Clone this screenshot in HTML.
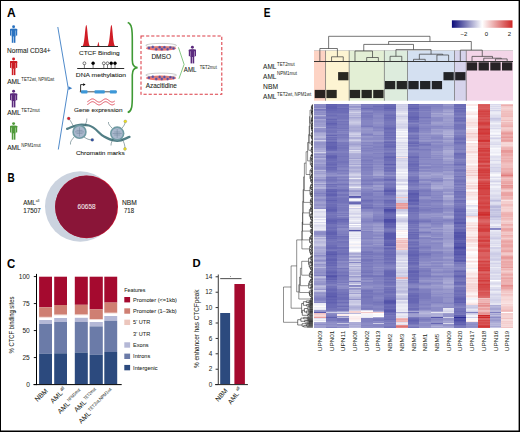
<!DOCTYPE html>
<html><head><meta charset="utf-8"><style>
html,body{margin:0;padding:0;background:#fff;}
#f{position:relative;width:520px;height:432px;overflow:hidden;background:#fff;}
svg{position:absolute;left:0;top:0;}
text{font-family:"Liberation Sans",sans-serif;stroke-width:0.05px;}
text.h{stroke-width:0.09px;}
</style></head><body><div id="f">
<svg width="520" height="432" viewBox="0 0 520 432">
<text transform="translate(6.9,17.1)" font-size="12" font-weight="bold" fill="#000" stroke="#000">A</text>
<g fill="#2a72c0"><circle cx="13.6" cy="26.7" r="1.45"/><path d="M10.00,29.40q0,-0.6 0.6,-0.6h6q0.6,0 0.6,0.6v1.2h-7.2z"/><rect x="10.00" y="29.30" width="1.3" height="6.3"/><rect x="15.90" y="29.30" width="1.3" height="6.3"/><rect x="11.60" y="28.80" width="4.0" height="7.6"/><rect x="11.80" y="35.90" width="1.55" height="6.9"/><rect x="13.85" y="35.90" width="1.55" height="6.9"/></g>
<g fill="#cc1d24"><circle cx="13.6" cy="59.0" r="1.45"/><path d="M10.00,61.70q0,-0.6 0.6,-0.6h6q0.6,0 0.6,0.6v1.2h-7.2z"/><rect x="10.00" y="61.60" width="1.3" height="6.3"/><rect x="15.90" y="61.60" width="1.3" height="6.3"/><rect x="11.60" y="61.10" width="4.0" height="7.6"/><rect x="11.80" y="68.20" width="1.55" height="6.9"/><rect x="13.85" y="68.20" width="1.55" height="6.9"/></g>
<g fill="#5b2a7d"><circle cx="13.6" cy="91.3" r="1.45"/><path d="M10.00,94.00q0,-0.6 0.6,-0.6h6q0.6,0 0.6,0.6v1.2h-7.2z"/><rect x="10.00" y="93.90" width="1.3" height="6.3"/><rect x="15.90" y="93.90" width="1.3" height="6.3"/><rect x="11.60" y="93.40" width="4.0" height="7.6"/><rect x="11.80" y="100.50" width="1.55" height="6.9"/><rect x="13.85" y="100.50" width="1.55" height="6.9"/></g>
<g fill="#4f9a3a"><circle cx="13.6" cy="123.6" r="1.45"/><path d="M10.00,126.30q0,-0.6 0.6,-0.6h6q0.6,0 0.6,0.6v1.2h-7.2z"/><rect x="10.00" y="126.20" width="1.3" height="6.3"/><rect x="15.90" y="126.20" width="1.3" height="6.3"/><rect x="11.60" y="125.70" width="4.0" height="7.6"/><rect x="11.80" y="132.80" width="1.55" height="6.9"/><rect x="13.85" y="132.80" width="1.55" height="6.9"/></g>
<text x="7" y="52.6" font-size="6.6" fill="#231f20" stroke="#231f20" class="h" textLength="43.7" lengthAdjust="spacingAndGlyphs">Normal CD34+</text>
<text x="7.2" y="83.7" font-size="7" fill="#231f20" stroke="#231f20" class="h" textLength="13.6" lengthAdjust="spacingAndGlyphs">AML</text>
<text x="21.3" y="80.8" font-size="4.9" fill="#231f20" textLength="33" lengthAdjust="spacingAndGlyphs">TET2wt, NPM1wt</text>
<text x="7.2" y="115.0" font-size="7" fill="#231f20" stroke="#231f20" class="h" textLength="13.6" lengthAdjust="spacingAndGlyphs">AML</text>
<text x="21.3" y="112.1" font-size="4.9" fill="#231f20" textLength="18.5" lengthAdjust="spacingAndGlyphs">TET2mut</text>
<text x="7.2" y="149.6" font-size="7" fill="#231f20" stroke="#231f20" class="h" textLength="13.6" lengthAdjust="spacingAndGlyphs">AML</text>
<text x="21.3" y="146.7" font-size="4.9" fill="#231f20" textLength="19.5" lengthAdjust="spacingAndGlyphs">NPM1mut</text>
<path d="M57.8,27 L68.2,88 L58.3,149.5" fill="none" stroke="#3b7dc4" stroke-width="0.9"/>
<path d="M68.5,86.3 L72.2,88.2 L68.5,90.1z" fill="#3b7dc4"/>
<path d="M82.1,46.5 C84.83,46.5 85.03999999999999,25 86.3,25 C87.56,25 87.77,46.5 90.5,46.5z M96.80000000000001,46.5 C97.84,46.5 97.92,42 98.4,42 C98.88000000000001,42 98.96000000000001,46.5 100.0,46.5z M107.2,46.5 C109.93,46.5 110.14,25 111.4,25 C112.66000000000001,25 112.87,46.5 115.60000000000001,46.5z" fill="#d01c25"/>
<rect x="81" y="46" width="37" height="1" fill="#2b2b2b"/>
<text x="79" y="55.3" font-size="6.2" fill="#231f20" stroke="#231f20" class="h" textLength="40.6" lengthAdjust="spacingAndGlyphs">CTCF Binding</text>
<rect x="77.2" y="68" width="47" height="1" fill="#2b2b2b"/>
<line x1="84.4" y1="64" x2="84.4" y2="68.2" stroke="#2b2b2b" stroke-width="0.6"/>
<circle cx="84.4" cy="63.3" r="1.45" fill="#fff" stroke="#000" stroke-width="0.5"/>
<line x1="93.1" y1="64" x2="93.1" y2="68.2" stroke="#2b2b2b" stroke-width="0.6"/>
<circle cx="93.1" cy="63.3" r="1.45" fill="#000" stroke="#000" stroke-width="0.5"/>
<line x1="103.8" y1="64" x2="103.8" y2="68.2" stroke="#2b2b2b" stroke-width="0.6"/>
<circle cx="103.8" cy="63.3" r="1.45" fill="#fff" stroke="#000" stroke-width="0.5"/>
<line x1="107.5" y1="64" x2="107.5" y2="68.2" stroke="#2b2b2b" stroke-width="0.6"/>
<circle cx="107.5" cy="63.3" r="1.45" fill="#fff" stroke="#000" stroke-width="0.5"/>
<line x1="111.2" y1="64" x2="111.2" y2="68.2" stroke="#2b2b2b" stroke-width="0.6"/>
<circle cx="111.2" cy="63.3" r="1.45" fill="#000" stroke="#000" stroke-width="0.5"/>
<line x1="115" y1="64" x2="115" y2="68.2" stroke="#2b2b2b" stroke-width="0.6"/>
<circle cx="115" cy="63.3" r="1.45" fill="#000" stroke="#000" stroke-width="0.5"/>
<text x="75.8" y="77" font-size="6.2" fill="#231f20" stroke="#231f20" class="h" textLength="50.2" lengthAdjust="spacingAndGlyphs">DNA methylation</text>
<rect x="79.8" y="91.3" width="37" height="1" fill="#555"/>
<rect x="81" y="90.2" width="6.5" height="3.4" rx="0.8" fill="#3d98d8"/>
<rect x="94.5" y="90.2" width="10.299999999999997" height="3.4" rx="0.8" fill="#3d98d8"/>
<rect x="109.8" y="90.2" width="6.900000000000006" height="3.4" rx="0.8" fill="#3d98d8"/>
<path d="M80.6,91.5 V84.6 H83.5" fill="none" stroke="#000" stroke-width="0.8"/>
<path d="M83.2,83.2 L85.6,84.6 L83.2,86z" fill="#000"/>
<path d="M87.30,101.79 L87.76,101.56 L88.22,101.27 L88.67,100.95 L89.13,100.60 L89.59,100.25 L90.05,99.91 L90.51,99.60 L90.97,99.33 L91.42,99.12 L91.88,98.98 L92.34,98.91 L92.80,98.91 L93.26,99.00 L93.72,99.15 L94.17,99.37 L94.63,99.64 L95.09,99.96 L95.55,100.30 L96.01,100.65 L96.47,101.00 L96.92,101.32 L97.38,101.60 L97.84,101.82 L98.30,101.99 L98.76,102.08 L99.22,102.10 L99.67,102.04 L100.13,101.90 L100.59,101.70 L101.05,101.44 L101.51,101.13 L101.97,100.80 L102.42,100.45 L102.88,100.10 L103.34,99.77 L103.80,99.48 L104.26,99.23 L104.72,99.05 L105.17,98.94 L105.63,98.90 L106.09,98.94 L106.55,99.05 L107.01,99.24 L107.47,99.48 L107.92,99.77 L108.38,100.10 L108.84,100.45 L109.30,100.80 L109.76,101.14 L110.22,101.44 L110.67,101.70 L111.13,101.90 L111.59,102.04 L112.05,102.10 L112.51,102.08 L112.97,101.99 L113.42,101.82 L113.88,101.59 L114.34,101.31 L114.80,100.99" fill="none" stroke="#dc3346" stroke-width="0.85"/>
<path d="M87.30,104.59 L87.76,104.36 L88.22,104.07 L88.67,103.75 L89.13,103.40 L89.59,103.05 L90.05,102.71 L90.51,102.40 L90.97,102.13 L91.42,101.92 L91.88,101.78 L92.34,101.71 L92.80,101.71 L93.26,101.80 L93.72,101.95 L94.17,102.17 L94.63,102.44 L95.09,102.76 L95.55,103.10 L96.01,103.45 L96.47,103.80 L96.92,104.12 L97.38,104.40 L97.84,104.62 L98.30,104.79 L98.76,104.88 L99.22,104.90 L99.67,104.84 L100.13,104.70 L100.59,104.50 L101.05,104.24 L101.51,103.93 L101.97,103.60 L102.42,103.25 L102.88,102.90 L103.34,102.57 L103.80,102.28 L104.26,102.03 L104.72,101.85 L105.17,101.74 L105.63,101.70 L106.09,101.74 L106.55,101.85 L107.01,102.04 L107.47,102.28 L107.92,102.57 L108.38,102.90 L108.84,103.25 L109.30,103.60 L109.76,103.94 L110.22,104.24 L110.67,104.50 L111.13,104.70 L111.59,104.84 L112.05,104.90 L112.51,104.88 L112.97,104.79 L113.42,104.62 L113.88,104.39 L114.34,104.11 L114.80,103.79" fill="none" stroke="#dc3346" stroke-width="0.85"/>
<text x="74" y="111.7" font-size="6.2" fill="#231f20" stroke="#231f20" class="h" textLength="48.5" lengthAdjust="spacingAndGlyphs">Gene expression</text>
<path d="M67.1,128.8 C72,127 75,125 79.5,124.8 C84,124.6 86,124.8 89,125.5 C96,127.5 99,134 104,136.5 C108,139 111,140.5 117,140.8 C122,141 126,138 129.5,136.9" fill="none" stroke="#527f86" stroke-width="2.3" stroke-linecap="round"/>
<circle cx="79.5" cy="131.9" r="7.2" fill="#6f9aa3"/>
<circle cx="79.5" cy="131.9" r="5.6" fill="#a9b7cc"/>
<path d="M75.0,131.9 H84.0 M79.5,127.4 V136.4 M76.5,130.4 H82.5 M76.5,133.4 H82.5" stroke="#6a7f96" stroke-width="0.45"/>
<circle cx="117.2" cy="133.5" r="7.2" fill="#6f9aa3"/>
<circle cx="117.2" cy="133.5" r="5.6" fill="#a9b7cc"/>
<path d="M112.7,133.5 H121.7 M117.2,129.0 V138.0 M114.2,132.0 H120.2 M114.2,135.0 H120.2" stroke="#6a7f96" stroke-width="0.45"/>
<path d="M74,127 C72,124 71,121 68.7,118.5" fill="none" stroke="#3f5f68" stroke-width="0.55"/>
<path d="M85,126 C86,123 87,121 86.8,118.5" fill="none" stroke="#3f5f68" stroke-width="0.55"/>
<path d="M84,137 C87,139 89,140 92.3,139.9" fill="none" stroke="#3f5f68" stroke-width="0.55"/>
<path d="M74,137 C72,140 70,141 70.5,144.5" fill="none" stroke="#3f5f68" stroke-width="0.55"/>
<path d="M112,128 C110,126 108,124 108.5,122" fill="none" stroke="#3f5f68" stroke-width="0.55"/>
<path d="M122,128 C124,126 125,124 125.3,121.4" fill="none" stroke="#3f5f68" stroke-width="0.55"/>
<path d="M113,139 C112,141 111,143 111,145.5" fill="none" stroke="#3f5f68" stroke-width="0.55"/>
<path d="M122,139 C124,142 125,145 125,149" fill="none" stroke="#3f5f68" stroke-width="0.55"/>
<circle cx="68.7" cy="118.5" r="1.45" fill="#e01b2a" stroke="#666" stroke-width="0.3"/>
<circle cx="92.3" cy="139.9" r="1.45" fill="#2c4fa8" stroke="#666" stroke-width="0.3"/>
<circle cx="125.3" cy="121.4" r="1.45" fill="#f2e51a" stroke="#666" stroke-width="0.3"/>
<circle cx="125" cy="149" r="1.45" fill="#f2e51a" stroke="#666" stroke-width="0.3"/>
<text x="75.9" y="154.8" font-size="6.2" fill="#231f20" stroke="#231f20" class="h" textLength="48.7" lengthAdjust="spacingAndGlyphs">Chromatin marks</text>
<path d="M127.7,22.6 C132,24 132.3,30 132.3,40 L132.3,60 C132.3,65 134,67.4 137.6,67.6 C134,67.8 132.3,70 132.3,75 L132.3,96 C132.3,106 132,111 127.7,112.6" fill="none" stroke="#3f9a35" stroke-width="1.6"/>
<rect x="141" y="36" width="80.8" height="58.3" fill="none" stroke="#dc3c46" stroke-width="1.05" stroke-dasharray="3.2,1.9"/>
<ellipse cx="161.1" cy="48.30" rx="15.1" ry="2.4" fill="#f3766c"/><ellipse cx="161.15" cy="45.40" rx="15.35" ry="2.0" fill="none" stroke="#8c8c8c" stroke-width="0.45"/><circle cx="149" cy="48.00" r="1.25" fill="#574c9c" stroke="#9088c4" stroke-width="0.3"/><circle cx="152.8" cy="47.10" r="1.25" fill="#574c9c" stroke="#9088c4" stroke-width="0.3"/><circle cx="156.2" cy="49.20" r="1.25" fill="#574c9c" stroke="#9088c4" stroke-width="0.3"/><circle cx="159.7" cy="47.30" r="1.25" fill="#574c9c" stroke="#9088c4" stroke-width="0.3"/><circle cx="161.8" cy="49.30" r="1.25" fill="#574c9c" stroke="#9088c4" stroke-width="0.3"/><circle cx="164.4" cy="47.30" r="1.25" fill="#574c9c" stroke="#9088c4" stroke-width="0.3"/><circle cx="167.6" cy="49.30" r="1.25" fill="#574c9c" stroke="#9088c4" stroke-width="0.3"/><circle cx="170.3" cy="47.60" r="1.25" fill="#574c9c" stroke="#9088c4" stroke-width="0.3"/><circle cx="173.5" cy="48.40" r="1.25" fill="#574c9c" stroke="#9088c4" stroke-width="0.3"/>
<text x="151.4" y="58.7" font-size="6.4" fill="#231f20" stroke="#231f20" class="h" textLength="19.6" lengthAdjust="spacingAndGlyphs">DMSO</text>
<ellipse cx="161.1" cy="78.00" rx="15.1" ry="2.4" fill="#f3766c"/><ellipse cx="161.15" cy="75.10" rx="15.35" ry="2.0" fill="none" stroke="#8c8c8c" stroke-width="0.45"/><circle cx="149" cy="77.70" r="1.25" fill="#574c9c" stroke="#9088c4" stroke-width="0.3"/><circle cx="152.8" cy="76.80" r="1.25" fill="#574c9c" stroke="#9088c4" stroke-width="0.3"/><circle cx="156.2" cy="78.90" r="1.25" fill="#574c9c" stroke="#9088c4" stroke-width="0.3"/><circle cx="159.7" cy="77.00" r="1.25" fill="#574c9c" stroke="#9088c4" stroke-width="0.3"/><circle cx="161.8" cy="79.00" r="1.25" fill="#574c9c" stroke="#9088c4" stroke-width="0.3"/><circle cx="164.4" cy="77.00" r="1.25" fill="#574c9c" stroke="#9088c4" stroke-width="0.3"/><circle cx="167.6" cy="79.00" r="1.25" fill="#574c9c" stroke="#9088c4" stroke-width="0.3"/><circle cx="170.3" cy="77.30" r="1.25" fill="#574c9c" stroke="#9088c4" stroke-width="0.3"/><circle cx="173.5" cy="78.10" r="1.25" fill="#574c9c" stroke="#9088c4" stroke-width="0.3"/>
<text x="145.7" y="88.4" font-size="6.4" fill="#231f20" stroke="#231f20" class="h" textLength="31.1" lengthAdjust="spacingAndGlyphs">Azacitidine</text>
<path d="M178.4,47.3 L184.1,64.4 L178.9,78.8" fill="none" stroke="#5cb45a" stroke-width="0.75"/>
<g fill="#5b2a7d"><circle cx="192.4" cy="47.3" r="1.45"/><path d="M188.80,50.00q0,-0.6 0.6,-0.6h6q0.6,0 0.6,0.6v1.2h-7.2z"/><rect x="188.80" y="49.90" width="1.3" height="6.3"/><rect x="194.70" y="49.90" width="1.3" height="6.3"/><rect x="190.40" y="49.40" width="4.0" height="7.6"/><rect x="190.60" y="56.50" width="1.55" height="6.9"/><rect x="192.65" y="56.50" width="1.55" height="6.9"/></g>
<text x="183.8" y="71.8" font-size="6.8" fill="#231f20" stroke="#231f20" class="h" textLength="12.6" lengthAdjust="spacingAndGlyphs">AML</text>
<text x="199.7" y="69.2" font-size="4.8" fill="#231f20" textLength="17.1" lengthAdjust="spacingAndGlyphs">TET2mut</text>
<text transform="translate(7.5,181.7) scale(0.83,1)" font-size="12" font-weight="bold" fill="#000" stroke="#000">B</text>
<circle cx="80.2" cy="206.5" r="35.2" fill="#cbd3df"/>
<circle cx="86.6" cy="206.8" r="31.4" fill="#c4122e"/>
<circle cx="86.1" cy="206.8" r="31.0" fill="#8a1538"/>
<text x="86.6" y="208.8" font-size="6.6" fill="#f2e6ea" stroke="#f2e6ea" class="h" text-anchor="middle" textLength="18" lengthAdjust="spacingAndGlyphs">60658</text>
<text x="23.2" y="205" font-size="6.8" fill="#231f20" stroke="#231f20" class="h" textLength="12.6" lengthAdjust="spacingAndGlyphs">AML</text>
<text x="35.8" y="202.3" font-size="4.2" fill="#231f20" textLength="3.6" lengthAdjust="spacingAndGlyphs">all</text>
<text x="23.2" y="213" font-size="6.8" fill="#231f20" stroke="#231f20" class="h" textLength="17.5" lengthAdjust="spacingAndGlyphs">17507</text>
<text x="121.9" y="205.4" font-size="6.8" fill="#231f20" stroke="#231f20" class="h" textLength="14.8" lengthAdjust="spacingAndGlyphs">NBM</text>
<text x="124" y="213" font-size="6.8" fill="#231f20" stroke="#231f20" class="h" textLength="10" lengthAdjust="spacingAndGlyphs">718</text>
<text transform="translate(6.95,267.8) scale(0.95,1)" font-size="12" font-weight="bold" fill="#000" stroke="#000">C</text>
<rect x="39.1" y="276.7" width="12.9" height="30.60" fill="#a50a2f"/>
<rect x="39.1" y="307.3" width="12.9" height="9.60" fill="#cf7f72"/>
<rect x="39.1" y="316.9" width="12.9" height="1.00" fill="#f2d6d0"/>
<rect x="39.1" y="317.9" width="12.9" height="2.10" fill="#ffffff"/>
<rect x="39.1" y="320.0" width="12.9" height="4.00" fill="#b4b8d6"/>
<rect x="39.1" y="324.0" width="12.9" height="29.80" fill="#6b7ba8"/>
<rect x="39.1" y="353.8" width="12.9" height="30.30" fill="#2c4a7e"/>
<rect x="54.2" y="276.7" width="12.8" height="28.30" fill="#a50a2f"/>
<rect x="54.2" y="305.0" width="12.8" height="9.70" fill="#cf7f72"/>
<rect x="54.2" y="314.7" width="12.8" height="0.90" fill="#f2d6d0"/>
<rect x="54.2" y="315.6" width="12.8" height="2.40" fill="#ffffff"/>
<rect x="54.2" y="318.0" width="12.8" height="4.00" fill="#b4b8d6"/>
<rect x="54.2" y="322.0" width="12.8" height="31.30" fill="#6b7ba8"/>
<rect x="54.2" y="353.3" width="12.8" height="30.80" fill="#2c4a7e"/>
<rect x="74.8" y="276.7" width="13.0" height="28.10" fill="#a50a2f"/>
<rect x="74.8" y="304.8" width="13.0" height="9.80" fill="#cf7f72"/>
<rect x="74.8" y="314.6" width="13.0" height="0.90" fill="#f2d6d0"/>
<rect x="74.8" y="315.5" width="13.0" height="2.30" fill="#ffffff"/>
<rect x="74.8" y="317.8" width="13.0" height="4.10" fill="#b4b8d6"/>
<rect x="74.8" y="321.9" width="13.0" height="30.60" fill="#6b7ba8"/>
<rect x="74.8" y="352.5" width="13.0" height="31.60" fill="#2c4a7e"/>
<rect x="89.6" y="276.7" width="13.2" height="32.70" fill="#a50a2f"/>
<rect x="89.6" y="309.4" width="13.2" height="9.70" fill="#cf7f72"/>
<rect x="89.6" y="319.1" width="13.2" height="0.90" fill="#f2d6d0"/>
<rect x="89.6" y="320.0" width="13.2" height="2.00" fill="#ffffff"/>
<rect x="89.6" y="322.0" width="13.2" height="4.40" fill="#b4b8d6"/>
<rect x="89.6" y="326.4" width="13.2" height="28.40" fill="#6b7ba8"/>
<rect x="89.6" y="354.8" width="13.2" height="29.30" fill="#2c4a7e"/>
<rect x="104.3" y="276.7" width="12.9" height="25.90" fill="#a50a2f"/>
<rect x="104.3" y="302.6" width="12.9" height="10.20" fill="#cf7f72"/>
<rect x="104.3" y="312.8" width="12.9" height="0.90" fill="#f2d6d0"/>
<rect x="104.3" y="313.7" width="12.9" height="2.30" fill="#ffffff"/>
<rect x="104.3" y="316.0" width="12.9" height="4.80" fill="#b4b8d6"/>
<rect x="104.3" y="320.8" width="12.9" height="31.20" fill="#6b7ba8"/>
<rect x="104.3" y="352.0" width="12.9" height="32.10" fill="#2c4a7e"/>
<rect x="36" y="273.9" width="1" height="111.2" fill="#000"/>
<rect x="33.5" y="384.1" width="88.2" height="1" fill="#000"/>
<rect x="33.8" y="276.15" width="2.4" height="0.9" fill="#000"/>
<text x="29.8" y="278.90000000000003" font-size="6.6" fill="#231f20" stroke="#231f20" text-anchor="end" style="stroke-width:0.03px">100</text>
<rect x="33.8" y="303.15" width="2.4" height="0.9" fill="#000"/>
<text x="29.8" y="305.90000000000003" font-size="6.6" fill="#231f20" stroke="#231f20" text-anchor="end" style="stroke-width:0.03px">75</text>
<rect x="33.8" y="330.15" width="2.4" height="0.9" fill="#000"/>
<text x="29.8" y="332.90000000000003" font-size="6.6" fill="#231f20" stroke="#231f20" text-anchor="end" style="stroke-width:0.03px">50</text>
<rect x="33.8" y="357.15" width="2.4" height="0.9" fill="#000"/>
<text x="29.8" y="359.90000000000003" font-size="6.6" fill="#231f20" stroke="#231f20" text-anchor="end" style="stroke-width:0.03px">25</text>
<rect x="33.8" y="384.15" width="2.4" height="0.9" fill="#000"/>
<text x="29.8" y="386.90000000000003" font-size="6.6" fill="#231f20" stroke="#231f20" text-anchor="end" style="stroke-width:0.03px">0</text>
<text transform="translate(13.9,353.5) rotate(-90)" font-size="7.1" fill="#231f20" stroke="#231f20" textLength="57" lengthAdjust="spacingAndGlyphs" style="stroke-width:0.03px">% CTCF binding sites</text>
<g transform="translate(48.3,391.4) rotate(-45)"><text x="0" y="0" font-size="6.8" fill="#231f20" stroke="#231f20" text-anchor="end">NBM</text></g>
<g transform="translate(63.0,393.8) rotate(-45)"><text x="0" y="0" font-size="6.8" fill="#231f20" stroke="#231f20" text-anchor="end">AML</text><text x="0.9" y="-2.6" font-size="4.8" fill="#231f20" textLength="4.2" lengthAdjust="spacingAndGlyphs">all</text></g>
<g transform="translate(70.2,404.3) rotate(-45)"><text x="0" y="0" font-size="6.8" fill="#231f20" stroke="#231f20" text-anchor="end">AML</text><text x="0.9" y="-2.6" font-size="4.8" fill="#231f20" textLength="16.5" lengthAdjust="spacingAndGlyphs">NPM1mut</text></g>
<g transform="translate(86.6,402.7) rotate(-45)"><text x="0" y="0" font-size="6.8" fill="#231f20" stroke="#231f20" text-anchor="end">AML</text><text x="0.9" y="-2.6" font-size="4.8" fill="#231f20" textLength="15.2" lengthAdjust="spacingAndGlyphs">TET2mut</text></g>
<g transform="translate(91.1,414.1) rotate(-45)"><text x="0" y="0" font-size="6.8" fill="#231f20" stroke="#231f20" text-anchor="end">AML</text><text x="0.9" y="-2.6" font-size="4.8" fill="#231f20" textLength="31" lengthAdjust="spacingAndGlyphs">TET2wt,NPM1wt</text></g>
<text x="124.3" y="292.2" font-size="5.6" fill="#231f20" stroke="#231f20" textLength="21.2" lengthAdjust="spacingAndGlyphs">Features</text>
<rect x="124.3" y="297.00" width="5.8" height="5.4" fill="#a50a2f"/>
<text x="133.1" y="301.7" font-size="5.6" fill="#231f20" stroke="#231f20">Promoter (&lt;=1kb)</text>
<rect x="124.3" y="308.32" width="5.8" height="5.4" fill="#cf7f72"/>
<text x="133.1" y="313.02" font-size="5.6" fill="#231f20" stroke="#231f20">Promoter (1–3kb)</text>
<rect x="124.3" y="319.64" width="5.8" height="5.4" fill="#ecc6bd"/>
<text x="133.1" y="324.34" font-size="5.6" fill="#231f20" stroke="#231f20">5' UTR</text>
<text x="133.1" y="335.65999999999997" font-size="5.6" fill="#231f20" stroke="#231f20">3' UTR</text>
<rect x="124.3" y="342.28" width="5.8" height="5.4" fill="#b4b8d6"/>
<text x="133.1" y="346.98" font-size="5.6" fill="#231f20" stroke="#231f20">Exons</text>
<rect x="124.3" y="353.60" width="5.8" height="5.4" fill="#6b7ba8"/>
<text x="133.1" y="358.3" font-size="5.6" fill="#231f20" stroke="#231f20">Introns</text>
<rect x="124.3" y="364.92" width="5.8" height="5.4" fill="#2c4a7e"/>
<text x="133.1" y="369.62" font-size="5.6" fill="#231f20" stroke="#231f20">Intergenic</text>
<text transform="translate(192.6,266.7) scale(0.94,0.88)" font-size="12" font-weight="bold" fill="#000" stroke="#000">D</text>
<rect x="220.2" y="313" width="9.9" height="71.1" fill="#2c4a7e"/>
<rect x="234.4" y="284" width="10.5" height="100.1" fill="#a50a2f"/>
<rect x="217.8" y="274.5" width="0.9" height="110.5" fill="#222"/>
<rect x="215.1" y="384.1" width="32.8" height="1" fill="#222"/>
<rect x="215.6" y="384.15" width="2.4" height="0.9" fill="#222"/>
<text x="212.3" y="386.8" font-size="6.4" fill="#231f20" stroke="#231f20" text-anchor="end" style="stroke-width:0.03px">0</text>
<rect x="215.6" y="368.75" width="2.4" height="0.9" fill="#222"/>
<text x="212.3" y="371.40000000000003" font-size="6.4" fill="#231f20" stroke="#231f20" text-anchor="end" style="stroke-width:0.03px">2</text>
<rect x="215.6" y="353.35" width="2.4" height="0.9" fill="#222"/>
<text x="212.3" y="356.0" font-size="6.4" fill="#231f20" stroke="#231f20" text-anchor="end" style="stroke-width:0.03px">4</text>
<rect x="215.6" y="337.95" width="2.4" height="0.9" fill="#222"/>
<text x="212.3" y="340.6" font-size="6.4" fill="#231f20" stroke="#231f20" text-anchor="end" style="stroke-width:0.03px">6</text>
<rect x="215.6" y="322.55" width="2.4" height="0.9" fill="#222"/>
<text x="212.3" y="325.2" font-size="6.4" fill="#231f20" stroke="#231f20" text-anchor="end" style="stroke-width:0.03px">8</text>
<rect x="215.6" y="307.15" width="2.4" height="0.9" fill="#222"/>
<text x="212.3" y="309.8" font-size="6.4" fill="#231f20" stroke="#231f20" text-anchor="end" style="stroke-width:0.03px">10</text>
<rect x="215.6" y="291.75" width="2.4" height="0.9" fill="#222"/>
<text x="212.3" y="294.40000000000003" font-size="6.4" fill="#231f20" stroke="#231f20" text-anchor="end" style="stroke-width:0.03px">12</text>
<rect x="215.6" y="276.35" width="2.4" height="0.9" fill="#222"/>
<text x="212.3" y="279.0" font-size="6.4" fill="#231f20" stroke="#231f20" text-anchor="end" style="stroke-width:0.03px">14</text>
<rect x="220.2" y="278.3" width="21.3" height="0.8" fill="#222"/>
<circle cx="230.4" cy="276.4" r="0.45" fill="#222"/>
<text transform="translate(198.7,368.0) rotate(-90)" font-size="6.8" fill="#231f20" stroke="#231f20" textLength="78.5" lengthAdjust="spacingAndGlyphs" style="stroke-width:0.03px">% enhancer has CTCFpeak</text>
<g transform="translate(228.0,391.0) rotate(-48)"><text font-size="6.6" fill="#231f20" stroke="#231f20" text-anchor="end">NBM</text></g>
<g transform="translate(239.3,394.0) rotate(-52)"><text font-size="6.6" fill="#231f20" stroke="#231f20" text-anchor="end">AML</text><text x="1" y="-3" font-size="4.2" fill="#231f20">all</text></g>
<text transform="translate(263.8,17.1) scale(0.84,1)" font-size="12" font-weight="bold" fill="#000" stroke="#000">E</text>
<defs><linearGradient id="cb" x1="0" x2="1" y1="0" y2="0"><stop offset="0" stop-color="#0c0c7a"/><stop offset="0.5" stop-color="#ffffff"/><stop offset="1" stop-color="#cd2626"/></linearGradient></defs>
<rect x="451.9" y="20.3" width="60.6" height="7.5" fill="url(#cb)"/>
<text x="463.9" y="36.3" font-size="6.0" fill="#231f20" stroke="#231f20" text-anchor="middle">−2</text>
<text x="486.3" y="36.3" font-size="6.0" fill="#231f20" stroke="#231f20" text-anchor="middle">0</text>
<text x="509.5" y="36.3" font-size="6.0" fill="#231f20" stroke="#231f20" text-anchor="middle">2</text>
<rect x="314.00" y="50.5" width="11.71" height="50.2" fill="#fdd3c4"/>
<rect x="325.71" y="50.5" width="23.41" height="50.2" fill="#fdf4d2"/>
<rect x="349.12" y="50.5" width="35.12" height="50.2" fill="#e3efd5"/>
<rect x="384.24" y="50.5" width="23.41" height="50.2" fill="#ddecdd"/>
<rect x="407.65" y="50.5" width="46.82" height="50.2" fill="#d4e0f1"/>
<rect x="454.47" y="50.5" width="11.71" height="50.2" fill="#d6d3eb"/>
<rect x="466.18" y="50.5" width="46.82" height="50.2" fill="#f3d5e8"/>
<rect x="314.0" y="50.3" width="199.0" height="0.5" fill="#b0b0b0"/>
<rect x="325.41" y="50.5" width="0.6" height="50.2" fill="#555"/>
<rect x="348.82" y="50.5" width="0.6" height="50.2" fill="#555"/>
<rect x="383.94" y="50.5" width="0.6" height="50.2" fill="#555"/>
<rect x="407.35" y="50.5" width="0.6" height="50.2" fill="#555"/>
<rect x="454.17" y="50.5" width="0.6" height="50.2" fill="#555"/>
<rect x="465.88" y="50.5" width="0.6" height="50.2" fill="#555"/>
<rect x="314.0" y="61.1" width="199.0" height="0.9" fill="#222"/>
<rect x="466.88" y="62.3" width="10.31" height="8.2" fill="#000" fill-opacity="0.84"/>
<rect x="478.58" y="62.3" width="10.31" height="8.2" fill="#000" fill-opacity="0.84"/>
<rect x="490.29" y="62.3" width="10.31" height="8.2" fill="#000" fill-opacity="0.84"/>
<rect x="501.99" y="62.3" width="10.31" height="8.2" fill="#000" fill-opacity="0.84"/>
<rect x="338.11" y="72.1" width="10.31" height="8.2" fill="#000" fill-opacity="0.84"/>
<rect x="443.46" y="72.1" width="10.31" height="8.2" fill="#000" fill-opacity="0.84"/>
<rect x="455.17" y="72.1" width="10.31" height="8.2" fill="#000" fill-opacity="0.84"/>
<rect x="384.94" y="81.0" width="10.31" height="8.2" fill="#000" fill-opacity="0.84"/>
<rect x="396.64" y="81.0" width="10.31" height="8.2" fill="#000" fill-opacity="0.84"/>
<rect x="408.35" y="81.0" width="10.31" height="8.2" fill="#000" fill-opacity="0.84"/>
<rect x="420.05" y="81.0" width="10.31" height="8.2" fill="#000" fill-opacity="0.84"/>
<rect x="431.76" y="81.0" width="10.31" height="8.2" fill="#000" fill-opacity="0.84"/>
<rect x="314.70" y="89.9" width="10.31" height="8.2" fill="#000" fill-opacity="0.84"/>
<rect x="326.41" y="89.9" width="10.31" height="8.2" fill="#000" fill-opacity="0.84"/>
<rect x="349.82" y="89.9" width="10.31" height="8.2" fill="#000" fill-opacity="0.84"/>
<rect x="361.52" y="89.9" width="10.31" height="8.2" fill="#000" fill-opacity="0.84"/>
<rect x="373.23" y="89.9" width="10.31" height="8.2" fill="#000" fill-opacity="0.84"/>
<text x="263.1" y="68.8" font-size="6.9" fill="#231f20" stroke="#231f20" textLength="13.4" lengthAdjust="spacingAndGlyphs">AML</text>
<text x="277.1" y="65.5" font-size="4.8" fill="#231f20" textLength="17.6" lengthAdjust="spacingAndGlyphs">TET2mut</text>
<text x="263.1" y="78.7" font-size="6.9" fill="#231f20" stroke="#231f20" textLength="13.4" lengthAdjust="spacingAndGlyphs">AML</text>
<text x="277.1" y="75.4" font-size="4.8" fill="#231f20" textLength="19.8" lengthAdjust="spacingAndGlyphs">NPM1mut</text>
<text x="263.1" y="99.0" font-size="6.9" fill="#231f20" stroke="#231f20" textLength="13.4" lengthAdjust="spacingAndGlyphs">AML</text>
<text x="277.1" y="95.7" font-size="4.8" fill="#231f20" textLength="34.1" lengthAdjust="spacingAndGlyphs">TET2wt, NPM1wt</text>
<text x="263.1" y="89.0" font-size="6.9" fill="#231f20" stroke="#231f20" textLength="14.9" lengthAdjust="spacingAndGlyphs">NBM</text>
<path d="M331.56,61.60V56.80H343.26V61.60 M319.85,61.60V48.50H337.41V56.80 M366.68,61.60V57.50H378.38V61.60 M354.97,61.60V51.00H372.53V57.50 M390.09,61.60V56.30H401.79V61.60 M413.50,61.60V59.30H425.21V61.60 M436.91,61.60V55.00H448.62V61.60 M419.35,59.30V54.20H442.76V55.00 M395.94,56.30V49.60H431.06V54.20 M363.75,51.00V44.40H413.50V49.60 M495.44,61.60V58.90H507.15V61.60 M483.74,61.60V58.20H501.29V58.90 M472.03,61.60V56.40H492.51V58.20 M460.32,61.60V50.10H482.27V56.40 M388.62,44.40V41.50H471.30V50.10 M328.63,48.50V36.30H429.96V41.50" fill="none" stroke="#3a3a3a" stroke-width="0.7"/>
<g transform="translate(314.00,0)" shape-rendering="crispEdges">
<rect y="104.40" width="12.306" height="2.60" fill="#8c8cc6"/><rect y="106.40" width="12.306" height="2.60" fill="#8686c3"/><rect y="108.40" width="12.306" height="1.60" fill="#9f9fcf"/><rect y="109.40" width="12.306" height="1.60" fill="#7979bc"/><rect y="110.41" width="12.306" height="1.60" fill="#8080c0"/><rect y="111.41" width="12.306" height="1.60" fill="#9393c9"/><rect y="112.41" width="12.306" height="1.60" fill="#8c8cc6"/><rect y="113.41" width="12.306" height="1.60" fill="#9393c9"/><rect y="114.41" width="12.306" height="1.60" fill="#8c8cc6"/><rect y="115.41" width="12.306" height="1.60" fill="#b2b2d9"/><rect y="116.41" width="12.306" height="1.60" fill="#9393c9"/><rect y="117.41" width="12.306" height="2.60" fill="#8686c3"/><rect y="119.41" width="12.306" height="1.60" fill="#a6a6d3"/><rect y="120.41" width="12.306" height="1.60" fill="#9999cc"/><rect y="121.42" width="12.306" height="1.60" fill="#9393c9"/><rect y="122.42" width="12.306" height="1.60" fill="#9999cc"/><rect y="123.42" width="12.306" height="1.60" fill="#9f9fcf"/><rect y="124.42" width="12.306" height="1.60" fill="#9999cc"/><rect y="125.42" width="12.306" height="2.60" fill="#9f9fcf"/><rect y="127.42" width="12.306" height="1.60" fill="#bfbfdf"/><rect y="128.42" width="12.306" height="2.60" fill="#9393c9"/><rect y="130.42" width="12.306" height="2.60" fill="#8c8cc6"/><rect y="132.43" width="12.306" height="1.60" fill="#9f9fcf"/><rect y="133.43" width="12.306" height="3.60" fill="#acacd6"/><rect y="136.43" width="12.306" height="2.60" fill="#b9b9dc"/><rect y="138.43" width="12.306" height="1.60" fill="#a6a6d3"/><rect y="139.43" width="12.306" height="1.60" fill="#9f9fcf"/><rect y="140.43" width="12.306" height="1.60" fill="#d2d2e9"/><rect y="141.43" width="12.306" height="1.60" fill="#acacd6"/><rect y="142.43" width="12.306" height="3.60" fill="#9393c9"/><rect y="145.44" width="12.306" height="3.60" fill="#9999cc"/><rect y="148.44" width="12.306" height="2.60" fill="#a6a6d3"/><rect y="150.44" width="12.306" height="1.60" fill="#b2b2d9"/><rect y="151.44" width="12.306" height="1.60" fill="#acacd6"/><rect y="152.44" width="12.306" height="1.60" fill="#d2d2e9"/><rect y="153.44" width="12.306" height="1.60" fill="#a6a6d3"/><rect y="154.44" width="12.306" height="1.60" fill="#9393c9"/><rect y="155.45" width="12.306" height="1.60" fill="#a6a6d3"/><rect y="156.45" width="12.306" height="1.60" fill="#9999cc"/><rect y="157.45" width="12.306" height="1.60" fill="#9393c9"/><rect y="158.45" width="12.306" height="1.60" fill="#b2b2d9"/><rect y="159.45" width="12.306" height="1.60" fill="#a6a6d3"/><rect y="160.45" width="12.306" height="2.60" fill="#9999cc"/><rect y="162.45" width="12.306" height="1.60" fill="#9f9fcf"/><rect y="163.45" width="12.306" height="1.60" fill="#a6a6d3"/><rect y="164.45" width="12.306" height="1.60" fill="#9393c9"/><rect y="165.45" width="12.306" height="1.60" fill="#9999cc"/><rect y="166.46" width="12.306" height="1.60" fill="#9393c9"/><rect y="167.46" width="12.306" height="2.60" fill="#8c8cc6"/><rect y="169.46" width="12.306" height="1.60" fill="#9393c9"/><rect y="170.46" width="12.306" height="1.60" fill="#b9b9dc"/><rect y="171.46" width="12.306" height="1.60" fill="#9f9fcf"/><rect y="172.46" width="12.306" height="1.60" fill="#a6a6d3"/><rect y="173.46" width="12.306" height="1.60" fill="#9f9fcf"/><rect y="174.46" width="12.306" height="1.60" fill="#acacd6"/><rect y="175.46" width="12.306" height="2.60" fill="#b2b2d9"/><rect y="177.47" width="12.306" height="1.60" fill="#9f9fcf"/><rect y="178.47" width="12.306" height="1.60" fill="#a6a6d3"/><rect y="179.47" width="12.306" height="1.60" fill="#9393c9"/><rect y="180.47" width="12.306" height="1.60" fill="#8c8cc6"/><rect y="181.47" width="12.306" height="1.60" fill="#9f9fcf"/><rect y="182.47" width="12.306" height="1.60" fill="#a6a6d3"/><rect y="183.47" width="12.306" height="1.60" fill="#b9b9dc"/><rect y="184.47" width="12.306" height="1.60" fill="#9393c9"/><rect y="185.47" width="12.306" height="1.60" fill="#acacd6"/><rect y="186.47" width="12.306" height="1.60" fill="#a6a6d3"/><rect y="187.47" width="12.306" height="1.60" fill="#b9b9dc"/><rect y="188.48" width="12.306" height="1.60" fill="#b2b2d9"/><rect y="189.48" width="12.306" height="2.60" fill="#9393c9"/><rect y="191.48" width="12.306" height="2.60" fill="#8c8cc6"/><rect y="193.48" width="12.306" height="1.60" fill="#8080c0"/><rect y="194.48" width="12.306" height="1.60" fill="#8c8cc6"/><rect y="195.48" width="12.306" height="1.60" fill="#8686c3"/><rect y="196.48" width="12.306" height="1.60" fill="#9393c9"/><rect y="197.48" width="12.306" height="1.60" fill="#9f9fcf"/><rect y="198.48" width="12.306" height="1.60" fill="#9999cc"/><rect y="199.49" width="12.306" height="2.60" fill="#8c8cc6"/><rect y="201.49" width="12.306" height="1.60" fill="#9999cc"/><rect y="202.49" width="12.306" height="2.60" fill="#9f9fcf"/><rect y="204.49" width="12.306" height="2.60" fill="#9393c9"/><rect y="206.49" width="12.306" height="1.60" fill="#9f9fcf"/><rect y="207.49" width="12.306" height="1.60" fill="#9999cc"/><rect y="208.49" width="12.306" height="1.60" fill="#8c8cc6"/><rect y="209.49" width="12.306" height="1.60" fill="#ececf5"/><rect y="210.50" width="12.306" height="1.60" fill="#d9d9ec"/><rect y="211.50" width="12.306" height="1.60" fill="#dfdfef"/><rect y="212.50" width="12.306" height="3.60" fill="#e6e6f2"/><rect y="215.50" width="12.306" height="2.60" fill="#d9d9ec"/><rect y="217.50" width="12.306" height="1.60" fill="#f9f9fc"/><rect y="218.50" width="12.306" height="1.60" fill="#dfdfef"/><rect y="219.50" width="12.306" height="1.60" fill="#f2f2f9"/><rect y="220.50" width="12.306" height="1.60" fill="#f9f9fc"/><rect y="221.50" width="12.306" height="1.60" fill="#d9d9ec"/><rect y="222.51" width="12.306" height="1.60" fill="#f2f2f9"/><rect y="223.51" width="12.306" height="1.60" fill="#e6e6f2"/><rect y="224.51" width="12.306" height="1.60" fill="#d9d9ec"/><rect y="225.51" width="12.306" height="1.60" fill="#dfdfef"/><rect y="226.51" width="12.306" height="2.60" fill="#e6e6f2"/><rect y="228.51" width="12.306" height="1.60" fill="#ececf5"/><rect y="229.51" width="12.306" height="1.60" fill="#d2d2e9"/><rect y="230.51" width="12.306" height="1.60" fill="#9393c9"/><rect y="231.51" width="12.306" height="3.60" fill="#8c8cc6"/><rect y="234.52" width="12.306" height="2.60" fill="#9f9fcf"/><rect y="236.52" width="12.306" height="1.60" fill="#c6c6e2"/><rect y="237.52" width="12.306" height="1.60" fill="#acacd6"/><rect y="238.52" width="12.306" height="1.60" fill="#bfbfdf"/><rect y="239.52" width="12.306" height="1.60" fill="#c6c6e2"/><rect y="240.52" width="12.306" height="2.60" fill="#b9b9dc"/><rect y="242.52" width="12.306" height="1.60" fill="#bfbfdf"/><rect y="243.52" width="12.306" height="2.60" fill="#c6c6e2"/><rect y="245.53" width="12.306" height="1.60" fill="#b2b2d9"/><rect y="246.53" width="12.306" height="2.60" fill="#a6a6d3"/><rect y="248.53" width="12.306" height="1.60" fill="#b2b2d9"/><rect y="249.53" width="12.306" height="2.60" fill="#acacd6"/><rect y="251.53" width="12.306" height="1.60" fill="#a6a6d3"/><rect y="252.53" width="12.306" height="1.60" fill="#9f9fcf"/><rect y="253.53" width="12.306" height="1.60" fill="#a6a6d3"/><rect y="254.53" width="12.306" height="1.60" fill="#8c8cc6"/><rect y="255.54" width="12.306" height="1.60" fill="#9999cc"/><rect y="256.54" width="12.306" height="1.60" fill="#a6a6d3"/><rect y="257.54" width="12.306" height="1.60" fill="#acacd6"/><rect y="258.54" width="12.306" height="1.60" fill="#9f9fcf"/><rect y="259.54" width="12.306" height="1.60" fill="#8c8cc6"/><rect y="260.54" width="12.306" height="1.60" fill="#9999cc"/><rect y="261.54" width="12.306" height="1.60" fill="#b2b2d9"/><rect y="262.54" width="12.306" height="1.60" fill="#acacd6"/><rect y="263.54" width="12.306" height="1.60" fill="#9393c9"/><rect y="264.54" width="12.306" height="2.60" fill="#9f9fcf"/><rect y="266.55" width="12.306" height="1.60" fill="#b9b9dc"/><rect y="267.55" width="12.306" height="2.60" fill="#9999cc"/><rect y="269.55" width="12.306" height="2.60" fill="#9393c9"/><rect y="271.55" width="12.306" height="1.60" fill="#8c8cc6"/><rect y="272.55" width="12.306" height="2.60" fill="#9393c9"/><rect y="274.55" width="12.306" height="1.60" fill="#8080c0"/><rect y="275.55" width="12.306" height="1.60" fill="#b2b2d9"/><rect y="276.55" width="12.306" height="1.60" fill="#bfbfdf"/><rect y="277.56" width="12.306" height="1.60" fill="#a6a6d3"/><rect y="278.56" width="12.306" height="1.60" fill="#9999cc"/><rect y="279.56" width="12.306" height="1.60" fill="#a6a6d3"/><rect y="280.56" width="12.306" height="2.60" fill="#9999cc"/><rect y="282.56" width="12.306" height="2.60" fill="#9393c9"/><rect y="284.56" width="12.306" height="1.60" fill="#b2b2d9"/><rect y="285.56" width="12.306" height="1.60" fill="#bfbfdf"/><rect y="286.56" width="12.306" height="1.60" fill="#b2b2d9"/><rect y="287.56" width="12.306" height="1.60" fill="#acacd6"/><rect y="288.57" width="12.306" height="1.60" fill="#9999cc"/><rect y="289.57" width="12.306" height="1.60" fill="#cccce6"/><rect y="290.57" width="12.306" height="1.60" fill="#bfbfdf"/><rect y="291.57" width="12.306" height="1.60" fill="#9999cc"/><rect y="292.57" width="12.306" height="1.60" fill="#9393c9"/><rect y="293.57" width="12.306" height="1.60" fill="#9999cc"/><rect y="294.57" width="12.306" height="1.60" fill="#9393c9"/><rect y="295.57" width="12.306" height="1.60" fill="#8c8cc6"/><rect y="296.57" width="12.306" height="1.60" fill="#8686c3"/><rect y="297.57" width="12.306" height="2.60" fill="#8080c0"/><rect y="299.57" width="12.306" height="1.60" fill="#8686c3"/><rect y="300.58" width="12.306" height="1.60" fill="#9393c9"/><rect y="301.58" width="12.306" height="1.60" fill="#8686c3"/><rect y="302.58" width="12.306" height="2.60" fill="#ececf5"/><rect y="304.58" width="12.306" height="1.60" fill="#f2f2f9"/><rect y="305.58" width="12.306" height="1.60" fill="#fefafa"/><rect y="306.58" width="12.306" height="1.60" fill="#ececf5"/><rect y="307.58" width="12.306" height="1.60" fill="#f2f2f9"/><rect y="308.58" width="12.306" height="1.60" fill="#e6e6f2"/><rect y="309.58" width="12.306" height="1.60" fill="#9999cc"/><rect y="310.58" width="12.306" height="1.60" fill="#9393c9"/><rect y="311.59" width="12.306" height="1.60" fill="#5959ac"/><rect y="312.59" width="12.306" height="1.60" fill="#f1c3c3"/><rect y="313.59" width="12.306" height="1.60" fill="#f4cece"/><rect y="314.59" width="12.306" height="1.60" fill="#f6d9d9"/><rect y="315.59" width="12.306" height="1.60" fill="#f4cece"/><rect y="316.59" width="12.306" height="1.60" fill="#e89d9d"/><rect y="317.59" width="12.306" height="1.60" fill="#dfdfef"/><rect y="318.59" width="12.306" height="1.60" fill="#f2f2f9"/><rect y="319.59" width="12.306" height="1.60" fill="#e6e6f2"/><rect y="320.59" width="12.306" height="1.60" fill="#f9f9fc"/><rect y="321.59" width="12.306" height="1.60" fill="#a6a6d3"/><rect y="322.60" width="12.306" height="1.60" fill="#9f9fcf"/><rect y="323.60" width="12.306" height="1.60" fill="#8c8cc6"/><rect y="324.60" width="12.306" height="3.00" fill="#9f9fcf"/></g>
<g transform="translate(325.71,0)" shape-rendering="crispEdges">
<rect y="104.40" width="12.306" height="1.60" fill="#6060b0"/><rect y="105.40" width="12.306" height="1.60" fill="#6666b3"/><rect y="106.40" width="12.306" height="3.60" fill="#6060b0"/><rect y="109.40" width="12.306" height="2.60" fill="#6666b3"/><rect y="111.41" width="12.306" height="2.60" fill="#6c6cb6"/><rect y="113.41" width="12.306" height="2.60" fill="#7373b9"/><rect y="115.41" width="12.306" height="1.60" fill="#6c6cb6"/><rect y="116.41" width="12.306" height="1.60" fill="#7373b9"/><rect y="117.41" width="12.306" height="1.60" fill="#7979bc"/><rect y="118.41" width="12.306" height="1.60" fill="#7373b9"/><rect y="119.41" width="12.306" height="1.60" fill="#6666b3"/><rect y="120.41" width="12.306" height="1.60" fill="#7373b9"/><rect y="121.42" width="12.306" height="2.60" fill="#6c6cb6"/><rect y="123.42" width="12.306" height="1.60" fill="#6060b0"/><rect y="124.42" width="12.306" height="1.60" fill="#6666b3"/><rect y="125.42" width="12.306" height="1.60" fill="#6c6cb6"/><rect y="126.42" width="12.306" height="1.60" fill="#7373b9"/><rect y="127.42" width="12.306" height="1.60" fill="#6c6cb6"/><rect y="128.42" width="12.306" height="1.60" fill="#7373b9"/><rect y="129.42" width="12.306" height="1.60" fill="#7979bc"/><rect y="130.42" width="12.306" height="3.60" fill="#7373b9"/><rect y="133.43" width="12.306" height="1.60" fill="#8080c0"/><rect y="134.43" width="12.306" height="1.60" fill="#7979bc"/><rect y="135.43" width="12.306" height="1.60" fill="#6666b3"/><rect y="136.43" width="12.306" height="1.60" fill="#8080c0"/><rect y="137.43" width="12.306" height="1.60" fill="#6c6cb6"/><rect y="138.43" width="12.306" height="1.60" fill="#7373b9"/><rect y="139.43" width="12.306" height="1.60" fill="#6c6cb6"/><rect y="140.43" width="12.306" height="1.60" fill="#7979bc"/><rect y="141.43" width="12.306" height="1.60" fill="#7373b9"/><rect y="142.43" width="12.306" height="1.60" fill="#6060b0"/><rect y="143.43" width="12.306" height="3.60" fill="#6666b3"/><rect y="146.44" width="12.306" height="3.60" fill="#6060b0"/><rect y="149.44" width="12.306" height="1.60" fill="#6666b3"/><rect y="150.44" width="12.306" height="1.60" fill="#6c6cb6"/><rect y="151.44" width="12.306" height="2.60" fill="#8080c0"/><rect y="153.44" width="12.306" height="2.60" fill="#7373b9"/><rect y="155.45" width="12.306" height="1.60" fill="#6666b3"/><rect y="156.45" width="12.306" height="2.60" fill="#6060b0"/><rect y="158.45" width="12.306" height="1.60" fill="#6666b3"/><rect y="159.45" width="12.306" height="2.60" fill="#6c6cb6"/><rect y="161.45" width="12.306" height="1.60" fill="#7373b9"/><rect y="162.45" width="12.306" height="2.60" fill="#6c6cb6"/><rect y="164.45" width="12.306" height="1.60" fill="#6666b3"/><rect y="165.45" width="12.306" height="1.60" fill="#6c6cb6"/><rect y="166.46" width="12.306" height="1.60" fill="#7373b9"/><rect y="167.46" width="12.306" height="1.60" fill="#6666b3"/><rect y="168.46" width="12.306" height="2.60" fill="#6c6cb6"/><rect y="170.46" width="12.306" height="1.60" fill="#7373b9"/><rect y="171.46" width="12.306" height="1.60" fill="#7979bc"/><rect y="172.46" width="12.306" height="1.60" fill="#8080c0"/><rect y="173.46" width="12.306" height="2.60" fill="#8c8cc6"/><rect y="175.46" width="12.306" height="1.60" fill="#9393c9"/><rect y="176.46" width="12.306" height="1.60" fill="#8686c3"/><rect y="177.47" width="12.306" height="1.60" fill="#7373b9"/><rect y="178.47" width="12.306" height="1.60" fill="#7979bc"/><rect y="179.47" width="12.306" height="2.60" fill="#7373b9"/><rect y="181.47" width="12.306" height="1.60" fill="#7979bc"/><rect y="182.47" width="12.306" height="1.60" fill="#8080c0"/><rect y="183.47" width="12.306" height="1.60" fill="#8686c3"/><rect y="184.47" width="12.306" height="1.60" fill="#6c6cb6"/><rect y="185.47" width="12.306" height="1.60" fill="#7979bc"/><rect y="186.47" width="12.306" height="1.60" fill="#7373b9"/><rect y="187.47" width="12.306" height="2.60" fill="#8080c0"/><rect y="189.48" width="12.306" height="2.60" fill="#6666b3"/><rect y="191.48" width="12.306" height="1.60" fill="#6060b0"/><rect y="192.48" width="12.306" height="1.60" fill="#6c6cb6"/><rect y="193.48" width="12.306" height="1.60" fill="#6666b3"/><rect y="194.48" width="12.306" height="2.60" fill="#6060b0"/><rect y="196.48" width="12.306" height="1.60" fill="#6c6cb6"/><rect y="197.48" width="12.306" height="1.60" fill="#7373b9"/><rect y="198.48" width="12.306" height="2.60" fill="#6c6cb6"/><rect y="200.49" width="12.306" height="1.60" fill="#6060b0"/><rect y="201.49" width="12.306" height="2.60" fill="#6c6cb6"/><rect y="203.49" width="12.306" height="1.60" fill="#7373b9"/><rect y="204.49" width="12.306" height="3.60" fill="#6c6cb6"/><rect y="207.49" width="12.306" height="2.60" fill="#6666b3"/><rect y="209.49" width="12.306" height="1.60" fill="#6060b0"/><rect y="210.50" width="12.306" height="1.60" fill="#6666b3"/><rect y="211.50" width="12.306" height="2.60" fill="#7373b9"/><rect y="213.50" width="12.306" height="1.60" fill="#7979bc"/><rect y="214.50" width="12.306" height="3.60" fill="#7373b9"/><rect y="217.50" width="12.306" height="1.60" fill="#6c6cb6"/><rect y="218.50" width="12.306" height="1.60" fill="#6666b3"/><rect y="219.50" width="12.306" height="2.60" fill="#6060b0"/><rect y="221.50" width="12.306" height="2.60" fill="#6666b3"/><rect y="223.51" width="12.306" height="3.60" fill="#7373b9"/><rect y="226.51" width="12.306" height="2.60" fill="#6c6cb6"/><rect y="228.51" width="12.306" height="1.60" fill="#7373b9"/><rect y="229.51" width="12.306" height="1.60" fill="#6c6cb6"/><rect y="230.51" width="12.306" height="1.60" fill="#6666b3"/><rect y="231.51" width="12.306" height="3.60" fill="#6060b0"/><rect y="234.52" width="12.306" height="1.60" fill="#6c6cb6"/><rect y="235.52" width="12.306" height="1.60" fill="#6666b3"/><rect y="236.52" width="12.306" height="1.60" fill="#6c6cb6"/><rect y="237.52" width="12.306" height="1.60" fill="#6666b3"/><rect y="238.52" width="12.306" height="2.60" fill="#7373b9"/><rect y="240.52" width="12.306" height="1.60" fill="#7979bc"/><rect y="241.52" width="12.306" height="3.60" fill="#7373b9"/><rect y="244.53" width="12.306" height="2.60" fill="#6c6cb6"/><rect y="246.53" width="12.306" height="2.60" fill="#6666b3"/><rect y="248.53" width="12.306" height="1.60" fill="#7373b9"/><rect y="249.53" width="12.306" height="1.60" fill="#7979bc"/><rect y="250.53" width="12.306" height="1.60" fill="#6666b3"/><rect y="251.53" width="12.306" height="2.60" fill="#6060b0"/><rect y="253.53" width="12.306" height="1.60" fill="#5959ac"/><rect y="254.53" width="12.306" height="2.60" fill="#6666b3"/><rect y="256.54" width="12.306" height="1.60" fill="#6c6cb6"/><rect y="257.54" width="12.306" height="1.60" fill="#6666b3"/><rect y="258.54" width="12.306" height="2.60" fill="#6060b0"/><rect y="260.54" width="12.306" height="1.60" fill="#6c6cb6"/><rect y="261.54" width="12.306" height="2.60" fill="#6666b3"/><rect y="263.54" width="12.306" height="1.60" fill="#6c6cb6"/><rect y="264.54" width="12.306" height="1.60" fill="#6666b3"/><rect y="265.54" width="12.306" height="2.60" fill="#7373b9"/><rect y="267.55" width="12.306" height="1.60" fill="#6c6cb6"/><rect y="268.55" width="12.306" height="1.60" fill="#7373b9"/><rect y="269.55" width="12.306" height="1.60" fill="#6c6cb6"/><rect y="270.55" width="12.306" height="1.60" fill="#6666b3"/><rect y="271.55" width="12.306" height="1.60" fill="#6060b0"/><rect y="272.55" width="12.306" height="1.60" fill="#6666b3"/><rect y="273.55" width="12.306" height="1.60" fill="#6c6cb6"/><rect y="274.55" width="12.306" height="1.60" fill="#5959ac"/><rect y="275.55" width="12.306" height="1.60" fill="#5353a9"/><rect y="276.55" width="12.306" height="1.60" fill="#6060b0"/><rect y="277.56" width="12.306" height="1.60" fill="#6666b3"/><rect y="278.56" width="12.306" height="1.60" fill="#6060b0"/><rect y="279.56" width="12.306" height="1.60" fill="#7373b9"/><rect y="280.56" width="12.306" height="1.60" fill="#6c6cb6"/><rect y="281.56" width="12.306" height="2.60" fill="#7373b9"/><rect y="283.56" width="12.306" height="2.60" fill="#8080c0"/><rect y="285.56" width="12.306" height="2.60" fill="#7373b9"/><rect y="287.56" width="12.306" height="1.60" fill="#6c6cb6"/><rect y="288.57" width="12.306" height="2.60" fill="#6666b3"/><rect y="290.57" width="12.306" height="1.60" fill="#6c6cb6"/><rect y="291.57" width="12.306" height="1.60" fill="#6666b3"/><rect y="292.57" width="12.306" height="3.60" fill="#6060b0"/><rect y="295.57" width="12.306" height="1.60" fill="#5959ac"/><rect y="296.57" width="12.306" height="1.60" fill="#6060b0"/><rect y="297.57" width="12.306" height="1.60" fill="#6666b3"/><rect y="298.57" width="12.306" height="1.60" fill="#6060b0"/><rect y="299.57" width="12.306" height="2.60" fill="#6666b3"/><rect y="301.58" width="12.306" height="1.60" fill="#6060b0"/><rect y="302.58" width="12.306" height="1.60" fill="#6666b3"/><rect y="303.58" width="12.306" height="4.60" fill="#6c6cb6"/><rect y="307.58" width="12.306" height="2.60" fill="#7373b9"/><rect y="309.58" width="12.306" height="1.60" fill="#7979bc"/><rect y="310.58" width="12.306" height="1.60" fill="#9393c9"/><rect y="311.59" width="12.306" height="1.60" fill="#cccce6"/><rect y="312.59" width="12.306" height="1.60" fill="#8c8cc6"/><rect y="313.59" width="12.306" height="1.60" fill="#8686c3"/><rect y="314.59" width="12.306" height="1.60" fill="#8080c0"/><rect y="315.59" width="12.306" height="1.60" fill="#7979bc"/><rect y="316.59" width="12.306" height="1.60" fill="#6060b0"/><rect y="317.59" width="12.306" height="3.60" fill="#7979bc"/><rect y="320.59" width="12.306" height="1.60" fill="#8686c3"/><rect y="321.59" width="12.306" height="1.60" fill="#8c8cc6"/><rect y="322.60" width="12.306" height="1.60" fill="#9393c9"/><rect y="323.60" width="12.306" height="1.60" fill="#8c8cc6"/><rect y="324.60" width="12.306" height="2.60" fill="#9393c9"/><rect y="326.60" width="12.306" height="1.00" fill="#8080c0"/></g>
<g transform="translate(337.41,0)" shape-rendering="crispEdges">
<rect y="104.40" width="12.306" height="3.60" fill="#6c6cb6"/><rect y="107.40" width="12.306" height="1.60" fill="#7373b9"/><rect y="108.40" width="12.306" height="1.60" fill="#6666b3"/><rect y="109.40" width="12.306" height="4.60" fill="#6c6cb6"/><rect y="113.41" width="12.306" height="1.60" fill="#7373b9"/><rect y="114.41" width="12.306" height="1.60" fill="#7979bc"/><rect y="115.41" width="12.306" height="4.60" fill="#7373b9"/><rect y="119.41" width="12.306" height="1.60" fill="#7979bc"/><rect y="120.41" width="12.306" height="1.60" fill="#8080c0"/><rect y="121.42" width="12.306" height="1.60" fill="#7373b9"/><rect y="122.42" width="12.306" height="2.60" fill="#7979bc"/><rect y="124.42" width="12.306" height="1.60" fill="#7373b9"/><rect y="125.42" width="12.306" height="3.60" fill="#7979bc"/><rect y="128.42" width="12.306" height="1.60" fill="#7373b9"/><rect y="129.42" width="12.306" height="1.60" fill="#8080c0"/><rect y="130.42" width="12.306" height="1.60" fill="#7979bc"/><rect y="131.42" width="12.306" height="1.60" fill="#8686c3"/><rect y="132.43" width="12.306" height="1.60" fill="#8080c0"/><rect y="133.43" width="12.306" height="1.60" fill="#8686c3"/><rect y="134.43" width="12.306" height="2.60" fill="#7979bc"/><rect y="136.43" width="12.306" height="1.60" fill="#8080c0"/><rect y="137.43" width="12.306" height="1.60" fill="#7979bc"/><rect y="138.43" width="12.306" height="1.60" fill="#8080c0"/><rect y="139.43" width="12.306" height="1.60" fill="#8686c3"/><rect y="140.43" width="12.306" height="2.60" fill="#8c8cc6"/><rect y="142.43" width="12.306" height="3.60" fill="#7979bc"/><rect y="145.44" width="12.306" height="1.60" fill="#7373b9"/><rect y="146.44" width="12.306" height="1.60" fill="#7979bc"/><rect y="147.44" width="12.306" height="2.60" fill="#7373b9"/><rect y="149.44" width="12.306" height="2.60" fill="#7979bc"/><rect y="151.44" width="12.306" height="2.60" fill="#8080c0"/><rect y="153.44" width="12.306" height="3.60" fill="#7979bc"/><rect y="156.45" width="12.306" height="1.60" fill="#7373b9"/><rect y="157.45" width="12.306" height="4.60" fill="#7979bc"/><rect y="161.45" width="12.306" height="2.60" fill="#7373b9"/><rect y="163.45" width="12.306" height="2.60" fill="#7979bc"/><rect y="165.45" width="12.306" height="1.60" fill="#8080c0"/><rect y="166.46" width="12.306" height="1.60" fill="#7979bc"/><rect y="167.46" width="12.306" height="1.60" fill="#8080c0"/><rect y="168.46" width="12.306" height="2.60" fill="#8686c3"/><rect y="170.46" width="12.306" height="1.60" fill="#7979bc"/><rect y="171.46" width="12.306" height="1.60" fill="#8080c0"/><rect y="172.46" width="12.306" height="1.60" fill="#8686c3"/><rect y="173.46" width="12.306" height="1.60" fill="#8080c0"/><rect y="174.46" width="12.306" height="1.60" fill="#8c8cc6"/><rect y="175.46" width="12.306" height="1.60" fill="#9999cc"/><rect y="176.46" width="12.306" height="1.60" fill="#8686c3"/><rect y="177.47" width="12.306" height="1.60" fill="#8080c0"/><rect y="178.47" width="12.306" height="1.60" fill="#8c8cc6"/><rect y="179.47" width="12.306" height="1.60" fill="#8080c0"/><rect y="180.47" width="12.306" height="1.60" fill="#7979bc"/><rect y="181.47" width="12.306" height="2.60" fill="#8686c3"/><rect y="183.47" width="12.306" height="1.60" fill="#8080c0"/><rect y="184.47" width="12.306" height="1.60" fill="#7373b9"/><rect y="185.47" width="12.306" height="1.60" fill="#8080c0"/><rect y="186.47" width="12.306" height="1.60" fill="#8686c3"/><rect y="187.47" width="12.306" height="2.60" fill="#8080c0"/><rect y="189.48" width="12.306" height="1.60" fill="#7373b9"/><rect y="190.48" width="12.306" height="1.60" fill="#6c6cb6"/><rect y="191.48" width="12.306" height="1.60" fill="#7373b9"/><rect y="192.48" width="12.306" height="2.60" fill="#8080c0"/><rect y="194.48" width="12.306" height="2.60" fill="#7373b9"/><rect y="196.48" width="12.306" height="1.60" fill="#8080c0"/><rect y="197.48" width="12.306" height="1.60" fill="#7979bc"/><rect y="198.48" width="12.306" height="5.60" fill="#7373b9"/><rect y="203.49" width="12.306" height="1.60" fill="#7979bc"/><rect y="204.49" width="12.306" height="1.60" fill="#8080c0"/><rect y="205.49" width="12.306" height="1.60" fill="#7979bc"/><rect y="206.49" width="12.306" height="1.60" fill="#8080c0"/><rect y="207.49" width="12.306" height="3.60" fill="#7979bc"/><rect y="210.50" width="12.306" height="1.60" fill="#8080c0"/><rect y="211.50" width="12.306" height="1.60" fill="#8686c3"/><rect y="212.50" width="12.306" height="1.60" fill="#7979bc"/><rect y="213.50" width="12.306" height="1.60" fill="#8686c3"/><rect y="214.50" width="12.306" height="1.60" fill="#7979bc"/><rect y="215.50" width="12.306" height="1.60" fill="#8c8cc6"/><rect y="216.50" width="12.306" height="1.60" fill="#7979bc"/><rect y="217.50" width="12.306" height="1.60" fill="#7373b9"/><rect y="218.50" width="12.306" height="1.60" fill="#6666b3"/><rect y="219.50" width="12.306" height="2.60" fill="#6c6cb6"/><rect y="221.50" width="12.306" height="1.60" fill="#7373b9"/><rect y="222.51" width="12.306" height="2.60" fill="#7979bc"/><rect y="224.51" width="12.306" height="1.60" fill="#8686c3"/><rect y="225.51" width="12.306" height="1.60" fill="#8080c0"/><rect y="226.51" width="12.306" height="1.60" fill="#7979bc"/><rect y="227.51" width="12.306" height="2.60" fill="#8c8cc6"/><rect y="229.51" width="12.306" height="1.60" fill="#8686c3"/><rect y="230.51" width="12.306" height="3.60" fill="#8080c0"/><rect y="233.52" width="12.306" height="1.60" fill="#7979bc"/><rect y="234.52" width="12.306" height="1.60" fill="#8080c0"/><rect y="235.52" width="12.306" height="1.60" fill="#6c6cb6"/><rect y="236.52" width="12.306" height="2.60" fill="#7373b9"/><rect y="238.52" width="12.306" height="1.60" fill="#7979bc"/><rect y="239.52" width="12.306" height="1.60" fill="#8080c0"/><rect y="240.52" width="12.306" height="2.60" fill="#7373b9"/><rect y="242.52" width="12.306" height="3.60" fill="#7979bc"/><rect y="245.53" width="12.306" height="1.60" fill="#8080c0"/><rect y="246.53" width="12.306" height="2.60" fill="#6c6cb6"/><rect y="248.53" width="12.306" height="1.60" fill="#7979bc"/><rect y="249.53" width="12.306" height="3.60" fill="#7373b9"/><rect y="252.53" width="12.306" height="2.60" fill="#6c6cb6"/><rect y="254.53" width="12.306" height="3.60" fill="#7979bc"/><rect y="257.54" width="12.306" height="1.60" fill="#8080c0"/><rect y="258.54" width="12.306" height="2.60" fill="#7979bc"/><rect y="260.54" width="12.306" height="1.60" fill="#8c8cc6"/><rect y="261.54" width="12.306" height="1.60" fill="#8686c3"/><rect y="262.54" width="12.306" height="1.60" fill="#8080c0"/><rect y="263.54" width="12.306" height="2.60" fill="#8686c3"/><rect y="265.54" width="12.306" height="2.60" fill="#8c8cc6"/><rect y="267.55" width="12.306" height="1.60" fill="#7373b9"/><rect y="268.55" width="12.306" height="2.60" fill="#8080c0"/><rect y="270.55" width="12.306" height="1.60" fill="#7979bc"/><rect y="271.55" width="12.306" height="1.60" fill="#7373b9"/><rect y="272.55" width="12.306" height="2.60" fill="#7979bc"/><rect y="274.55" width="12.306" height="1.60" fill="#6c6cb6"/><rect y="275.55" width="12.306" height="1.60" fill="#7373b9"/><rect y="276.55" width="12.306" height="3.60" fill="#7979bc"/><rect y="279.56" width="12.306" height="2.60" fill="#8080c0"/><rect y="281.56" width="12.306" height="1.60" fill="#7979bc"/><rect y="282.56" width="12.306" height="1.60" fill="#8c8cc6"/><rect y="283.56" width="12.306" height="1.60" fill="#8080c0"/><rect y="284.56" width="12.306" height="1.60" fill="#8c8cc6"/><rect y="285.56" width="12.306" height="1.60" fill="#9393c9"/><rect y="286.56" width="12.306" height="2.60" fill="#8c8cc6"/><rect y="288.57" width="12.306" height="3.60" fill="#7979bc"/><rect y="291.57" width="12.306" height="2.60" fill="#7373b9"/><rect y="293.57" width="12.306" height="1.60" fill="#6c6cb6"/><rect y="294.57" width="12.306" height="2.60" fill="#7373b9"/><rect y="296.57" width="12.306" height="3.60" fill="#6c6cb6"/><rect y="299.57" width="12.306" height="2.60" fill="#7979bc"/><rect y="301.58" width="12.306" height="1.60" fill="#6c6cb6"/><rect y="302.58" width="12.306" height="1.60" fill="#7979bc"/><rect y="303.58" width="12.306" height="1.60" fill="#8080c0"/><rect y="304.58" width="12.306" height="1.60" fill="#7979bc"/><rect y="305.58" width="12.306" height="1.60" fill="#6c6cb6"/><rect y="306.58" width="12.306" height="1.60" fill="#8080c0"/><rect y="307.58" width="12.306" height="1.60" fill="#7979bc"/><rect y="308.58" width="12.306" height="1.60" fill="#7373b9"/><rect y="309.58" width="12.306" height="1.60" fill="#7979bc"/><rect y="310.58" width="12.306" height="1.60" fill="#a6a6d3"/><rect y="311.59" width="12.306" height="1.60" fill="#d2d2e9"/><rect y="312.59" width="12.306" height="1.60" fill="#9f9fcf"/><rect y="313.59" width="12.306" height="1.60" fill="#fbefef"/><rect y="314.59" width="12.306" height="1.60" fill="#fae9e9"/><rect y="315.59" width="12.306" height="1.60" fill="#9393c9"/><rect y="316.59" width="12.306" height="1.60" fill="#b9b9dc"/><rect y="317.59" width="12.306" height="3.60" fill="#7373b9"/><rect y="320.59" width="12.306" height="1.60" fill="#8080c0"/><rect y="321.59" width="12.306" height="1.60" fill="#8686c3"/><rect y="322.60" width="12.306" height="1.60" fill="#c6c6e2"/><rect y="323.60" width="12.306" height="1.60" fill="#8686c3"/><rect y="324.60" width="12.306" height="1.60" fill="#8c8cc6"/><rect y="325.60" width="12.306" height="1.60" fill="#9999cc"/><rect y="326.60" width="12.306" height="1.00" fill="#8c8cc6"/></g>
<g transform="translate(349.12,0)" shape-rendering="crispEdges">
<rect y="104.40" width="12.306" height="1.60" fill="#a6a6d3"/><rect y="105.40" width="12.306" height="1.60" fill="#b2b2d9"/><rect y="106.40" width="12.306" height="1.60" fill="#9393c9"/><rect y="107.40" width="12.306" height="1.60" fill="#9999cc"/><rect y="108.40" width="12.306" height="1.60" fill="#b2b2d9"/><rect y="109.40" width="12.306" height="1.60" fill="#9f9fcf"/><rect y="110.41" width="12.306" height="1.60" fill="#b9b9dc"/><rect y="111.41" width="12.306" height="1.60" fill="#bfbfdf"/><rect y="112.41" width="12.306" height="1.60" fill="#d2d2e9"/><rect y="113.41" width="12.306" height="1.60" fill="#b9b9dc"/><rect y="114.41" width="12.306" height="1.60" fill="#bfbfdf"/><rect y="115.41" width="12.306" height="1.60" fill="#b2b2d9"/><rect y="116.41" width="12.306" height="1.60" fill="#bfbfdf"/><rect y="117.41" width="12.306" height="1.60" fill="#a6a6d3"/><rect y="118.41" width="12.306" height="1.60" fill="#b2b2d9"/><rect y="119.41" width="12.306" height="1.60" fill="#b9b9dc"/><rect y="120.41" width="12.306" height="1.60" fill="#bfbfdf"/><rect y="121.42" width="12.306" height="1.60" fill="#c6c6e2"/><rect y="122.42" width="12.306" height="1.60" fill="#cccce6"/><rect y="123.42" width="12.306" height="1.60" fill="#c6c6e2"/><rect y="124.42" width="12.306" height="1.60" fill="#bfbfdf"/><rect y="125.42" width="12.306" height="1.60" fill="#b2b2d9"/><rect y="126.42" width="12.306" height="1.60" fill="#acacd6"/><rect y="127.42" width="12.306" height="1.60" fill="#a6a6d3"/><rect y="128.42" width="12.306" height="2.60" fill="#acacd6"/><rect y="130.42" width="12.306" height="1.60" fill="#a6a6d3"/><rect y="131.42" width="12.306" height="1.60" fill="#acacd6"/><rect y="132.43" width="12.306" height="1.60" fill="#bfbfdf"/><rect y="133.43" width="12.306" height="1.60" fill="#cccce6"/><rect y="134.43" width="12.306" height="1.60" fill="#d2d2e9"/><rect y="135.43" width="12.306" height="1.60" fill="#bfbfdf"/><rect y="136.43" width="12.306" height="1.60" fill="#cccce6"/><rect y="137.43" width="12.306" height="2.60" fill="#acacd6"/><rect y="139.43" width="12.306" height="1.60" fill="#c6c6e2"/><rect y="140.43" width="12.306" height="1.60" fill="#d2d2e9"/><rect y="141.43" width="12.306" height="1.60" fill="#b9b9dc"/><rect y="142.43" width="12.306" height="1.60" fill="#acacd6"/><rect y="143.43" width="12.306" height="1.60" fill="#a6a6d3"/><rect y="144.44" width="12.306" height="1.60" fill="#9f9fcf"/><rect y="145.44" width="12.306" height="1.60" fill="#acacd6"/><rect y="146.44" width="12.306" height="1.60" fill="#b2b2d9"/><rect y="147.44" width="12.306" height="2.60" fill="#bfbfdf"/><rect y="149.44" width="12.306" height="1.60" fill="#b2b2d9"/><rect y="150.44" width="12.306" height="1.60" fill="#dfdfef"/><rect y="151.44" width="12.306" height="1.60" fill="#c6c6e2"/><rect y="152.44" width="12.306" height="1.60" fill="#cccce6"/><rect y="153.44" width="12.306" height="1.60" fill="#b2b2d9"/><rect y="154.44" width="12.306" height="4.60" fill="#acacd6"/><rect y="158.45" width="12.306" height="1.60" fill="#9f9fcf"/><rect y="159.45" width="12.306" height="1.60" fill="#bfbfdf"/><rect y="160.45" width="12.306" height="1.60" fill="#acacd6"/><rect y="161.45" width="12.306" height="2.60" fill="#b2b2d9"/><rect y="163.45" width="12.306" height="1.60" fill="#b9b9dc"/><rect y="164.45" width="12.306" height="1.60" fill="#a6a6d3"/><rect y="165.45" width="12.306" height="1.60" fill="#c6c6e2"/><rect y="166.46" width="12.306" height="1.60" fill="#b2b2d9"/><rect y="167.46" width="12.306" height="1.60" fill="#a6a6d3"/><rect y="168.46" width="12.306" height="1.60" fill="#acacd6"/><rect y="169.46" width="12.306" height="1.60" fill="#b9b9dc"/><rect y="170.46" width="12.306" height="1.60" fill="#b2b2d9"/><rect y="171.46" width="12.306" height="1.60" fill="#acacd6"/><rect y="172.46" width="12.306" height="1.60" fill="#b9b9dc"/><rect y="173.46" width="12.306" height="1.60" fill="#c6c6e2"/><rect y="174.46" width="12.306" height="2.60" fill="#d2d2e9"/><rect y="176.46" width="12.306" height="2.60" fill="#bfbfdf"/><rect y="178.47" width="12.306" height="1.60" fill="#ececf5"/><rect y="179.47" width="12.306" height="1.60" fill="#b9b9dc"/><rect y="180.47" width="12.306" height="1.60" fill="#b2b2d9"/><rect y="181.47" width="12.306" height="1.60" fill="#b9b9dc"/><rect y="182.47" width="12.306" height="1.60" fill="#c6c6e2"/><rect y="183.47" width="12.306" height="1.60" fill="#cccce6"/><rect y="184.47" width="12.306" height="1.60" fill="#b2b2d9"/><rect y="185.47" width="12.306" height="1.60" fill="#bfbfdf"/><rect y="186.47" width="12.306" height="1.60" fill="#d2d2e9"/><rect y="187.47" width="12.306" height="1.60" fill="#ececf5"/><rect y="188.48" width="12.306" height="1.60" fill="#bfbfdf"/><rect y="189.48" width="12.306" height="1.60" fill="#b9b9dc"/><rect y="190.48" width="12.306" height="1.60" fill="#9f9fcf"/><rect y="191.48" width="12.306" height="1.60" fill="#9999cc"/><rect y="192.48" width="12.306" height="1.60" fill="#b2b2d9"/><rect y="193.48" width="12.306" height="1.60" fill="#acacd6"/><rect y="194.48" width="12.306" height="1.60" fill="#b2b2d9"/><rect y="195.48" width="12.306" height="1.60" fill="#b9b9dc"/><rect y="196.48" width="12.306" height="1.60" fill="#5959ac"/><rect y="197.48" width="12.306" height="1.60" fill="#6666b3"/><rect y="198.48" width="12.306" height="1.60" fill="#d2d2e9"/><rect y="199.49" width="12.306" height="1.60" fill="#f9f9fc"/><rect y="200.49" width="12.306" height="1.60" fill="#f2f2f9"/><rect y="201.49" width="12.306" height="1.60" fill="#a6a6d3"/><rect y="202.49" width="12.306" height="1.60" fill="#6c6cb6"/><rect y="203.49" width="12.306" height="1.60" fill="#6666b3"/><rect y="204.49" width="12.306" height="1.60" fill="#acacd6"/><rect y="205.49" width="12.306" height="2.60" fill="#e6e6f2"/><rect y="207.49" width="12.306" height="1.60" fill="#fcf4f4"/><rect y="208.49" width="12.306" height="1.60" fill="#cccce6"/><rect y="209.49" width="12.306" height="1.60" fill="#e6e6f2"/><rect y="210.50" width="12.306" height="2.60" fill="#dfdfef"/><rect y="212.50" width="12.306" height="1.60" fill="#d2d2e9"/><rect y="213.50" width="12.306" height="1.60" fill="#d9d9ec"/><rect y="214.50" width="12.306" height="1.60" fill="#ececf5"/><rect y="215.50" width="12.306" height="1.60" fill="#dfdfef"/><rect y="216.50" width="12.306" height="1.60" fill="#d2d2e9"/><rect y="217.50" width="12.306" height="2.60" fill="#e6e6f2"/><rect y="219.50" width="12.306" height="1.60" fill="#f2f2f9"/><rect y="220.50" width="12.306" height="1.60" fill="#e6e6f2"/><rect y="221.50" width="12.306" height="1.60" fill="#dfdfef"/><rect y="222.51" width="12.306" height="1.60" fill="#cccce6"/><rect y="223.51" width="12.306" height="1.60" fill="#ffffff"/><rect y="224.51" width="12.306" height="1.60" fill="#d9d9ec"/><rect y="225.51" width="12.306" height="1.60" fill="#f2f2f9"/><rect y="226.51" width="12.306" height="1.60" fill="#d2d2e9"/><rect y="227.51" width="12.306" height="1.60" fill="#cccce6"/><rect y="228.51" width="12.306" height="1.60" fill="#c6c6e2"/><rect y="229.51" width="12.306" height="1.60" fill="#5353a9"/><rect y="230.51" width="12.306" height="1.60" fill="#b9b9dc"/><rect y="231.51" width="12.306" height="2.60" fill="#ececf5"/><rect y="233.52" width="12.306" height="1.60" fill="#e6e6f2"/><rect y="234.52" width="12.306" height="1.60" fill="#ececf5"/><rect y="235.52" width="12.306" height="1.60" fill="#e6e6f2"/><rect y="236.52" width="12.306" height="1.60" fill="#f2f2f9"/><rect y="237.52" width="12.306" height="1.60" fill="#dfdfef"/><rect y="238.52" width="12.306" height="2.60" fill="#f2f2f9"/><rect y="240.52" width="12.306" height="1.60" fill="#f9f9fc"/><rect y="241.52" width="12.306" height="1.60" fill="#fefafa"/><rect y="242.52" width="12.306" height="1.60" fill="#f2f2f9"/><rect y="243.52" width="12.306" height="1.60" fill="#ececf5"/><rect y="244.53" width="12.306" height="1.60" fill="#fcf4f4"/><rect y="245.53" width="12.306" height="1.60" fill="#f2f2f9"/><rect y="246.53" width="12.306" height="1.60" fill="#e6e6f2"/><rect y="247.53" width="12.306" height="1.60" fill="#f2f2f9"/><rect y="248.53" width="12.306" height="1.60" fill="#f9f9fc"/><rect y="249.53" width="12.306" height="1.60" fill="#ffffff"/><rect y="250.53" width="12.306" height="1.60" fill="#f2f2f9"/><rect y="251.53" width="12.306" height="1.60" fill="#c6c6e2"/><rect y="252.53" width="12.306" height="1.60" fill="#a6a6d3"/><rect y="253.53" width="12.306" height="1.60" fill="#acacd6"/><rect y="254.53" width="12.306" height="1.60" fill="#bfbfdf"/><rect y="255.54" width="12.306" height="1.60" fill="#9f9fcf"/><rect y="256.54" width="12.306" height="1.60" fill="#acacd6"/><rect y="257.54" width="12.306" height="1.60" fill="#cccce6"/><rect y="258.54" width="12.306" height="1.60" fill="#b2b2d9"/><rect y="259.54" width="12.306" height="1.60" fill="#a6a6d3"/><rect y="260.54" width="12.306" height="1.60" fill="#c6c6e2"/><rect y="261.54" width="12.306" height="1.60" fill="#8686c3"/><rect y="262.54" width="12.306" height="2.60" fill="#bfbfdf"/><rect y="264.54" width="12.306" height="1.60" fill="#d2d2e9"/><rect y="265.54" width="12.306" height="1.60" fill="#acacd6"/><rect y="266.55" width="12.306" height="1.60" fill="#c6c6e2"/><rect y="267.55" width="12.306" height="1.60" fill="#bfbfdf"/><rect y="268.55" width="12.306" height="1.60" fill="#b9b9dc"/><rect y="269.55" width="12.306" height="1.60" fill="#acacd6"/><rect y="270.55" width="12.306" height="1.60" fill="#bfbfdf"/><rect y="271.55" width="12.306" height="3.60" fill="#acacd6"/><rect y="274.55" width="12.306" height="1.60" fill="#c6c6e2"/><rect y="275.55" width="12.306" height="1.60" fill="#9999cc"/><rect y="276.55" width="12.306" height="1.60" fill="#acacd6"/><rect y="277.56" width="12.306" height="1.60" fill="#b9b9dc"/><rect y="278.56" width="12.306" height="1.60" fill="#bfbfdf"/><rect y="279.56" width="12.306" height="1.60" fill="#b9b9dc"/><rect y="280.56" width="12.306" height="1.60" fill="#8080c0"/><rect y="281.56" width="12.306" height="2.60" fill="#b9b9dc"/><rect y="283.56" width="12.306" height="1.60" fill="#dfdfef"/><rect y="284.56" width="12.306" height="1.60" fill="#8686c3"/><rect y="285.56" width="12.306" height="1.60" fill="#8c8cc6"/><rect y="286.56" width="12.306" height="1.60" fill="#cccce6"/><rect y="287.56" width="12.306" height="1.60" fill="#9393c9"/><rect y="288.57" width="12.306" height="1.60" fill="#9f9fcf"/><rect y="289.57" width="12.306" height="1.60" fill="#b9b9dc"/><rect y="290.57" width="12.306" height="1.60" fill="#b2b2d9"/><rect y="291.57" width="12.306" height="1.60" fill="#bfbfdf"/><rect y="292.57" width="12.306" height="1.60" fill="#9f9fcf"/><rect y="293.57" width="12.306" height="1.60" fill="#cccce6"/><rect y="294.57" width="12.306" height="1.60" fill="#c6c6e2"/><rect y="295.57" width="12.306" height="1.60" fill="#bfbfdf"/><rect y="296.57" width="12.306" height="2.60" fill="#b2b2d9"/><rect y="298.57" width="12.306" height="1.60" fill="#9393c9"/><rect y="299.57" width="12.306" height="1.60" fill="#cccce6"/><rect y="300.58" width="12.306" height="2.60" fill="#c6c6e2"/><rect y="302.58" width="12.306" height="1.60" fill="#cccce6"/><rect y="303.58" width="12.306" height="1.60" fill="#d2d2e9"/><rect y="304.58" width="12.306" height="1.60" fill="#bfbfdf"/><rect y="305.58" width="12.306" height="1.60" fill="#b2b2d9"/><rect y="306.58" width="12.306" height="1.60" fill="#acacd6"/><rect y="307.58" width="12.306" height="1.60" fill="#b2b2d9"/><rect y="308.58" width="12.306" height="1.60" fill="#b9b9dc"/><rect y="309.58" width="12.306" height="1.60" fill="#d2d2e9"/><rect y="310.58" width="12.306" height="2.60" fill="#f5d4d4"/><rect y="312.59" width="12.306" height="1.60" fill="#b9b9dc"/><rect y="313.59" width="12.306" height="2.60" fill="#fefafa"/><rect y="315.59" width="12.306" height="2.60" fill="#fbefef"/><rect y="317.59" width="12.306" height="1.60" fill="#fae9e9"/><rect y="318.59" width="12.306" height="1.60" fill="#fbefef"/><rect y="319.59" width="12.306" height="1.60" fill="#fcf4f4"/><rect y="320.59" width="12.306" height="1.60" fill="#fefafa"/><rect y="321.59" width="12.306" height="2.60" fill="#acacd6"/><rect y="323.60" width="12.306" height="1.60" fill="#a6a6d3"/><rect y="324.60" width="12.306" height="1.60" fill="#b2b2d9"/><rect y="325.60" width="12.306" height="1.60" fill="#acacd6"/><rect y="326.60" width="12.306" height="1.00" fill="#b9b9dc"/></g>
<g transform="translate(360.82,0)" shape-rendering="crispEdges">
<rect y="104.40" width="12.306" height="1.60" fill="#7979bc"/><rect y="105.40" width="12.306" height="1.60" fill="#8080c0"/><rect y="106.40" width="12.306" height="2.60" fill="#7979bc"/><rect y="108.40" width="12.306" height="1.60" fill="#6c6cb6"/><rect y="109.40" width="12.306" height="1.60" fill="#7979bc"/><rect y="110.41" width="12.306" height="1.60" fill="#8080c0"/><rect y="111.41" width="12.306" height="1.60" fill="#8c8cc6"/><rect y="112.41" width="12.306" height="1.60" fill="#8080c0"/><rect y="113.41" width="12.306" height="1.60" fill="#7979bc"/><rect y="114.41" width="12.306" height="1.60" fill="#8080c0"/><rect y="115.41" width="12.306" height="3.60" fill="#7979bc"/><rect y="118.41" width="12.306" height="2.60" fill="#8080c0"/><rect y="120.41" width="12.306" height="5.60" fill="#8686c3"/><rect y="125.42" width="12.306" height="1.60" fill="#8080c0"/><rect y="126.42" width="12.306" height="1.60" fill="#7979bc"/><rect y="127.42" width="12.306" height="1.60" fill="#8c8cc6"/><rect y="128.42" width="12.306" height="1.60" fill="#9393c9"/><rect y="129.42" width="12.306" height="1.60" fill="#9999cc"/><rect y="130.42" width="12.306" height="3.60" fill="#9393c9"/><rect y="133.43" width="12.306" height="1.60" fill="#8c8cc6"/><rect y="134.43" width="12.306" height="1.60" fill="#8080c0"/><rect y="135.43" width="12.306" height="1.60" fill="#8686c3"/><rect y="136.43" width="12.306" height="1.60" fill="#9999cc"/><rect y="137.43" width="12.306" height="1.60" fill="#9393c9"/><rect y="138.43" width="12.306" height="2.60" fill="#8c8cc6"/><rect y="140.43" width="12.306" height="2.60" fill="#9999cc"/><rect y="142.43" width="12.306" height="1.60" fill="#8686c3"/><rect y="143.43" width="12.306" height="2.60" fill="#8c8cc6"/><rect y="145.44" width="12.306" height="1.60" fill="#8080c0"/><rect y="146.44" width="12.306" height="1.60" fill="#8c8cc6"/><rect y="147.44" width="12.306" height="1.60" fill="#8686c3"/><rect y="148.44" width="12.306" height="1.60" fill="#8080c0"/><rect y="149.44" width="12.306" height="1.60" fill="#8686c3"/><rect y="150.44" width="12.306" height="1.60" fill="#8080c0"/><rect y="151.44" width="12.306" height="1.60" fill="#8686c3"/><rect y="152.44" width="12.306" height="2.60" fill="#8c8cc6"/><rect y="154.44" width="12.306" height="2.60" fill="#8686c3"/><rect y="156.45" width="12.306" height="2.60" fill="#8080c0"/><rect y="158.45" width="12.306" height="1.60" fill="#8686c3"/><rect y="159.45" width="12.306" height="1.60" fill="#8080c0"/><rect y="160.45" width="12.306" height="1.60" fill="#7979bc"/><rect y="161.45" width="12.306" height="2.60" fill="#8080c0"/><rect y="163.45" width="12.306" height="1.60" fill="#8686c3"/><rect y="164.45" width="12.306" height="1.60" fill="#7979bc"/><rect y="165.45" width="12.306" height="1.60" fill="#8686c3"/><rect y="166.46" width="12.306" height="1.60" fill="#8080c0"/><rect y="167.46" width="12.306" height="1.60" fill="#7979bc"/><rect y="168.46" width="12.306" height="3.60" fill="#8080c0"/><rect y="171.46" width="12.306" height="4.60" fill="#8686c3"/><rect y="175.46" width="12.306" height="1.60" fill="#9393c9"/><rect y="176.46" width="12.306" height="3.60" fill="#8686c3"/><rect y="179.47" width="12.306" height="1.60" fill="#8080c0"/><rect y="180.47" width="12.306" height="1.60" fill="#7979bc"/><rect y="181.47" width="12.306" height="1.60" fill="#8080c0"/><rect y="182.47" width="12.306" height="1.60" fill="#8686c3"/><rect y="183.47" width="12.306" height="1.60" fill="#8080c0"/><rect y="184.47" width="12.306" height="1.60" fill="#7979bc"/><rect y="185.47" width="12.306" height="2.60" fill="#8c8cc6"/><rect y="187.47" width="12.306" height="1.60" fill="#9999cc"/><rect y="188.48" width="12.306" height="1.60" fill="#9393c9"/><rect y="189.48" width="12.306" height="2.60" fill="#8686c3"/><rect y="191.48" width="12.306" height="2.60" fill="#8080c0"/><rect y="193.48" width="12.306" height="3.60" fill="#7979bc"/><rect y="196.48" width="12.306" height="3.60" fill="#8080c0"/><rect y="199.49" width="12.306" height="1.60" fill="#7979bc"/><rect y="200.49" width="12.306" height="1.60" fill="#6c6cb6"/><rect y="201.49" width="12.306" height="1.60" fill="#7373b9"/><rect y="202.49" width="12.306" height="1.60" fill="#7979bc"/><rect y="203.49" width="12.306" height="1.60" fill="#8080c0"/><rect y="204.49" width="12.306" height="1.60" fill="#7979bc"/><rect y="205.49" width="12.306" height="1.60" fill="#7373b9"/><rect y="206.49" width="12.306" height="1.60" fill="#7979bc"/><rect y="207.49" width="12.306" height="1.60" fill="#6c6cb6"/><rect y="208.49" width="12.306" height="1.60" fill="#7373b9"/><rect y="209.49" width="12.306" height="1.60" fill="#8686c3"/><rect y="210.50" width="12.306" height="1.60" fill="#8c8cc6"/><rect y="211.50" width="12.306" height="2.60" fill="#9999cc"/><rect y="213.50" width="12.306" height="1.60" fill="#9f9fcf"/><rect y="214.50" width="12.306" height="2.60" fill="#9999cc"/><rect y="216.50" width="12.306" height="1.60" fill="#9393c9"/><rect y="217.50" width="12.306" height="1.60" fill="#8c8cc6"/><rect y="218.50" width="12.306" height="2.60" fill="#8686c3"/><rect y="220.50" width="12.306" height="1.60" fill="#8080c0"/><rect y="221.50" width="12.306" height="1.60" fill="#8686c3"/><rect y="222.51" width="12.306" height="1.60" fill="#8c8cc6"/><rect y="223.51" width="12.306" height="2.60" fill="#9393c9"/><rect y="225.51" width="12.306" height="2.60" fill="#8c8cc6"/><rect y="227.51" width="12.306" height="1.60" fill="#9393c9"/><rect y="228.51" width="12.306" height="1.60" fill="#8c8cc6"/><rect y="229.51" width="12.306" height="1.60" fill="#9999cc"/><rect y="230.51" width="12.306" height="1.60" fill="#8080c0"/><rect y="231.51" width="12.306" height="6.61" fill="#8686c3"/><rect y="237.52" width="12.306" height="1.60" fill="#8080c0"/><rect y="238.52" width="12.306" height="1.60" fill="#8c8cc6"/><rect y="239.52" width="12.306" height="1.60" fill="#9393c9"/><rect y="240.52" width="12.306" height="2.60" fill="#8c8cc6"/><rect y="242.52" width="12.306" height="2.60" fill="#8686c3"/><rect y="244.53" width="12.306" height="1.60" fill="#9393c9"/><rect y="245.53" width="12.306" height="1.60" fill="#8c8cc6"/><rect y="246.53" width="12.306" height="1.60" fill="#8080c0"/><rect y="247.53" width="12.306" height="3.60" fill="#8686c3"/><rect y="250.53" width="12.306" height="1.60" fill="#7979bc"/><rect y="251.53" width="12.306" height="1.60" fill="#7373b9"/><rect y="252.53" width="12.306" height="1.60" fill="#7979bc"/><rect y="253.53" width="12.306" height="1.60" fill="#7373b9"/><rect y="254.53" width="12.306" height="1.60" fill="#8080c0"/><rect y="255.54" width="12.306" height="1.60" fill="#7979bc"/><rect y="256.54" width="12.306" height="2.60" fill="#8080c0"/><rect y="258.54" width="12.306" height="2.60" fill="#7373b9"/><rect y="260.54" width="12.306" height="1.60" fill="#7979bc"/><rect y="261.54" width="12.306" height="1.60" fill="#8080c0"/><rect y="262.54" width="12.306" height="1.60" fill="#7979bc"/><rect y="263.54" width="12.306" height="2.60" fill="#8080c0"/><rect y="265.54" width="12.306" height="1.60" fill="#7979bc"/><rect y="266.55" width="12.306" height="3.60" fill="#8080c0"/><rect y="269.55" width="12.306" height="2.60" fill="#7979bc"/><rect y="271.55" width="12.306" height="1.60" fill="#7373b9"/><rect y="272.55" width="12.306" height="2.60" fill="#8080c0"/><rect y="274.55" width="12.306" height="2.60" fill="#7373b9"/><rect y="276.55" width="12.306" height="1.60" fill="#8080c0"/><rect y="277.56" width="12.306" height="1.60" fill="#8c8cc6"/><rect y="278.56" width="12.306" height="1.60" fill="#8080c0"/><rect y="279.56" width="12.306" height="2.60" fill="#9393c9"/><rect y="281.56" width="12.306" height="1.60" fill="#8080c0"/><rect y="282.56" width="12.306" height="2.60" fill="#8686c3"/><rect y="284.56" width="12.306" height="1.60" fill="#8c8cc6"/><rect y="285.56" width="12.306" height="2.60" fill="#9393c9"/><rect y="287.56" width="12.306" height="1.60" fill="#8c8cc6"/><rect y="288.57" width="12.306" height="1.60" fill="#8080c0"/><rect y="289.57" width="12.306" height="2.60" fill="#7373b9"/><rect y="291.57" width="12.306" height="1.60" fill="#7979bc"/><rect y="292.57" width="12.306" height="1.60" fill="#7373b9"/><rect y="293.57" width="12.306" height="2.60" fill="#7979bc"/><rect y="295.57" width="12.306" height="2.60" fill="#7373b9"/><rect y="297.57" width="12.306" height="6.61" fill="#7979bc"/><rect y="303.58" width="12.306" height="1.60" fill="#8080c0"/><rect y="304.58" width="12.306" height="1.60" fill="#8686c3"/><rect y="305.58" width="12.306" height="2.60" fill="#8080c0"/><rect y="307.58" width="12.306" height="1.60" fill="#7979bc"/><rect y="308.58" width="12.306" height="1.60" fill="#8080c0"/><rect y="309.58" width="12.306" height="1.60" fill="#d9d9ec"/><rect y="310.58" width="12.306" height="1.60" fill="#fefafa"/><rect y="311.59" width="12.306" height="1.60" fill="#f2c9c9"/><rect y="312.59" width="12.306" height="1.60" fill="#fcf4f4"/><rect y="313.59" width="12.306" height="3.60" fill="#f2f2f9"/><rect y="316.59" width="12.306" height="1.60" fill="#e6e6f2"/><rect y="317.59" width="12.306" height="4.60" fill="#8080c0"/><rect y="321.59" width="12.306" height="1.60" fill="#8686c3"/><rect y="322.60" width="12.306" height="2.60" fill="#8c8cc6"/><rect y="324.60" width="12.306" height="1.60" fill="#8686c3"/><rect y="325.60" width="12.306" height="2.00" fill="#8c8cc6"/></g>
<g transform="translate(372.53,0)" shape-rendering="crispEdges">
<rect y="104.40" width="12.306" height="2.60" fill="#7979bc"/><rect y="106.40" width="12.306" height="1.60" fill="#6c6cb6"/><rect y="107.40" width="12.306" height="3.60" fill="#7373b9"/><rect y="110.41" width="12.306" height="1.60" fill="#7979bc"/><rect y="111.41" width="12.306" height="2.60" fill="#8080c0"/><rect y="113.41" width="12.306" height="2.60" fill="#8686c3"/><rect y="115.41" width="12.306" height="2.60" fill="#8c8cc6"/><rect y="117.41" width="12.306" height="2.60" fill="#8686c3"/><rect y="119.41" width="12.306" height="3.60" fill="#8c8cc6"/><rect y="122.42" width="12.306" height="2.60" fill="#9393c9"/><rect y="124.42" width="12.306" height="2.60" fill="#8c8cc6"/><rect y="126.42" width="12.306" height="1.60" fill="#8686c3"/><rect y="127.42" width="12.306" height="1.60" fill="#8080c0"/><rect y="128.42" width="12.306" height="1.60" fill="#8686c3"/><rect y="129.42" width="12.306" height="1.60" fill="#8c8cc6"/><rect y="130.42" width="12.306" height="1.60" fill="#8686c3"/><rect y="131.42" width="12.306" height="1.60" fill="#9393c9"/><rect y="132.43" width="12.306" height="3.60" fill="#9999cc"/><rect y="135.43" width="12.306" height="1.60" fill="#8686c3"/><rect y="136.43" width="12.306" height="1.60" fill="#9393c9"/><rect y="137.43" width="12.306" height="3.60" fill="#8c8cc6"/><rect y="140.43" width="12.306" height="1.60" fill="#9999cc"/><rect y="141.43" width="12.306" height="1.60" fill="#9393c9"/><rect y="142.43" width="12.306" height="2.60" fill="#8080c0"/><rect y="144.44" width="12.306" height="2.60" fill="#8686c3"/><rect y="146.44" width="12.306" height="2.60" fill="#8080c0"/><rect y="148.44" width="12.306" height="1.60" fill="#8686c3"/><rect y="149.44" width="12.306" height="1.60" fill="#8080c0"/><rect y="150.44" width="12.306" height="2.60" fill="#8686c3"/><rect y="152.44" width="12.306" height="1.60" fill="#8c8cc6"/><rect y="153.44" width="12.306" height="1.60" fill="#8080c0"/><rect y="154.44" width="12.306" height="3.60" fill="#8686c3"/><rect y="157.45" width="12.306" height="2.60" fill="#8080c0"/><rect y="159.45" width="12.306" height="1.60" fill="#8686c3"/><rect y="160.45" width="12.306" height="1.60" fill="#8c8cc6"/><rect y="161.45" width="12.306" height="2.60" fill="#8686c3"/><rect y="163.45" width="12.306" height="1.60" fill="#8c8cc6"/><rect y="164.45" width="12.306" height="1.60" fill="#8686c3"/><rect y="165.45" width="12.306" height="1.60" fill="#9393c9"/><rect y="166.46" width="12.306" height="2.60" fill="#8c8cc6"/><rect y="168.46" width="12.306" height="1.60" fill="#9393c9"/><rect y="169.46" width="12.306" height="1.60" fill="#8c8cc6"/><rect y="170.46" width="12.306" height="1.60" fill="#9393c9"/><rect y="171.46" width="12.306" height="1.60" fill="#9999cc"/><rect y="172.46" width="12.306" height="2.60" fill="#9f9fcf"/><rect y="174.46" width="12.306" height="2.60" fill="#a6a6d3"/><rect y="176.46" width="12.306" height="1.60" fill="#8c8cc6"/><rect y="177.47" width="12.306" height="1.60" fill="#9393c9"/><rect y="178.47" width="12.306" height="1.60" fill="#8686c3"/><rect y="179.47" width="12.306" height="2.60" fill="#7979bc"/><rect y="181.47" width="12.306" height="1.60" fill="#8686c3"/><rect y="182.47" width="12.306" height="1.60" fill="#9393c9"/><rect y="183.47" width="12.306" height="1.60" fill="#8c8cc6"/><rect y="184.47" width="12.306" height="1.60" fill="#8686c3"/><rect y="185.47" width="12.306" height="2.60" fill="#9f9fcf"/><rect y="187.47" width="12.306" height="1.60" fill="#9393c9"/><rect y="188.48" width="12.306" height="2.60" fill="#9999cc"/><rect y="190.48" width="12.306" height="1.60" fill="#8686c3"/><rect y="191.48" width="12.306" height="1.60" fill="#7979bc"/><rect y="192.48" width="12.306" height="1.60" fill="#8c8cc6"/><rect y="193.48" width="12.306" height="3.60" fill="#8686c3"/><rect y="196.48" width="12.306" height="2.60" fill="#8080c0"/><rect y="198.48" width="12.306" height="1.60" fill="#8686c3"/><rect y="199.49" width="12.306" height="1.60" fill="#8080c0"/><rect y="200.49" width="12.306" height="1.60" fill="#7979bc"/><rect y="201.49" width="12.306" height="2.60" fill="#8080c0"/><rect y="203.49" width="12.306" height="1.60" fill="#8686c3"/><rect y="204.49" width="12.306" height="1.60" fill="#8c8cc6"/><rect y="205.49" width="12.306" height="1.60" fill="#8080c0"/><rect y="206.49" width="12.306" height="1.60" fill="#8686c3"/><rect y="207.49" width="12.306" height="2.60" fill="#7979bc"/><rect y="209.49" width="12.306" height="1.60" fill="#8080c0"/><rect y="210.50" width="12.306" height="1.60" fill="#8686c3"/><rect y="211.50" width="12.306" height="2.60" fill="#8c8cc6"/><rect y="213.50" width="12.306" height="2.60" fill="#8686c3"/><rect y="215.50" width="12.306" height="3.60" fill="#8080c0"/><rect y="218.50" width="12.306" height="1.60" fill="#7979bc"/><rect y="219.50" width="12.306" height="1.60" fill="#7373b9"/><rect y="220.50" width="12.306" height="1.60" fill="#7979bc"/><rect y="221.50" width="12.306" height="1.60" fill="#8686c3"/><rect y="222.51" width="12.306" height="1.60" fill="#9393c9"/><rect y="223.51" width="12.306" height="1.60" fill="#9999cc"/><rect y="224.51" width="12.306" height="1.60" fill="#9f9fcf"/><rect y="225.51" width="12.306" height="1.60" fill="#9393c9"/><rect y="226.51" width="12.306" height="1.60" fill="#9999cc"/><rect y="227.51" width="12.306" height="1.60" fill="#9f9fcf"/><rect y="228.51" width="12.306" height="1.60" fill="#9999cc"/><rect y="229.51" width="12.306" height="1.60" fill="#a6a6d3"/><rect y="230.51" width="12.306" height="1.60" fill="#9999cc"/><rect y="231.51" width="12.306" height="1.60" fill="#8c8cc6"/><rect y="232.51" width="12.306" height="1.60" fill="#9393c9"/><rect y="233.52" width="12.306" height="1.60" fill="#8c8cc6"/><rect y="234.52" width="12.306" height="1.60" fill="#8686c3"/><rect y="235.52" width="12.306" height="1.60" fill="#8c8cc6"/><rect y="236.52" width="12.306" height="1.60" fill="#9999cc"/><rect y="237.52" width="12.306" height="1.60" fill="#8686c3"/><rect y="238.52" width="12.306" height="1.60" fill="#9393c9"/><rect y="239.52" width="12.306" height="1.60" fill="#9999cc"/><rect y="240.52" width="12.306" height="2.60" fill="#9393c9"/><rect y="242.52" width="12.306" height="1.60" fill="#8c8cc6"/><rect y="243.52" width="12.306" height="1.60" fill="#9999cc"/><rect y="244.53" width="12.306" height="2.60" fill="#8c8cc6"/><rect y="246.53" width="12.306" height="2.60" fill="#8080c0"/><rect y="248.53" width="12.306" height="1.60" fill="#8686c3"/><rect y="249.53" width="12.306" height="1.60" fill="#8c8cc6"/><rect y="250.53" width="12.306" height="1.60" fill="#8686c3"/><rect y="251.53" width="12.306" height="1.60" fill="#8080c0"/><rect y="252.53" width="12.306" height="2.60" fill="#7979bc"/><rect y="254.53" width="12.306" height="1.60" fill="#8080c0"/><rect y="255.54" width="12.306" height="1.60" fill="#8686c3"/><rect y="256.54" width="12.306" height="1.60" fill="#8080c0"/><rect y="257.54" width="12.306" height="1.60" fill="#8686c3"/><rect y="258.54" width="12.306" height="1.60" fill="#7979bc"/><rect y="259.54" width="12.306" height="1.60" fill="#8080c0"/><rect y="260.54" width="12.306" height="1.60" fill="#8686c3"/><rect y="261.54" width="12.306" height="2.60" fill="#8080c0"/><rect y="263.54" width="12.306" height="3.60" fill="#8686c3"/><rect y="266.55" width="12.306" height="1.60" fill="#9393c9"/><rect y="267.55" width="12.306" height="1.60" fill="#8686c3"/><rect y="268.55" width="12.306" height="1.60" fill="#8c8cc6"/><rect y="269.55" width="12.306" height="1.60" fill="#8686c3"/><rect y="270.55" width="12.306" height="1.60" fill="#8080c0"/><rect y="271.55" width="12.306" height="2.60" fill="#8686c3"/><rect y="273.55" width="12.306" height="1.60" fill="#8c8cc6"/><rect y="274.55" width="12.306" height="1.60" fill="#7979bc"/><rect y="275.55" width="12.306" height="1.60" fill="#7373b9"/><rect y="276.55" width="12.306" height="3.60" fill="#8080c0"/><rect y="279.56" width="12.306" height="1.60" fill="#8686c3"/><rect y="280.56" width="12.306" height="3.60" fill="#8080c0"/><rect y="283.56" width="12.306" height="1.60" fill="#8686c3"/><rect y="284.56" width="12.306" height="2.60" fill="#8c8cc6"/><rect y="286.56" width="12.306" height="1.60" fill="#8686c3"/><rect y="287.56" width="12.306" height="1.60" fill="#8c8cc6"/><rect y="288.57" width="12.306" height="2.60" fill="#8080c0"/><rect y="290.57" width="12.306" height="1.60" fill="#8686c3"/><rect y="291.57" width="12.306" height="1.60" fill="#8080c0"/><rect y="292.57" width="12.306" height="2.60" fill="#7979bc"/><rect y="294.57" width="12.306" height="2.60" fill="#8080c0"/><rect y="296.57" width="12.306" height="2.60" fill="#8686c3"/><rect y="298.57" width="12.306" height="2.60" fill="#8080c0"/><rect y="300.58" width="12.306" height="1.60" fill="#7979bc"/><rect y="301.58" width="12.306" height="1.60" fill="#7373b9"/><rect y="302.58" width="12.306" height="2.60" fill="#7979bc"/><rect y="304.58" width="12.306" height="1.60" fill="#8080c0"/><rect y="305.58" width="12.306" height="2.60" fill="#8686c3"/><rect y="307.58" width="12.306" height="2.60" fill="#8080c0"/><rect y="309.58" width="12.306" height="1.60" fill="#8c8cc6"/><rect y="310.58" width="12.306" height="1.60" fill="#acacd6"/><rect y="311.59" width="12.306" height="1.60" fill="#f4cece"/><rect y="312.59" width="12.306" height="1.60" fill="#ffffff"/><rect y="313.59" width="12.306" height="2.60" fill="#f9f9fc"/><rect y="315.59" width="12.306" height="1.60" fill="#ffffff"/><rect y="316.59" width="12.306" height="1.60" fill="#a6a6d3"/><rect y="317.59" width="12.306" height="1.60" fill="#8080c0"/><rect y="318.59" width="12.306" height="2.60" fill="#7979bc"/><rect y="320.59" width="12.306" height="1.60" fill="#8c8cc6"/><rect y="321.59" width="12.306" height="1.60" fill="#8686c3"/><rect y="322.60" width="12.306" height="1.60" fill="#cccce6"/><rect y="323.60" width="12.306" height="3.60" fill="#8686c3"/><rect y="326.60" width="12.306" height="1.00" fill="#9393c9"/></g>
<g transform="translate(384.24,0)" shape-rendering="crispEdges">
<rect y="104.40" width="12.306" height="2.60" fill="#6c6cb6"/><rect y="106.40" width="12.306" height="2.60" fill="#6666b3"/><rect y="108.40" width="12.306" height="1.60" fill="#6060b0"/><rect y="109.40" width="12.306" height="2.60" fill="#6c6cb6"/><rect y="111.41" width="12.306" height="3.60" fill="#7979bc"/><rect y="114.41" width="12.306" height="1.60" fill="#7373b9"/><rect y="115.41" width="12.306" height="1.60" fill="#6c6cb6"/><rect y="116.41" width="12.306" height="1.60" fill="#7373b9"/><rect y="117.41" width="12.306" height="2.60" fill="#6c6cb6"/><rect y="119.41" width="12.306" height="2.60" fill="#7373b9"/><rect y="121.42" width="12.306" height="4.60" fill="#7979bc"/><rect y="125.42" width="12.306" height="2.60" fill="#7373b9"/><rect y="127.42" width="12.306" height="1.60" fill="#6c6cb6"/><rect y="128.42" width="12.306" height="1.60" fill="#6666b3"/><rect y="129.42" width="12.306" height="1.60" fill="#6c6cb6"/><rect y="130.42" width="12.306" height="2.60" fill="#7373b9"/><rect y="132.43" width="12.306" height="1.60" fill="#6c6cb6"/><rect y="133.43" width="12.306" height="2.60" fill="#7373b9"/><rect y="135.43" width="12.306" height="1.60" fill="#6c6cb6"/><rect y="136.43" width="12.306" height="1.60" fill="#7979bc"/><rect y="137.43" width="12.306" height="1.60" fill="#6c6cb6"/><rect y="138.43" width="12.306" height="2.60" fill="#7373b9"/><rect y="140.43" width="12.306" height="1.60" fill="#8686c3"/><rect y="141.43" width="12.306" height="1.60" fill="#7373b9"/><rect y="142.43" width="12.306" height="1.60" fill="#6666b3"/><rect y="143.43" width="12.306" height="1.60" fill="#7373b9"/><rect y="144.44" width="12.306" height="2.60" fill="#6c6cb6"/><rect y="146.44" width="12.306" height="1.60" fill="#6666b3"/><rect y="147.44" width="12.306" height="1.60" fill="#6c6cb6"/><rect y="148.44" width="12.306" height="1.60" fill="#7979bc"/><rect y="149.44" width="12.306" height="1.60" fill="#7373b9"/><rect y="150.44" width="12.306" height="1.60" fill="#7979bc"/><rect y="151.44" width="12.306" height="1.60" fill="#8080c0"/><rect y="152.44" width="12.306" height="1.60" fill="#7979bc"/><rect y="153.44" width="12.306" height="1.60" fill="#6c6cb6"/><rect y="154.44" width="12.306" height="2.60" fill="#7373b9"/><rect y="156.45" width="12.306" height="1.60" fill="#6666b3"/><rect y="157.45" width="12.306" height="1.60" fill="#6060b0"/><rect y="158.45" width="12.306" height="3.60" fill="#6c6cb6"/><rect y="161.45" width="12.306" height="3.60" fill="#7373b9"/><rect y="164.45" width="12.306" height="1.60" fill="#6060b0"/><rect y="165.45" width="12.306" height="1.60" fill="#7373b9"/><rect y="166.46" width="12.306" height="1.60" fill="#7979bc"/><rect y="167.46" width="12.306" height="2.60" fill="#6c6cb6"/><rect y="169.46" width="12.306" height="1.60" fill="#7373b9"/><rect y="170.46" width="12.306" height="1.60" fill="#6c6cb6"/><rect y="171.46" width="12.306" height="1.60" fill="#7373b9"/><rect y="172.46" width="12.306" height="1.60" fill="#8686c3"/><rect y="173.46" width="12.306" height="2.60" fill="#8080c0"/><rect y="175.46" width="12.306" height="1.60" fill="#9393c9"/><rect y="176.46" width="12.306" height="1.60" fill="#8080c0"/><rect y="177.47" width="12.306" height="2.60" fill="#7979bc"/><rect y="179.47" width="12.306" height="1.60" fill="#6666b3"/><rect y="180.47" width="12.306" height="1.60" fill="#6c6cb6"/><rect y="181.47" width="12.306" height="2.60" fill="#8080c0"/><rect y="183.47" width="12.306" height="1.60" fill="#7979bc"/><rect y="184.47" width="12.306" height="1.60" fill="#7373b9"/><rect y="185.47" width="12.306" height="2.60" fill="#7979bc"/><rect y="187.47" width="12.306" height="1.60" fill="#7373b9"/><rect y="188.48" width="12.306" height="1.60" fill="#6c6cb6"/><rect y="189.48" width="12.306" height="1.60" fill="#6666b3"/><rect y="190.48" width="12.306" height="2.60" fill="#5959ac"/><rect y="192.48" width="12.306" height="1.60" fill="#6c6cb6"/><rect y="193.48" width="12.306" height="2.60" fill="#6666b3"/><rect y="195.48" width="12.306" height="1.60" fill="#7373b9"/><rect y="196.48" width="12.306" height="2.60" fill="#7979bc"/><rect y="198.48" width="12.306" height="1.60" fill="#8080c0"/><rect y="199.49" width="12.306" height="1.60" fill="#7979bc"/><rect y="200.49" width="12.306" height="1.60" fill="#6666b3"/><rect y="201.49" width="12.306" height="2.60" fill="#6c6cb6"/><rect y="203.49" width="12.306" height="1.60" fill="#7373b9"/><rect y="204.49" width="12.306" height="1.60" fill="#7979bc"/><rect y="205.49" width="12.306" height="1.60" fill="#7373b9"/><rect y="206.49" width="12.306" height="1.60" fill="#8080c0"/><rect y="207.49" width="12.306" height="2.60" fill="#6666b3"/><rect y="209.49" width="12.306" height="1.60" fill="#4c4ca6"/><rect y="210.50" width="12.306" height="1.60" fill="#5353a9"/><rect y="211.50" width="12.306" height="1.60" fill="#6060b0"/><rect y="212.50" width="12.306" height="1.60" fill="#6666b3"/><rect y="213.50" width="12.306" height="3.60" fill="#6c6cb6"/><rect y="216.50" width="12.306" height="2.60" fill="#6666b3"/><rect y="218.50" width="12.306" height="3.60" fill="#4c4ca6"/><rect y="221.50" width="12.306" height="1.60" fill="#5353a9"/><rect y="222.51" width="12.306" height="2.60" fill="#6060b0"/><rect y="224.51" width="12.306" height="1.60" fill="#6666b3"/><rect y="225.51" width="12.306" height="1.60" fill="#6060b0"/><rect y="226.51" width="12.306" height="1.60" fill="#6666b3"/><rect y="227.51" width="12.306" height="1.60" fill="#7373b9"/><rect y="228.51" width="12.306" height="2.60" fill="#7979bc"/><rect y="230.51" width="12.306" height="1.60" fill="#7373b9"/><rect y="231.51" width="12.306" height="1.60" fill="#6666b3"/><rect y="232.51" width="12.306" height="6.61" fill="#5959ac"/><rect y="238.52" width="12.306" height="1.60" fill="#6060b0"/><rect y="239.52" width="12.306" height="1.60" fill="#6c6cb6"/><rect y="240.52" width="12.306" height="2.60" fill="#6666b3"/><rect y="242.52" width="12.306" height="2.60" fill="#6060b0"/><rect y="244.53" width="12.306" height="1.60" fill="#5959ac"/><rect y="245.53" width="12.306" height="1.60" fill="#7979bc"/><rect y="246.53" width="12.306" height="1.60" fill="#6c6cb6"/><rect y="247.53" width="12.306" height="1.60" fill="#6060b0"/><rect y="248.53" width="12.306" height="1.60" fill="#6c6cb6"/><rect y="249.53" width="12.306" height="1.60" fill="#7373b9"/><rect y="250.53" width="12.306" height="3.60" fill="#6c6cb6"/><rect y="253.53" width="12.306" height="1.60" fill="#6666b3"/><rect y="254.53" width="12.306" height="2.60" fill="#6c6cb6"/><rect y="256.54" width="12.306" height="1.60" fill="#7373b9"/><rect y="257.54" width="12.306" height="2.60" fill="#6c6cb6"/><rect y="259.54" width="12.306" height="1.60" fill="#7373b9"/><rect y="260.54" width="12.306" height="1.60" fill="#7979bc"/><rect y="261.54" width="12.306" height="1.60" fill="#6c6cb6"/><rect y="262.54" width="12.306" height="1.60" fill="#7373b9"/><rect y="263.54" width="12.306" height="1.60" fill="#7979bc"/><rect y="264.54" width="12.306" height="2.60" fill="#8080c0"/><rect y="266.55" width="12.306" height="1.60" fill="#8686c3"/><rect y="267.55" width="12.306" height="1.60" fill="#8080c0"/><rect y="268.55" width="12.306" height="1.60" fill="#7979bc"/><rect y="269.55" width="12.306" height="1.60" fill="#6c6cb6"/><rect y="270.55" width="12.306" height="6.61" fill="#6666b3"/><rect y="276.55" width="12.306" height="2.60" fill="#7373b9"/><rect y="278.56" width="12.306" height="1.60" fill="#6c6cb6"/><rect y="279.56" width="12.306" height="1.60" fill="#7979bc"/><rect y="280.56" width="12.306" height="1.60" fill="#7373b9"/><rect y="281.56" width="12.306" height="1.60" fill="#6c6cb6"/><rect y="282.56" width="12.306" height="2.60" fill="#7373b9"/><rect y="284.56" width="12.306" height="1.60" fill="#7979bc"/><rect y="285.56" width="12.306" height="1.60" fill="#8686c3"/><rect y="286.56" width="12.306" height="2.60" fill="#7373b9"/><rect y="288.57" width="12.306" height="1.60" fill="#6c6cb6"/><rect y="289.57" width="12.306" height="1.60" fill="#7373b9"/><rect y="290.57" width="12.306" height="2.60" fill="#6c6cb6"/><rect y="292.57" width="12.306" height="1.60" fill="#7373b9"/><rect y="293.57" width="12.306" height="1.60" fill="#7979bc"/><rect y="294.57" width="12.306" height="2.60" fill="#7373b9"/><rect y="296.57" width="12.306" height="2.60" fill="#6c6cb6"/><rect y="298.57" width="12.306" height="1.60" fill="#6666b3"/><rect y="299.57" width="12.306" height="1.60" fill="#5959ac"/><rect y="300.58" width="12.306" height="2.60" fill="#5353a9"/><rect y="302.58" width="12.306" height="1.60" fill="#5959ac"/><rect y="303.58" width="12.306" height="1.60" fill="#6666b3"/><rect y="304.58" width="12.306" height="1.60" fill="#6c6cb6"/><rect y="305.58" width="12.306" height="2.60" fill="#6666b3"/><rect y="307.58" width="12.306" height="1.60" fill="#6c6cb6"/><rect y="308.58" width="12.306" height="1.60" fill="#6060b0"/><rect y="309.58" width="12.306" height="2.60" fill="#5959ac"/><rect y="311.59" width="12.306" height="1.60" fill="#6666b3"/><rect y="312.59" width="12.306" height="1.60" fill="#7373b9"/><rect y="313.59" width="12.306" height="1.60" fill="#6c6cb6"/><rect y="314.59" width="12.306" height="1.60" fill="#7979bc"/><rect y="315.59" width="12.306" height="3.60" fill="#7373b9"/><rect y="318.59" width="12.306" height="1.60" fill="#6c6cb6"/><rect y="319.59" width="12.306" height="2.60" fill="#7979bc"/><rect y="321.59" width="12.306" height="1.60" fill="#8686c3"/><rect y="322.60" width="12.306" height="1.60" fill="#7979bc"/><rect y="323.60" width="12.306" height="2.60" fill="#8080c0"/><rect y="325.60" width="12.306" height="1.60" fill="#7979bc"/><rect y="326.60" width="12.306" height="1.00" fill="#7373b9"/></g>
<g transform="translate(395.94,0)" shape-rendering="crispEdges">
<rect y="104.40" width="12.306" height="1.60" fill="#cccce6"/><rect y="105.40" width="12.306" height="1.60" fill="#d2d2e9"/><rect y="106.40" width="12.306" height="1.60" fill="#cccce6"/><rect y="107.40" width="12.306" height="1.60" fill="#d2d2e9"/><rect y="108.40" width="12.306" height="1.60" fill="#cccce6"/><rect y="109.40" width="12.306" height="2.60" fill="#d2d2e9"/><rect y="111.41" width="12.306" height="2.60" fill="#dfdfef"/><rect y="113.41" width="12.306" height="1.60" fill="#ececf5"/><rect y="114.41" width="12.306" height="1.60" fill="#dfdfef"/><rect y="115.41" width="12.306" height="1.60" fill="#d9d9ec"/><rect y="116.41" width="12.306" height="1.60" fill="#cccce6"/><rect y="117.41" width="12.306" height="2.60" fill="#d9d9ec"/><rect y="119.41" width="12.306" height="1.60" fill="#dfdfef"/><rect y="120.41" width="12.306" height="1.60" fill="#e6e6f2"/><rect y="121.42" width="12.306" height="2.60" fill="#dfdfef"/><rect y="123.42" width="12.306" height="1.60" fill="#d9d9ec"/><rect y="124.42" width="12.306" height="1.60" fill="#d2d2e9"/><rect y="125.42" width="12.306" height="1.60" fill="#d9d9ec"/><rect y="126.42" width="12.306" height="2.60" fill="#d2d2e9"/><rect y="128.42" width="12.306" height="1.60" fill="#d9d9ec"/><rect y="129.42" width="12.306" height="1.60" fill="#ececf5"/><rect y="130.42" width="12.306" height="1.60" fill="#e6e6f2"/><rect y="131.42" width="12.306" height="1.60" fill="#f9f9fc"/><rect y="132.43" width="12.306" height="1.60" fill="#ececf5"/><rect y="133.43" width="12.306" height="2.60" fill="#f2f2f9"/><rect y="135.43" width="12.306" height="1.60" fill="#e6e6f2"/><rect y="136.43" width="12.306" height="1.60" fill="#fefafa"/><rect y="137.43" width="12.306" height="1.60" fill="#e6e6f2"/><rect y="138.43" width="12.306" height="1.60" fill="#dfdfef"/><rect y="139.43" width="12.306" height="1.60" fill="#f2f2f9"/><rect y="140.43" width="12.306" height="2.60" fill="#ececf5"/><rect y="142.43" width="12.306" height="1.60" fill="#d9d9ec"/><rect y="143.43" width="12.306" height="1.60" fill="#dfdfef"/><rect y="144.44" width="12.306" height="1.60" fill="#e6e6f2"/><rect y="145.44" width="12.306" height="1.60" fill="#d9d9ec"/><rect y="146.44" width="12.306" height="1.60" fill="#e6e6f2"/><rect y="147.44" width="12.306" height="1.60" fill="#dfdfef"/><rect y="148.44" width="12.306" height="1.60" fill="#ececf5"/><rect y="149.44" width="12.306" height="1.60" fill="#d9d9ec"/><rect y="150.44" width="12.306" height="2.60" fill="#e6e6f2"/><rect y="152.44" width="12.306" height="1.60" fill="#dfdfef"/><rect y="153.44" width="12.306" height="2.60" fill="#e6e6f2"/><rect y="155.45" width="12.306" height="1.60" fill="#ececf5"/><rect y="156.45" width="12.306" height="1.60" fill="#d2d2e9"/><rect y="157.45" width="12.306" height="1.60" fill="#f9e4e4"/><rect y="158.45" width="12.306" height="1.60" fill="#d2d2e9"/><rect y="159.45" width="12.306" height="1.60" fill="#d9d9ec"/><rect y="160.45" width="12.306" height="1.60" fill="#d2d2e9"/><rect y="161.45" width="12.306" height="1.60" fill="#d9d9ec"/><rect y="162.45" width="12.306" height="2.60" fill="#dfdfef"/><rect y="164.45" width="12.306" height="1.60" fill="#d9d9ec"/><rect y="165.45" width="12.306" height="1.60" fill="#dfdfef"/><rect y="166.46" width="12.306" height="2.60" fill="#d9d9ec"/><rect y="168.46" width="12.306" height="1.60" fill="#dfdfef"/><rect y="169.46" width="12.306" height="2.60" fill="#ececf5"/><rect y="171.46" width="12.306" height="1.60" fill="#e6e6f2"/><rect y="172.46" width="12.306" height="1.60" fill="#f9f9fc"/><rect y="173.46" width="12.306" height="1.60" fill="#ececf5"/><rect y="174.46" width="12.306" height="1.60" fill="#e6e6f2"/><rect y="175.46" width="12.306" height="1.60" fill="#f2f2f9"/><rect y="176.46" width="12.306" height="3.60" fill="#e6e6f2"/><rect y="179.47" width="12.306" height="2.60" fill="#d2d2e9"/><rect y="181.47" width="12.306" height="1.60" fill="#d9d9ec"/><rect y="182.47" width="12.306" height="1.60" fill="#f2f2f9"/><rect y="183.47" width="12.306" height="1.60" fill="#e6e6f2"/><rect y="184.47" width="12.306" height="1.60" fill="#d2d2e9"/><rect y="185.47" width="12.306" height="1.60" fill="#ececf5"/><rect y="186.47" width="12.306" height="1.60" fill="#f9f9fc"/><rect y="187.47" width="12.306" height="1.60" fill="#f2f2f9"/><rect y="188.48" width="12.306" height="1.60" fill="#f9f9fc"/><rect y="189.48" width="12.306" height="1.60" fill="#e6e6f2"/><rect y="190.48" width="12.306" height="2.60" fill="#d2d2e9"/><rect y="192.48" width="12.306" height="2.60" fill="#e6e6f2"/><rect y="194.48" width="12.306" height="1.60" fill="#dfdfef"/><rect y="195.48" width="12.306" height="1.60" fill="#d2d2e9"/><rect y="196.48" width="12.306" height="1.60" fill="#d9d9ec"/><rect y="197.48" width="12.306" height="1.60" fill="#f2c9c9"/><rect y="198.48" width="12.306" height="2.60" fill="#d9d9ec"/><rect y="200.49" width="12.306" height="3.60" fill="#cccce6"/><rect y="203.49" width="12.306" height="1.60" fill="#e79898"/><rect y="204.49" width="12.306" height="1.60" fill="#eaa3a3"/><rect y="205.49" width="12.306" height="1.60" fill="#e89d9d"/><rect y="206.49" width="12.306" height="1.60" fill="#ecaeae"/><rect y="207.49" width="12.306" height="1.60" fill="#e79898"/><rect y="208.49" width="12.306" height="1.60" fill="#e89d9d"/><rect y="209.49" width="12.306" height="1.60" fill="#c6c6e2"/><rect y="210.50" width="12.306" height="1.60" fill="#d2d2e9"/><rect y="211.50" width="12.306" height="1.60" fill="#dfdfef"/><rect y="212.50" width="12.306" height="1.60" fill="#d9d9ec"/><rect y="213.50" width="12.306" height="1.60" fill="#f2f2f9"/><rect y="214.50" width="12.306" height="1.60" fill="#ffffff"/><rect y="215.50" width="12.306" height="1.60" fill="#e6e6f2"/><rect y="216.50" width="12.306" height="1.60" fill="#dfdfef"/><rect y="217.50" width="12.306" height="1.60" fill="#d2d2e9"/><rect y="218.50" width="12.306" height="1.60" fill="#cccce6"/><rect y="219.50" width="12.306" height="2.60" fill="#c6c6e2"/><rect y="221.50" width="12.306" height="1.60" fill="#d9d9ec"/><rect y="222.51" width="12.306" height="2.60" fill="#e6e6f2"/><rect y="224.51" width="12.306" height="1.60" fill="#f2f2f9"/><rect y="225.51" width="12.306" height="1.60" fill="#ececf5"/><rect y="226.51" width="12.306" height="1.60" fill="#e6e6f2"/><rect y="227.51" width="12.306" height="1.60" fill="#f2f2f9"/><rect y="228.51" width="12.306" height="1.60" fill="#e6e6f2"/><rect y="229.51" width="12.306" height="1.60" fill="#fcf4f4"/><rect y="230.51" width="12.306" height="1.60" fill="#fbefef"/><rect y="231.51" width="12.306" height="1.60" fill="#ffffff"/><rect y="232.51" width="12.306" height="1.60" fill="#fcf4f4"/><rect y="233.52" width="12.306" height="1.60" fill="#f9f9fc"/><rect y="234.52" width="12.306" height="1.60" fill="#f2f2f9"/><rect y="235.52" width="12.306" height="2.60" fill="#f9f9fc"/><rect y="237.52" width="12.306" height="1.60" fill="#f2c9c9"/><rect y="238.52" width="12.306" height="1.60" fill="#f8dede"/><rect y="239.52" width="12.306" height="1.60" fill="#f1c3c3"/><rect y="240.52" width="12.306" height="1.60" fill="#f2c9c9"/><rect y="241.52" width="12.306" height="1.60" fill="#efb8b8"/><rect y="242.52" width="12.306" height="1.60" fill="#f5d4d4"/><rect y="243.52" width="12.306" height="4.60" fill="#f1c3c3"/><rect y="247.53" width="12.306" height="1.60" fill="#f5d4d4"/><rect y="248.53" width="12.306" height="1.60" fill="#f2c9c9"/><rect y="249.53" width="12.306" height="1.60" fill="#d2d2e9"/><rect y="250.53" width="12.306" height="1.60" fill="#cccce6"/><rect y="251.53" width="12.306" height="1.60" fill="#c6c6e2"/><rect y="252.53" width="12.306" height="2.60" fill="#bfbfdf"/><rect y="254.53" width="12.306" height="2.60" fill="#d2d2e9"/><rect y="256.54" width="12.306" height="1.60" fill="#d9d9ec"/><rect y="257.54" width="12.306" height="1.60" fill="#dfdfef"/><rect y="258.54" width="12.306" height="1.60" fill="#d9d9ec"/><rect y="259.54" width="12.306" height="1.60" fill="#d2d2e9"/><rect y="260.54" width="12.306" height="1.60" fill="#ececf5"/><rect y="261.54" width="12.306" height="1.60" fill="#d9d9ec"/><rect y="262.54" width="12.306" height="1.60" fill="#d2d2e9"/><rect y="263.54" width="12.306" height="1.60" fill="#dfdfef"/><rect y="264.54" width="12.306" height="1.60" fill="#d9d9ec"/><rect y="265.54" width="12.306" height="1.60" fill="#d2d2e9"/><rect y="266.55" width="12.306" height="1.60" fill="#ececf5"/><rect y="267.55" width="12.306" height="2.60" fill="#d9d9ec"/><rect y="269.55" width="12.306" height="2.60" fill="#d2d2e9"/><rect y="271.55" width="12.306" height="1.60" fill="#c6c6e2"/><rect y="272.55" width="12.306" height="1.60" fill="#d2d2e9"/><rect y="273.55" width="12.306" height="1.60" fill="#d9d9ec"/><rect y="274.55" width="12.306" height="2.60" fill="#cccce6"/><rect y="276.55" width="12.306" height="2.60" fill="#eeb3b3"/><rect y="278.56" width="12.306" height="1.60" fill="#d9d9ec"/><rect y="279.56" width="12.306" height="1.60" fill="#bfbfdf"/><rect y="280.56" width="12.306" height="1.60" fill="#cccce6"/><rect y="281.56" width="12.306" height="1.60" fill="#bfbfdf"/><rect y="282.56" width="12.306" height="2.60" fill="#c6c6e2"/><rect y="284.56" width="12.306" height="1.60" fill="#cccce6"/><rect y="285.56" width="12.306" height="1.60" fill="#c6c6e2"/><rect y="286.56" width="12.306" height="1.60" fill="#bfbfdf"/><rect y="287.56" width="12.306" height="1.60" fill="#c6c6e2"/><rect y="288.57" width="12.306" height="1.60" fill="#cccce6"/><rect y="289.57" width="12.306" height="1.60" fill="#bfbfdf"/><rect y="290.57" width="12.306" height="1.60" fill="#b9b9dc"/><rect y="291.57" width="12.306" height="1.60" fill="#bfbfdf"/><rect y="292.57" width="12.306" height="1.60" fill="#cccce6"/><rect y="293.57" width="12.306" height="1.60" fill="#dfdfef"/><rect y="294.57" width="12.306" height="1.60" fill="#cccce6"/><rect y="295.57" width="12.306" height="2.60" fill="#c6c6e2"/><rect y="297.57" width="12.306" height="2.60" fill="#b9b9dc"/><rect y="299.57" width="12.306" height="1.60" fill="#e6e6f2"/><rect y="300.58" width="12.306" height="1.60" fill="#d9d9ec"/><rect y="301.58" width="12.306" height="1.60" fill="#d2d2e9"/><rect y="302.58" width="12.306" height="1.60" fill="#dfdfef"/><rect y="303.58" width="12.306" height="1.60" fill="#ececf5"/><rect y="304.58" width="12.306" height="2.60" fill="#e6e6f2"/><rect y="306.58" width="12.306" height="2.60" fill="#ececf5"/><rect y="308.58" width="12.306" height="2.60" fill="#e6e6f2"/><rect y="310.58" width="12.306" height="1.60" fill="#ececf5"/><rect y="311.59" width="12.306" height="1.60" fill="#acacd6"/><rect y="312.59" width="12.306" height="1.60" fill="#dfdfef"/><rect y="313.59" width="12.306" height="1.60" fill="#ececf5"/><rect y="314.59" width="12.306" height="1.60" fill="#e6e6f2"/><rect y="315.59" width="12.306" height="1.60" fill="#dfdfef"/><rect y="316.59" width="12.306" height="1.60" fill="#e6e6f2"/><rect y="317.59" width="12.306" height="1.60" fill="#efb8b8"/><rect y="318.59" width="12.306" height="1.60" fill="#eba8a8"/><rect y="319.59" width="12.306" height="1.60" fill="#efb8b8"/><rect y="320.59" width="12.306" height="1.60" fill="#eeb3b3"/><rect y="321.59" width="12.306" height="1.60" fill="#dfdfef"/><rect y="322.60" width="12.306" height="1.60" fill="#fae9e9"/><rect y="323.60" width="12.306" height="1.60" fill="#dfdfef"/><rect y="324.60" width="12.306" height="1.60" fill="#e58d8d"/><rect y="325.60" width="12.306" height="1.60" fill="#de7272"/><rect y="326.60" width="12.306" height="1.00" fill="#e48888"/></g>
<g transform="translate(407.65,0)" shape-rendering="crispEdges">
<rect y="104.40" width="12.306" height="1.60" fill="#6666b3"/><rect y="105.40" width="12.306" height="1.60" fill="#7373b9"/><rect y="106.40" width="12.306" height="2.60" fill="#6c6cb6"/><rect y="108.40" width="12.306" height="1.60" fill="#6060b0"/><rect y="109.40" width="12.306" height="2.60" fill="#6c6cb6"/><rect y="111.41" width="12.306" height="1.60" fill="#7979bc"/><rect y="112.41" width="12.306" height="4.60" fill="#6c6cb6"/><rect y="116.41" width="12.306" height="1.60" fill="#6666b3"/><rect y="117.41" width="12.306" height="1.60" fill="#6060b0"/><rect y="118.41" width="12.306" height="2.60" fill="#6666b3"/><rect y="120.41" width="12.306" height="1.60" fill="#7373b9"/><rect y="121.42" width="12.306" height="1.60" fill="#6c6cb6"/><rect y="122.42" width="12.306" height="1.60" fill="#7979bc"/><rect y="123.42" width="12.306" height="1.60" fill="#8686c3"/><rect y="124.42" width="12.306" height="2.60" fill="#7979bc"/><rect y="126.42" width="12.306" height="1.60" fill="#7373b9"/><rect y="127.42" width="12.306" height="1.60" fill="#6c6cb6"/><rect y="128.42" width="12.306" height="1.60" fill="#6666b3"/><rect y="129.42" width="12.306" height="3.60" fill="#6c6cb6"/><rect y="132.43" width="12.306" height="1.60" fill="#7979bc"/><rect y="133.43" width="12.306" height="1.60" fill="#8686c3"/><rect y="134.43" width="12.306" height="1.60" fill="#8080c0"/><rect y="135.43" width="12.306" height="1.60" fill="#7373b9"/><rect y="136.43" width="12.306" height="1.60" fill="#7979bc"/><rect y="137.43" width="12.306" height="1.60" fill="#7373b9"/><rect y="138.43" width="12.306" height="1.60" fill="#6c6cb6"/><rect y="139.43" width="12.306" height="1.60" fill="#7979bc"/><rect y="140.43" width="12.306" height="1.60" fill="#8080c0"/><rect y="141.43" width="12.306" height="1.60" fill="#7373b9"/><rect y="142.43" width="12.306" height="1.60" fill="#6c6cb6"/><rect y="143.43" width="12.306" height="1.60" fill="#6666b3"/><rect y="144.44" width="12.306" height="1.60" fill="#7979bc"/><rect y="145.44" width="12.306" height="1.60" fill="#6c6cb6"/><rect y="146.44" width="12.306" height="1.60" fill="#7373b9"/><rect y="147.44" width="12.306" height="1.60" fill="#8080c0"/><rect y="148.44" width="12.306" height="1.60" fill="#7979bc"/><rect y="149.44" width="12.306" height="1.60" fill="#7373b9"/><rect y="150.44" width="12.306" height="1.60" fill="#8080c0"/><rect y="151.44" width="12.306" height="1.60" fill="#8686c3"/><rect y="152.44" width="12.306" height="1.60" fill="#8080c0"/><rect y="153.44" width="12.306" height="3.60" fill="#7979bc"/><rect y="156.45" width="12.306" height="1.60" fill="#6c6cb6"/><rect y="157.45" width="12.306" height="1.60" fill="#6666b3"/><rect y="158.45" width="12.306" height="3.60" fill="#7373b9"/><rect y="161.45" width="12.306" height="1.60" fill="#6c6cb6"/><rect y="162.45" width="12.306" height="1.60" fill="#7373b9"/><rect y="163.45" width="12.306" height="1.60" fill="#6c6cb6"/><rect y="164.45" width="12.306" height="1.60" fill="#6666b3"/><rect y="165.45" width="12.306" height="2.60" fill="#6c6cb6"/><rect y="167.46" width="12.306" height="1.60" fill="#7373b9"/><rect y="168.46" width="12.306" height="1.60" fill="#6c6cb6"/><rect y="169.46" width="12.306" height="1.60" fill="#7373b9"/><rect y="170.46" width="12.306" height="1.60" fill="#6c6cb6"/><rect y="171.46" width="12.306" height="1.60" fill="#7979bc"/><rect y="172.46" width="12.306" height="1.60" fill="#8080c0"/><rect y="173.46" width="12.306" height="1.60" fill="#8686c3"/><rect y="174.46" width="12.306" height="1.60" fill="#8080c0"/><rect y="175.46" width="12.306" height="1.60" fill="#8686c3"/><rect y="176.46" width="12.306" height="1.60" fill="#7979bc"/><rect y="177.47" width="12.306" height="3.60" fill="#7373b9"/><rect y="180.47" width="12.306" height="1.60" fill="#6666b3"/><rect y="181.47" width="12.306" height="1.60" fill="#6c6cb6"/><rect y="182.47" width="12.306" height="1.60" fill="#7373b9"/><rect y="183.47" width="12.306" height="1.60" fill="#7979bc"/><rect y="184.47" width="12.306" height="1.60" fill="#7373b9"/><rect y="185.47" width="12.306" height="1.60" fill="#7979bc"/><rect y="186.47" width="12.306" height="1.60" fill="#8080c0"/><rect y="187.47" width="12.306" height="1.60" fill="#8686c3"/><rect y="188.48" width="12.306" height="2.60" fill="#8080c0"/><rect y="190.48" width="12.306" height="3.60" fill="#6666b3"/><rect y="193.48" width="12.306" height="2.60" fill="#5959ac"/><rect y="195.48" width="12.306" height="3.60" fill="#6060b0"/><rect y="198.48" width="12.306" height="1.60" fill="#6666b3"/><rect y="199.49" width="12.306" height="1.60" fill="#6060b0"/><rect y="200.49" width="12.306" height="1.60" fill="#5959ac"/><rect y="201.49" width="12.306" height="1.60" fill="#6060b0"/><rect y="202.49" width="12.306" height="1.60" fill="#6c6cb6"/><rect y="203.49" width="12.306" height="2.60" fill="#6666b3"/><rect y="205.49" width="12.306" height="2.60" fill="#7979bc"/><rect y="207.49" width="12.306" height="1.60" fill="#6c6cb6"/><rect y="208.49" width="12.306" height="1.60" fill="#6666b3"/><rect y="209.49" width="12.306" height="2.60" fill="#6c6cb6"/><rect y="211.50" width="12.306" height="1.60" fill="#7979bc"/><rect y="212.50" width="12.306" height="1.60" fill="#7373b9"/><rect y="213.50" width="12.306" height="5.60" fill="#7979bc"/><rect y="218.50" width="12.306" height="1.60" fill="#7373b9"/><rect y="219.50" width="12.306" height="1.60" fill="#6c6cb6"/><rect y="220.50" width="12.306" height="1.60" fill="#6666b3"/><rect y="221.50" width="12.306" height="2.60" fill="#6c6cb6"/><rect y="223.51" width="12.306" height="1.60" fill="#7979bc"/><rect y="224.51" width="12.306" height="1.60" fill="#7373b9"/><rect y="225.51" width="12.306" height="1.60" fill="#7979bc"/><rect y="226.51" width="12.306" height="1.60" fill="#7373b9"/><rect y="227.51" width="12.306" height="1.60" fill="#8080c0"/><rect y="228.51" width="12.306" height="2.60" fill="#7373b9"/><rect y="230.51" width="12.306" height="1.60" fill="#7979bc"/><rect y="231.51" width="12.306" height="1.60" fill="#6666b3"/><rect y="232.51" width="12.306" height="1.60" fill="#7373b9"/><rect y="233.52" width="12.306" height="1.60" fill="#6666b3"/><rect y="234.52" width="12.306" height="3.60" fill="#6c6cb6"/><rect y="237.52" width="12.306" height="1.60" fill="#6666b3"/><rect y="238.52" width="12.306" height="1.60" fill="#7979bc"/><rect y="239.52" width="12.306" height="1.60" fill="#8080c0"/><rect y="240.52" width="12.306" height="1.60" fill="#7373b9"/><rect y="241.52" width="12.306" height="1.60" fill="#6c6cb6"/><rect y="242.52" width="12.306" height="1.60" fill="#7373b9"/><rect y="243.52" width="12.306" height="1.60" fill="#6c6cb6"/><rect y="244.53" width="12.306" height="1.60" fill="#7373b9"/><rect y="245.53" width="12.306" height="1.60" fill="#7979bc"/><rect y="246.53" width="12.306" height="1.60" fill="#6c6cb6"/><rect y="247.53" width="12.306" height="1.60" fill="#6666b3"/><rect y="248.53" width="12.306" height="1.60" fill="#7373b9"/><rect y="249.53" width="12.306" height="1.60" fill="#6c6cb6"/><rect y="250.53" width="12.306" height="3.60" fill="#6666b3"/><rect y="253.53" width="12.306" height="2.60" fill="#6060b0"/><rect y="255.54" width="12.306" height="1.60" fill="#6666b3"/><rect y="256.54" width="12.306" height="1.60" fill="#6c6cb6"/><rect y="257.54" width="12.306" height="1.60" fill="#6666b3"/><rect y="258.54" width="12.306" height="1.60" fill="#6c6cb6"/><rect y="259.54" width="12.306" height="1.60" fill="#6666b3"/><rect y="260.54" width="12.306" height="1.60" fill="#7373b9"/><rect y="261.54" width="12.306" height="2.60" fill="#6666b3"/><rect y="263.54" width="12.306" height="1.60" fill="#6c6cb6"/><rect y="264.54" width="12.306" height="1.60" fill="#7373b9"/><rect y="265.54" width="12.306" height="1.60" fill="#7979bc"/><rect y="266.55" width="12.306" height="1.60" fill="#7373b9"/><rect y="267.55" width="12.306" height="1.60" fill="#6c6cb6"/><rect y="268.55" width="12.306" height="1.60" fill="#7373b9"/><rect y="269.55" width="12.306" height="1.60" fill="#6666b3"/><rect y="270.55" width="12.306" height="2.60" fill="#6060b0"/><rect y="272.55" width="12.306" height="1.60" fill="#6c6cb6"/><rect y="273.55" width="12.306" height="3.60" fill="#6666b3"/><rect y="276.55" width="12.306" height="2.60" fill="#6c6cb6"/><rect y="278.56" width="12.306" height="1.60" fill="#6666b3"/><rect y="279.56" width="12.306" height="1.60" fill="#7373b9"/><rect y="280.56" width="12.306" height="2.60" fill="#6c6cb6"/><rect y="282.56" width="12.306" height="1.60" fill="#7979bc"/><rect y="283.56" width="12.306" height="1.60" fill="#8080c0"/><rect y="284.56" width="12.306" height="3.60" fill="#8686c3"/><rect y="287.56" width="12.306" height="1.60" fill="#7373b9"/><rect y="288.57" width="12.306" height="1.60" fill="#6c6cb6"/><rect y="289.57" width="12.306" height="1.60" fill="#7373b9"/><rect y="290.57" width="12.306" height="2.60" fill="#7979bc"/><rect y="292.57" width="12.306" height="2.60" fill="#6c6cb6"/><rect y="294.57" width="12.306" height="2.60" fill="#6666b3"/><rect y="296.57" width="12.306" height="1.60" fill="#6c6cb6"/><rect y="297.57" width="12.306" height="5.60" fill="#6666b3"/><rect y="302.58" width="12.306" height="1.60" fill="#6c6cb6"/><rect y="303.58" width="12.306" height="3.60" fill="#7373b9"/><rect y="306.58" width="12.306" height="1.60" fill="#7979bc"/><rect y="307.58" width="12.306" height="2.60" fill="#6c6cb6"/><rect y="309.58" width="12.306" height="1.60" fill="#8080c0"/><rect y="310.58" width="12.306" height="1.60" fill="#a6a6d3"/><rect y="311.59" width="12.306" height="1.60" fill="#6c6cb6"/><rect y="312.59" width="12.306" height="1.60" fill="#9999cc"/><rect y="313.59" width="12.306" height="3.60" fill="#9f9fcf"/><rect y="316.59" width="12.306" height="1.60" fill="#7979bc"/><rect y="317.59" width="12.306" height="1.60" fill="#6c6cb6"/><rect y="318.59" width="12.306" height="1.60" fill="#6666b3"/><rect y="319.59" width="12.306" height="1.60" fill="#6060b0"/><rect y="320.59" width="12.306" height="1.60" fill="#6666b3"/><rect y="321.59" width="12.306" height="2.60" fill="#6c6cb6"/><rect y="323.60" width="12.306" height="1.60" fill="#7979bc"/><rect y="324.60" width="12.306" height="1.60" fill="#8686c3"/><rect y="325.60" width="12.306" height="1.60" fill="#8080c0"/><rect y="326.60" width="12.306" height="1.00" fill="#7373b9"/></g>
<g transform="translate(419.35,0)" shape-rendering="crispEdges">
<rect y="104.40" width="12.306" height="1.60" fill="#8080c0"/><rect y="105.40" width="12.306" height="1.60" fill="#8686c3"/><rect y="106.40" width="12.306" height="3.60" fill="#7979bc"/><rect y="109.40" width="12.306" height="1.60" fill="#8080c0"/><rect y="110.41" width="12.306" height="1.60" fill="#7979bc"/><rect y="111.41" width="12.306" height="1.60" fill="#8686c3"/><rect y="112.41" width="12.306" height="5.60" fill="#8080c0"/><rect y="117.41" width="12.306" height="1.60" fill="#7373b9"/><rect y="118.41" width="12.306" height="1.60" fill="#8080c0"/><rect y="119.41" width="12.306" height="1.60" fill="#8686c3"/><rect y="120.41" width="12.306" height="2.60" fill="#8080c0"/><rect y="122.42" width="12.306" height="1.60" fill="#8686c3"/><rect y="123.42" width="12.306" height="1.60" fill="#8080c0"/><rect y="124.42" width="12.306" height="2.60" fill="#8c8cc6"/><rect y="126.42" width="12.306" height="2.60" fill="#8686c3"/><rect y="128.42" width="12.306" height="1.60" fill="#8080c0"/><rect y="129.42" width="12.306" height="2.60" fill="#8686c3"/><rect y="131.42" width="12.306" height="2.60" fill="#8c8cc6"/><rect y="133.43" width="12.306" height="1.60" fill="#9999cc"/><rect y="134.43" width="12.306" height="1.60" fill="#9393c9"/><rect y="135.43" width="12.306" height="1.60" fill="#8c8cc6"/><rect y="136.43" width="12.306" height="1.60" fill="#9393c9"/><rect y="137.43" width="12.306" height="1.60" fill="#8c8cc6"/><rect y="138.43" width="12.306" height="1.60" fill="#9393c9"/><rect y="139.43" width="12.306" height="1.60" fill="#8c8cc6"/><rect y="140.43" width="12.306" height="1.60" fill="#9999cc"/><rect y="141.43" width="12.306" height="1.60" fill="#9393c9"/><rect y="142.43" width="12.306" height="2.60" fill="#8080c0"/><rect y="144.44" width="12.306" height="1.60" fill="#7373b9"/><rect y="145.44" width="12.306" height="1.60" fill="#7979bc"/><rect y="146.44" width="12.306" height="3.60" fill="#8686c3"/><rect y="149.44" width="12.306" height="1.60" fill="#7979bc"/><rect y="150.44" width="12.306" height="1.60" fill="#8080c0"/><rect y="151.44" width="12.306" height="6.61" fill="#8686c3"/><rect y="157.45" width="12.306" height="1.60" fill="#8080c0"/><rect y="158.45" width="12.306" height="1.60" fill="#8c8cc6"/><rect y="159.45" width="12.306" height="1.60" fill="#8686c3"/><rect y="160.45" width="12.306" height="3.60" fill="#8c8cc6"/><rect y="163.45" width="12.306" height="2.60" fill="#8686c3"/><rect y="165.45" width="12.306" height="1.60" fill="#9999cc"/><rect y="166.46" width="12.306" height="1.60" fill="#8686c3"/><rect y="167.46" width="12.306" height="1.60" fill="#8080c0"/><rect y="168.46" width="12.306" height="1.60" fill="#8686c3"/><rect y="169.46" width="12.306" height="1.60" fill="#9393c9"/><rect y="170.46" width="12.306" height="1.60" fill="#8686c3"/><rect y="171.46" width="12.306" height="1.60" fill="#8c8cc6"/><rect y="172.46" width="12.306" height="1.60" fill="#9f9fcf"/><rect y="173.46" width="12.306" height="2.60" fill="#9999cc"/><rect y="175.46" width="12.306" height="1.60" fill="#a6a6d3"/><rect y="176.46" width="12.306" height="1.60" fill="#9f9fcf"/><rect y="177.47" width="12.306" height="2.60" fill="#9999cc"/><rect y="179.47" width="12.306" height="2.60" fill="#8686c3"/><rect y="181.47" width="12.306" height="1.60" fill="#9999cc"/><rect y="182.47" width="12.306" height="1.60" fill="#9393c9"/><rect y="183.47" width="12.306" height="1.60" fill="#8c8cc6"/><rect y="184.47" width="12.306" height="1.60" fill="#8080c0"/><rect y="185.47" width="12.306" height="2.60" fill="#8c8cc6"/><rect y="187.47" width="12.306" height="1.60" fill="#9393c9"/><rect y="188.48" width="12.306" height="1.60" fill="#8c8cc6"/><rect y="189.48" width="12.306" height="1.60" fill="#8080c0"/><rect y="190.48" width="12.306" height="2.60" fill="#7979bc"/><rect y="192.48" width="12.306" height="3.60" fill="#8080c0"/><rect y="195.48" width="12.306" height="1.60" fill="#7979bc"/><rect y="196.48" width="12.306" height="1.60" fill="#8c8cc6"/><rect y="197.48" width="12.306" height="2.60" fill="#9393c9"/><rect y="199.49" width="12.306" height="1.60" fill="#8686c3"/><rect y="200.49" width="12.306" height="3.60" fill="#8080c0"/><rect y="203.49" width="12.306" height="2.60" fill="#8686c3"/><rect y="205.49" width="12.306" height="1.60" fill="#8080c0"/><rect y="206.49" width="12.306" height="1.60" fill="#8c8cc6"/><rect y="207.49" width="12.306" height="2.60" fill="#8080c0"/><rect y="209.49" width="12.306" height="1.60" fill="#7979bc"/><rect y="210.50" width="12.306" height="1.60" fill="#8080c0"/><rect y="211.50" width="12.306" height="1.60" fill="#8686c3"/><rect y="212.50" width="12.306" height="1.60" fill="#8c8cc6"/><rect y="213.50" width="12.306" height="1.60" fill="#9999cc"/><rect y="214.50" width="12.306" height="3.60" fill="#9393c9"/><rect y="217.50" width="12.306" height="1.60" fill="#8c8cc6"/><rect y="218.50" width="12.306" height="1.60" fill="#8080c0"/><rect y="219.50" width="12.306" height="1.60" fill="#7979bc"/><rect y="220.50" width="12.306" height="1.60" fill="#7373b9"/><rect y="221.50" width="12.306" height="1.60" fill="#8080c0"/><rect y="222.51" width="12.306" height="1.60" fill="#8c8cc6"/><rect y="223.51" width="12.306" height="1.60" fill="#9393c9"/><rect y="224.51" width="12.306" height="1.60" fill="#9999cc"/><rect y="225.51" width="12.306" height="1.60" fill="#9393c9"/><rect y="226.51" width="12.306" height="1.60" fill="#8686c3"/><rect y="227.51" width="12.306" height="1.60" fill="#9393c9"/><rect y="228.51" width="12.306" height="2.60" fill="#9999cc"/><rect y="230.51" width="12.306" height="1.60" fill="#8c8cc6"/><rect y="231.51" width="12.306" height="1.60" fill="#7979bc"/><rect y="232.51" width="12.306" height="1.60" fill="#8686c3"/><rect y="233.52" width="12.306" height="1.60" fill="#8c8cc6"/><rect y="234.52" width="12.306" height="1.60" fill="#9393c9"/><rect y="235.52" width="12.306" height="1.60" fill="#9f9fcf"/><rect y="236.52" width="12.306" height="1.60" fill="#8686c3"/><rect y="237.52" width="12.306" height="1.60" fill="#8080c0"/><rect y="238.52" width="12.306" height="4.60" fill="#8c8cc6"/><rect y="242.52" width="12.306" height="1.60" fill="#8686c3"/><rect y="243.52" width="12.306" height="1.60" fill="#8c8cc6"/><rect y="244.53" width="12.306" height="1.60" fill="#8686c3"/><rect y="245.53" width="12.306" height="1.60" fill="#8080c0"/><rect y="246.53" width="12.306" height="1.60" fill="#7979bc"/><rect y="247.53" width="12.306" height="1.60" fill="#8080c0"/><rect y="248.53" width="12.306" height="1.60" fill="#8686c3"/><rect y="249.53" width="12.306" height="1.60" fill="#8c8cc6"/><rect y="250.53" width="12.306" height="2.60" fill="#8080c0"/><rect y="252.53" width="12.306" height="2.60" fill="#7373b9"/><rect y="254.53" width="12.306" height="1.60" fill="#7979bc"/><rect y="255.54" width="12.306" height="2.60" fill="#8080c0"/><rect y="257.54" width="12.306" height="3.60" fill="#8686c3"/><rect y="260.54" width="12.306" height="1.60" fill="#8c8cc6"/><rect y="261.54" width="12.306" height="1.60" fill="#9393c9"/><rect y="262.54" width="12.306" height="1.60" fill="#8c8cc6"/><rect y="263.54" width="12.306" height="1.60" fill="#9999cc"/><rect y="264.54" width="12.306" height="1.60" fill="#9393c9"/><rect y="265.54" width="12.306" height="1.60" fill="#8686c3"/><rect y="266.55" width="12.306" height="1.60" fill="#9393c9"/><rect y="267.55" width="12.306" height="2.60" fill="#8080c0"/><rect y="269.55" width="12.306" height="2.60" fill="#7979bc"/><rect y="271.55" width="12.306" height="3.60" fill="#8080c0"/><rect y="274.55" width="12.306" height="2.60" fill="#7979bc"/><rect y="276.55" width="12.306" height="1.60" fill="#8686c3"/><rect y="277.56" width="12.306" height="2.60" fill="#8c8cc6"/><rect y="279.56" width="12.306" height="1.60" fill="#9999cc"/><rect y="280.56" width="12.306" height="1.60" fill="#9393c9"/><rect y="281.56" width="12.306" height="1.60" fill="#8c8cc6"/><rect y="282.56" width="12.306" height="1.60" fill="#8080c0"/><rect y="283.56" width="12.306" height="1.60" fill="#8686c3"/><rect y="284.56" width="12.306" height="1.60" fill="#9393c9"/><rect y="285.56" width="12.306" height="2.60" fill="#9999cc"/><rect y="287.56" width="12.306" height="1.60" fill="#8c8cc6"/><rect y="288.57" width="12.306" height="4.60" fill="#8080c0"/><rect y="292.57" width="12.306" height="6.61" fill="#7979bc"/><rect y="298.57" width="12.306" height="2.60" fill="#8080c0"/><rect y="300.58" width="12.306" height="3.60" fill="#8686c3"/><rect y="303.58" width="12.306" height="1.60" fill="#8080c0"/><rect y="304.58" width="12.306" height="1.60" fill="#8686c3"/><rect y="305.58" width="12.306" height="1.60" fill="#8c8cc6"/><rect y="306.58" width="12.306" height="1.60" fill="#8686c3"/><rect y="307.58" width="12.306" height="1.60" fill="#8080c0"/><rect y="308.58" width="12.306" height="1.60" fill="#8686c3"/><rect y="309.58" width="12.306" height="1.60" fill="#9999cc"/><rect y="310.58" width="12.306" height="1.60" fill="#acacd6"/><rect y="311.59" width="12.306" height="1.60" fill="#b2b2d9"/><rect y="312.59" width="12.306" height="1.60" fill="#b9b9dc"/><rect y="313.59" width="12.306" height="1.60" fill="#acacd6"/><rect y="314.59" width="12.306" height="2.60" fill="#a6a6d3"/><rect y="316.59" width="12.306" height="1.60" fill="#8686c3"/><rect y="317.59" width="12.306" height="1.60" fill="#8080c0"/><rect y="318.59" width="12.306" height="1.60" fill="#7979bc"/><rect y="319.59" width="12.306" height="1.60" fill="#8080c0"/><rect y="320.59" width="12.306" height="1.60" fill="#8686c3"/><rect y="321.59" width="12.306" height="1.60" fill="#9999cc"/><rect y="322.60" width="12.306" height="3.60" fill="#8c8cc6"/><rect y="325.60" width="12.306" height="2.00" fill="#9393c9"/></g>
<g transform="translate(431.06,0)" shape-rendering="crispEdges">
<rect y="104.40" width="12.306" height="1.60" fill="#8080c0"/><rect y="105.40" width="12.306" height="1.60" fill="#8686c3"/><rect y="106.40" width="12.306" height="1.60" fill="#8080c0"/><rect y="107.40" width="12.306" height="2.60" fill="#8686c3"/><rect y="109.40" width="12.306" height="2.60" fill="#8c8cc6"/><rect y="111.41" width="12.306" height="2.60" fill="#9393c9"/><rect y="113.41" width="12.306" height="1.60" fill="#a6a6d3"/><rect y="114.41" width="12.306" height="1.60" fill="#9999cc"/><rect y="115.41" width="12.306" height="2.60" fill="#9f9fcf"/><rect y="117.41" width="12.306" height="4.60" fill="#8c8cc6"/><rect y="121.42" width="12.306" height="1.60" fill="#9393c9"/><rect y="122.42" width="12.306" height="2.60" fill="#9f9fcf"/><rect y="124.42" width="12.306" height="1.60" fill="#9999cc"/><rect y="125.42" width="12.306" height="1.60" fill="#9393c9"/><rect y="126.42" width="12.306" height="1.60" fill="#8686c3"/><rect y="127.42" width="12.306" height="2.60" fill="#8c8cc6"/><rect y="129.42" width="12.306" height="1.60" fill="#9f9fcf"/><rect y="130.42" width="12.306" height="2.60" fill="#9999cc"/><rect y="132.43" width="12.306" height="1.60" fill="#9f9fcf"/><rect y="133.43" width="12.306" height="1.60" fill="#a6a6d3"/><rect y="134.43" width="12.306" height="1.60" fill="#9999cc"/><rect y="135.43" width="12.306" height="2.60" fill="#8c8cc6"/><rect y="137.43" width="12.306" height="2.60" fill="#8686c3"/><rect y="139.43" width="12.306" height="1.60" fill="#8c8cc6"/><rect y="140.43" width="12.306" height="1.60" fill="#9999cc"/><rect y="141.43" width="12.306" height="1.60" fill="#8c8cc6"/><rect y="142.43" width="12.306" height="1.60" fill="#8686c3"/><rect y="143.43" width="12.306" height="1.60" fill="#9393c9"/><rect y="144.44" width="12.306" height="1.60" fill="#8c8cc6"/><rect y="145.44" width="12.306" height="3.60" fill="#8686c3"/><rect y="148.44" width="12.306" height="3.60" fill="#8c8cc6"/><rect y="151.44" width="12.306" height="2.60" fill="#9999cc"/><rect y="153.44" width="12.306" height="1.60" fill="#9393c9"/><rect y="154.44" width="12.306" height="1.60" fill="#9999cc"/><rect y="155.45" width="12.306" height="1.60" fill="#8c8cc6"/><rect y="156.45" width="12.306" height="1.60" fill="#9393c9"/><rect y="157.45" width="12.306" height="1.60" fill="#8c8cc6"/><rect y="158.45" width="12.306" height="1.60" fill="#9393c9"/><rect y="159.45" width="12.306" height="1.60" fill="#8686c3"/><rect y="160.45" width="12.306" height="4.60" fill="#8c8cc6"/><rect y="164.45" width="12.306" height="1.60" fill="#8686c3"/><rect y="165.45" width="12.306" height="1.60" fill="#8c8cc6"/><rect y="166.46" width="12.306" height="2.60" fill="#8686c3"/><rect y="168.46" width="12.306" height="4.60" fill="#8c8cc6"/><rect y="172.46" width="12.306" height="1.60" fill="#9999cc"/><rect y="173.46" width="12.306" height="1.60" fill="#9f9fcf"/><rect y="174.46" width="12.306" height="1.60" fill="#a6a6d3"/><rect y="175.46" width="12.306" height="1.60" fill="#9f9fcf"/><rect y="176.46" width="12.306" height="2.60" fill="#9999cc"/><rect y="178.47" width="12.306" height="2.60" fill="#8c8cc6"/><rect y="180.47" width="12.306" height="1.60" fill="#8080c0"/><rect y="181.47" width="12.306" height="1.60" fill="#8c8cc6"/><rect y="182.47" width="12.306" height="1.60" fill="#9999cc"/><rect y="183.47" width="12.306" height="1.60" fill="#9f9fcf"/><rect y="184.47" width="12.306" height="1.60" fill="#9999cc"/><rect y="185.47" width="12.306" height="2.60" fill="#a6a6d3"/><rect y="187.47" width="12.306" height="2.60" fill="#acacd6"/><rect y="189.48" width="12.306" height="1.60" fill="#9999cc"/><rect y="190.48" width="12.306" height="1.60" fill="#9393c9"/><rect y="191.48" width="12.306" height="1.60" fill="#8686c3"/><rect y="192.48" width="12.306" height="3.60" fill="#8c8cc6"/><rect y="195.48" width="12.306" height="1.60" fill="#8686c3"/><rect y="196.48" width="12.306" height="1.60" fill="#8c8cc6"/><rect y="197.48" width="12.306" height="1.60" fill="#8686c3"/><rect y="198.48" width="12.306" height="2.60" fill="#8c8cc6"/><rect y="200.49" width="12.306" height="1.60" fill="#7979bc"/><rect y="201.49" width="12.306" height="1.60" fill="#8080c0"/><rect y="202.49" width="12.306" height="1.60" fill="#8686c3"/><rect y="203.49" width="12.306" height="2.60" fill="#8c8cc6"/><rect y="205.49" width="12.306" height="3.60" fill="#8686c3"/><rect y="208.49" width="12.306" height="1.60" fill="#7979bc"/><rect y="209.49" width="12.306" height="2.60" fill="#8080c0"/><rect y="211.50" width="12.306" height="1.60" fill="#8686c3"/><rect y="212.50" width="12.306" height="1.60" fill="#9393c9"/><rect y="213.50" width="12.306" height="1.60" fill="#9999cc"/><rect y="214.50" width="12.306" height="1.60" fill="#9393c9"/><rect y="215.50" width="12.306" height="1.60" fill="#9999cc"/><rect y="216.50" width="12.306" height="2.60" fill="#8c8cc6"/><rect y="218.50" width="12.306" height="2.60" fill="#8686c3"/><rect y="220.50" width="12.306" height="1.60" fill="#8080c0"/><rect y="221.50" width="12.306" height="1.60" fill="#8686c3"/><rect y="222.51" width="12.306" height="1.60" fill="#8080c0"/><rect y="223.51" width="12.306" height="1.60" fill="#8686c3"/><rect y="224.51" width="12.306" height="2.60" fill="#8c8cc6"/><rect y="226.51" width="12.306" height="1.60" fill="#9393c9"/><rect y="227.51" width="12.306" height="1.60" fill="#9f9fcf"/><rect y="228.51" width="12.306" height="1.60" fill="#8c8cc6"/><rect y="229.51" width="12.306" height="2.60" fill="#9999cc"/><rect y="231.51" width="12.306" height="2.60" fill="#8c8cc6"/><rect y="233.52" width="12.306" height="1.60" fill="#8686c3"/><rect y="234.52" width="12.306" height="2.60" fill="#8c8cc6"/><rect y="236.52" width="12.306" height="1.60" fill="#9999cc"/><rect y="237.52" width="12.306" height="1.60" fill="#8080c0"/><rect y="238.52" width="12.306" height="1.60" fill="#8686c3"/><rect y="239.52" width="12.306" height="1.60" fill="#9393c9"/><rect y="240.52" width="12.306" height="1.60" fill="#9999cc"/><rect y="241.52" width="12.306" height="1.60" fill="#8c8cc6"/><rect y="242.52" width="12.306" height="1.60" fill="#8686c3"/><rect y="243.52" width="12.306" height="5.60" fill="#8c8cc6"/><rect y="248.53" width="12.306" height="1.60" fill="#9393c9"/><rect y="249.53" width="12.306" height="1.60" fill="#9999cc"/><rect y="250.53" width="12.306" height="1.60" fill="#8686c3"/><rect y="251.53" width="12.306" height="2.60" fill="#8080c0"/><rect y="253.53" width="12.306" height="3.60" fill="#8686c3"/><rect y="256.54" width="12.306" height="2.60" fill="#8c8cc6"/><rect y="258.54" width="12.306" height="2.60" fill="#8686c3"/><rect y="260.54" width="12.306" height="1.60" fill="#9999cc"/><rect y="261.54" width="12.306" height="1.60" fill="#8c8cc6"/><rect y="262.54" width="12.306" height="1.60" fill="#8686c3"/><rect y="263.54" width="12.306" height="1.60" fill="#9393c9"/><rect y="264.54" width="12.306" height="1.60" fill="#8c8cc6"/><rect y="265.54" width="12.306" height="1.60" fill="#8686c3"/><rect y="266.55" width="12.306" height="1.60" fill="#9393c9"/><rect y="267.55" width="12.306" height="1.60" fill="#8c8cc6"/><rect y="268.55" width="12.306" height="1.60" fill="#9999cc"/><rect y="269.55" width="12.306" height="1.60" fill="#9393c9"/><rect y="270.55" width="12.306" height="1.60" fill="#8c8cc6"/><rect y="271.55" width="12.306" height="1.60" fill="#8686c3"/><rect y="272.55" width="12.306" height="1.60" fill="#9393c9"/><rect y="273.55" width="12.306" height="1.60" fill="#9999cc"/><rect y="274.55" width="12.306" height="1.60" fill="#8c8cc6"/><rect y="275.55" width="12.306" height="1.60" fill="#8080c0"/><rect y="276.55" width="12.306" height="1.60" fill="#8c8cc6"/><rect y="277.56" width="12.306" height="1.60" fill="#9393c9"/><rect y="278.56" width="12.306" height="1.60" fill="#8c8cc6"/><rect y="279.56" width="12.306" height="2.60" fill="#9999cc"/><rect y="281.56" width="12.306" height="2.60" fill="#8c8cc6"/><rect y="283.56" width="12.306" height="1.60" fill="#9393c9"/><rect y="284.56" width="12.306" height="1.60" fill="#9f9fcf"/><rect y="285.56" width="12.306" height="2.60" fill="#9999cc"/><rect y="287.56" width="12.306" height="1.60" fill="#9393c9"/><rect y="288.57" width="12.306" height="1.60" fill="#8c8cc6"/><rect y="289.57" width="12.306" height="1.60" fill="#9393c9"/><rect y="290.57" width="12.306" height="1.60" fill="#9999cc"/><rect y="291.57" width="12.306" height="2.60" fill="#9393c9"/><rect y="293.57" width="12.306" height="1.60" fill="#8c8cc6"/><rect y="294.57" width="12.306" height="1.60" fill="#9393c9"/><rect y="295.57" width="12.306" height="1.60" fill="#8c8cc6"/><rect y="296.57" width="12.306" height="5.60" fill="#8686c3"/><rect y="301.58" width="12.306" height="1.60" fill="#8080c0"/><rect y="302.58" width="12.306" height="1.60" fill="#8c8cc6"/><rect y="303.58" width="12.306" height="1.60" fill="#9393c9"/><rect y="304.58" width="12.306" height="2.60" fill="#9999cc"/><rect y="306.58" width="12.306" height="4.60" fill="#8c8cc6"/><rect y="310.58" width="12.306" height="1.60" fill="#a6a6d3"/><rect y="311.59" width="12.306" height="1.60" fill="#e6e6f2"/><rect y="312.59" width="12.306" height="1.60" fill="#b2b2d9"/><rect y="313.59" width="12.306" height="1.60" fill="#acacd6"/><rect y="314.59" width="12.306" height="1.60" fill="#b2b2d9"/><rect y="315.59" width="12.306" height="1.60" fill="#a6a6d3"/><rect y="316.59" width="12.306" height="1.60" fill="#5353a9"/><rect y="317.59" width="12.306" height="1.60" fill="#8c8cc6"/><rect y="318.59" width="12.306" height="1.60" fill="#8686c3"/><rect y="319.59" width="12.306" height="1.60" fill="#8c8cc6"/><rect y="320.59" width="12.306" height="2.60" fill="#9393c9"/><rect y="322.60" width="12.306" height="1.60" fill="#6666b3"/><rect y="323.60" width="12.306" height="1.60" fill="#9393c9"/><rect y="324.60" width="12.306" height="1.60" fill="#9f9fcf"/><rect y="325.60" width="12.306" height="1.60" fill="#acacd6"/><rect y="326.60" width="12.306" height="1.00" fill="#9f9fcf"/></g>
<g transform="translate(442.76,0)" shape-rendering="crispEdges">
<rect y="104.40" width="12.306" height="1.60" fill="#9393c9"/><rect y="105.40" width="12.306" height="1.60" fill="#9999cc"/><rect y="106.40" width="12.306" height="3.60" fill="#8c8cc6"/><rect y="109.40" width="12.306" height="1.60" fill="#9999cc"/><rect y="110.41" width="12.306" height="1.60" fill="#9f9fcf"/><rect y="111.41" width="12.306" height="1.60" fill="#a6a6d3"/><rect y="112.41" width="12.306" height="1.60" fill="#9999cc"/><rect y="113.41" width="12.306" height="2.60" fill="#acacd6"/><rect y="115.41" width="12.306" height="2.60" fill="#9f9fcf"/><rect y="117.41" width="12.306" height="2.60" fill="#9999cc"/><rect y="119.41" width="12.306" height="2.60" fill="#9f9fcf"/><rect y="121.42" width="12.306" height="1.60" fill="#9999cc"/><rect y="122.42" width="12.306" height="1.60" fill="#9f9fcf"/><rect y="123.42" width="12.306" height="3.60" fill="#9999cc"/><rect y="126.42" width="12.306" height="1.60" fill="#8c8cc6"/><rect y="127.42" width="12.306" height="1.60" fill="#9393c9"/><rect y="128.42" width="12.306" height="1.60" fill="#8c8cc6"/><rect y="129.42" width="12.306" height="1.60" fill="#9f9fcf"/><rect y="130.42" width="12.306" height="1.60" fill="#a6a6d3"/><rect y="131.42" width="12.306" height="3.60" fill="#acacd6"/><rect y="134.43" width="12.306" height="1.60" fill="#b2b2d9"/><rect y="135.43" width="12.306" height="1.60" fill="#9f9fcf"/><rect y="136.43" width="12.306" height="1.60" fill="#b2b2d9"/><rect y="137.43" width="12.306" height="1.60" fill="#9f9fcf"/><rect y="138.43" width="12.306" height="1.60" fill="#9999cc"/><rect y="139.43" width="12.306" height="1.60" fill="#9393c9"/><rect y="140.43" width="12.306" height="1.60" fill="#a6a6d3"/><rect y="141.43" width="12.306" height="1.60" fill="#9f9fcf"/><rect y="142.43" width="12.306" height="1.60" fill="#9999cc"/><rect y="143.43" width="12.306" height="2.60" fill="#9393c9"/><rect y="145.44" width="12.306" height="1.60" fill="#8c8cc6"/><rect y="146.44" width="12.306" height="2.60" fill="#9999cc"/><rect y="148.44" width="12.306" height="1.60" fill="#9f9fcf"/><rect y="149.44" width="12.306" height="1.60" fill="#9999cc"/><rect y="150.44" width="12.306" height="3.60" fill="#acacd6"/><rect y="153.44" width="12.306" height="2.60" fill="#a6a6d3"/><rect y="155.45" width="12.306" height="1.60" fill="#9f9fcf"/><rect y="156.45" width="12.306" height="1.60" fill="#9999cc"/><rect y="157.45" width="12.306" height="1.60" fill="#9f9fcf"/><rect y="158.45" width="12.306" height="1.60" fill="#acacd6"/><rect y="159.45" width="12.306" height="2.60" fill="#9f9fcf"/><rect y="161.45" width="12.306" height="1.60" fill="#9393c9"/><rect y="162.45" width="12.306" height="2.60" fill="#9999cc"/><rect y="164.45" width="12.306" height="1.60" fill="#8686c3"/><rect y="165.45" width="12.306" height="1.60" fill="#8c8cc6"/><rect y="166.46" width="12.306" height="1.60" fill="#9393c9"/><rect y="167.46" width="12.306" height="1.60" fill="#8c8cc6"/><rect y="168.46" width="12.306" height="2.60" fill="#9393c9"/><rect y="170.46" width="12.306" height="1.60" fill="#8c8cc6"/><rect y="171.46" width="12.306" height="2.60" fill="#9f9fcf"/><rect y="173.46" width="12.306" height="2.60" fill="#9999cc"/><rect y="175.46" width="12.306" height="3.60" fill="#a6a6d3"/><rect y="178.47" width="12.306" height="1.60" fill="#b2b2d9"/><rect y="179.47" width="12.306" height="2.60" fill="#9999cc"/><rect y="181.47" width="12.306" height="5.60" fill="#a6a6d3"/><rect y="186.47" width="12.306" height="1.60" fill="#9f9fcf"/><rect y="187.47" width="12.306" height="1.60" fill="#a6a6d3"/><rect y="188.48" width="12.306" height="1.60" fill="#9f9fcf"/><rect y="189.48" width="12.306" height="3.60" fill="#9393c9"/><rect y="192.48" width="12.306" height="1.60" fill="#a6a6d3"/><rect y="193.48" width="12.306" height="1.60" fill="#9999cc"/><rect y="194.48" width="12.306" height="1.60" fill="#9393c9"/><rect y="195.48" width="12.306" height="1.60" fill="#acacd6"/><rect y="196.48" width="12.306" height="1.60" fill="#b2b2d9"/><rect y="197.48" width="12.306" height="3.60" fill="#a6a6d3"/><rect y="200.49" width="12.306" height="2.60" fill="#9393c9"/><rect y="202.49" width="12.306" height="1.60" fill="#9999cc"/><rect y="203.49" width="12.306" height="1.60" fill="#9f9fcf"/><rect y="204.49" width="12.306" height="1.60" fill="#a6a6d3"/><rect y="205.49" width="12.306" height="2.60" fill="#9393c9"/><rect y="207.49" width="12.306" height="1.60" fill="#8c8cc6"/><rect y="208.49" width="12.306" height="1.60" fill="#8686c3"/><rect y="209.49" width="12.306" height="1.60" fill="#8c8cc6"/><rect y="210.50" width="12.306" height="1.60" fill="#9393c9"/><rect y="211.50" width="12.306" height="1.60" fill="#9f9fcf"/><rect y="212.50" width="12.306" height="2.60" fill="#9393c9"/><rect y="214.50" width="12.306" height="1.60" fill="#9999cc"/><rect y="215.50" width="12.306" height="1.60" fill="#acacd6"/><rect y="216.50" width="12.306" height="1.60" fill="#a6a6d3"/><rect y="217.50" width="12.306" height="1.60" fill="#9999cc"/><rect y="218.50" width="12.306" height="1.60" fill="#8686c3"/><rect y="219.50" width="12.306" height="1.60" fill="#8080c0"/><rect y="220.50" width="12.306" height="1.60" fill="#8686c3"/><rect y="221.50" width="12.306" height="1.60" fill="#8c8cc6"/><rect y="222.51" width="12.306" height="1.60" fill="#9393c9"/><rect y="223.51" width="12.306" height="1.60" fill="#9999cc"/><rect y="224.51" width="12.306" height="1.60" fill="#acacd6"/><rect y="225.51" width="12.306" height="3.60" fill="#a6a6d3"/><rect y="228.51" width="12.306" height="2.60" fill="#9f9fcf"/><rect y="230.51" width="12.306" height="1.60" fill="#a6a6d3"/><rect y="231.51" width="12.306" height="1.60" fill="#9999cc"/><rect y="232.51" width="12.306" height="1.60" fill="#9f9fcf"/><rect y="233.52" width="12.306" height="4.60" fill="#9999cc"/><rect y="237.52" width="12.306" height="1.60" fill="#9393c9"/><rect y="238.52" width="12.306" height="1.60" fill="#9999cc"/><rect y="239.52" width="12.306" height="3.60" fill="#9f9fcf"/><rect y="242.52" width="12.306" height="2.60" fill="#a6a6d3"/><rect y="244.53" width="12.306" height="1.60" fill="#acacd6"/><rect y="245.53" width="12.306" height="1.60" fill="#a6a6d3"/><rect y="246.53" width="12.306" height="1.60" fill="#9999cc"/><rect y="247.53" width="12.306" height="1.60" fill="#9393c9"/><rect y="248.53" width="12.306" height="1.60" fill="#9999cc"/><rect y="249.53" width="12.306" height="1.60" fill="#9f9fcf"/><rect y="250.53" width="12.306" height="2.60" fill="#9393c9"/><rect y="252.53" width="12.306" height="3.60" fill="#8c8cc6"/><rect y="255.54" width="12.306" height="1.60" fill="#9393c9"/><rect y="256.54" width="12.306" height="1.60" fill="#9f9fcf"/><rect y="257.54" width="12.306" height="1.60" fill="#9999cc"/><rect y="258.54" width="12.306" height="2.60" fill="#8c8cc6"/><rect y="260.54" width="12.306" height="1.60" fill="#9999cc"/><rect y="261.54" width="12.306" height="2.60" fill="#9393c9"/><rect y="263.54" width="12.306" height="1.60" fill="#a6a6d3"/><rect y="264.54" width="12.306" height="1.60" fill="#9999cc"/><rect y="265.54" width="12.306" height="1.60" fill="#9393c9"/><rect y="266.55" width="12.306" height="1.60" fill="#9999cc"/><rect y="267.55" width="12.306" height="1.60" fill="#8c8cc6"/><rect y="268.55" width="12.306" height="1.60" fill="#9393c9"/><rect y="269.55" width="12.306" height="1.60" fill="#8c8cc6"/><rect y="270.55" width="12.306" height="2.60" fill="#8686c3"/><rect y="272.55" width="12.306" height="2.60" fill="#9393c9"/><rect y="274.55" width="12.306" height="1.60" fill="#8c8cc6"/><rect y="275.55" width="12.306" height="1.60" fill="#8686c3"/><rect y="276.55" width="12.306" height="1.60" fill="#9393c9"/><rect y="277.56" width="12.306" height="2.60" fill="#9f9fcf"/><rect y="279.56" width="12.306" height="2.60" fill="#a6a6d3"/><rect y="281.56" width="12.306" height="1.60" fill="#acacd6"/><rect y="282.56" width="12.306" height="1.60" fill="#a6a6d3"/><rect y="283.56" width="12.306" height="1.60" fill="#9999cc"/><rect y="284.56" width="12.306" height="1.60" fill="#a6a6d3"/><rect y="285.56" width="12.306" height="1.60" fill="#acacd6"/><rect y="286.56" width="12.306" height="1.60" fill="#a6a6d3"/><rect y="287.56" width="12.306" height="1.60" fill="#9f9fcf"/><rect y="288.57" width="12.306" height="1.60" fill="#9393c9"/><rect y="289.57" width="12.306" height="3.60" fill="#9999cc"/><rect y="292.57" width="12.306" height="1.60" fill="#8c8cc6"/><rect y="293.57" width="12.306" height="3.60" fill="#9393c9"/><rect y="296.57" width="12.306" height="1.60" fill="#8c8cc6"/><rect y="297.57" width="12.306" height="4.60" fill="#9393c9"/><rect y="301.58" width="12.306" height="1.60" fill="#8c8cc6"/><rect y="302.58" width="12.306" height="1.60" fill="#8686c3"/><rect y="303.58" width="12.306" height="3.60" fill="#9393c9"/><rect y="306.58" width="12.306" height="1.60" fill="#8c8cc6"/><rect y="307.58" width="12.306" height="1.60" fill="#e6e6f2"/><rect y="308.58" width="12.306" height="1.60" fill="#dfdfef"/><rect y="309.58" width="12.306" height="1.60" fill="#d9d9ec"/><rect y="310.58" width="12.306" height="1.60" fill="#d2d2e9"/><rect y="311.59" width="12.306" height="1.60" fill="#e6e6f2"/><rect y="312.59" width="12.306" height="1.60" fill="#9f9fcf"/><rect y="313.59" width="12.306" height="3.60" fill="#9393c9"/><rect y="316.59" width="12.306" height="1.60" fill="#d2d2e9"/><rect y="317.59" width="12.306" height="2.60" fill="#9393c9"/><rect y="319.59" width="12.306" height="1.60" fill="#9999cc"/><rect y="320.59" width="12.306" height="1.60" fill="#a6a6d3"/><rect y="321.59" width="12.306" height="1.60" fill="#9f9fcf"/><rect y="322.60" width="12.306" height="1.60" fill="#d9d9ec"/><rect y="323.60" width="12.306" height="2.60" fill="#9393c9"/><rect y="325.60" width="12.306" height="1.60" fill="#9f9fcf"/><rect y="326.60" width="12.306" height="1.00" fill="#a6a6d3"/></g>
<g transform="translate(454.47,0)" shape-rendering="crispEdges">
<rect y="104.40" width="12.306" height="3.60" fill="#6c6cb6"/><rect y="107.40" width="12.306" height="1.60" fill="#7373b9"/><rect y="108.40" width="12.306" height="1.60" fill="#6666b3"/><rect y="109.40" width="12.306" height="1.60" fill="#7373b9"/><rect y="110.41" width="12.306" height="2.60" fill="#6c6cb6"/><rect y="112.41" width="12.306" height="1.60" fill="#7373b9"/><rect y="113.41" width="12.306" height="1.60" fill="#7979bc"/><rect y="114.41" width="12.306" height="1.60" fill="#7373b9"/><rect y="115.41" width="12.306" height="1.60" fill="#7979bc"/><rect y="116.41" width="12.306" height="1.60" fill="#8080c0"/><rect y="117.41" width="12.306" height="1.60" fill="#7373b9"/><rect y="118.41" width="12.306" height="1.60" fill="#6c6cb6"/><rect y="119.41" width="12.306" height="1.60" fill="#7373b9"/><rect y="120.41" width="12.306" height="1.60" fill="#6c6cb6"/><rect y="121.42" width="12.306" height="1.60" fill="#7373b9"/><rect y="122.42" width="12.306" height="2.60" fill="#8080c0"/><rect y="124.42" width="12.306" height="5.60" fill="#7373b9"/><rect y="129.42" width="12.306" height="1.60" fill="#7979bc"/><rect y="130.42" width="12.306" height="2.60" fill="#8686c3"/><rect y="132.43" width="12.306" height="2.60" fill="#8080c0"/><rect y="134.43" width="12.306" height="1.60" fill="#8686c3"/><rect y="135.43" width="12.306" height="2.60" fill="#7979bc"/><rect y="137.43" width="12.306" height="1.60" fill="#7373b9"/><rect y="138.43" width="12.306" height="2.60" fill="#6c6cb6"/><rect y="140.43" width="12.306" height="2.60" fill="#7979bc"/><rect y="142.43" width="12.306" height="1.60" fill="#6c6cb6"/><rect y="143.43" width="12.306" height="1.60" fill="#7373b9"/><rect y="144.44" width="12.306" height="1.60" fill="#7979bc"/><rect y="145.44" width="12.306" height="4.60" fill="#8080c0"/><rect y="149.44" width="12.306" height="1.60" fill="#7979bc"/><rect y="150.44" width="12.306" height="2.60" fill="#8686c3"/><rect y="152.44" width="12.306" height="1.60" fill="#8080c0"/><rect y="153.44" width="12.306" height="2.60" fill="#6c6cb6"/><rect y="155.45" width="12.306" height="3.60" fill="#7373b9"/><rect y="158.45" width="12.306" height="1.60" fill="#7979bc"/><rect y="159.45" width="12.306" height="1.60" fill="#8686c3"/><rect y="160.45" width="12.306" height="2.60" fill="#8080c0"/><rect y="162.45" width="12.306" height="2.60" fill="#7979bc"/><rect y="164.45" width="12.306" height="1.60" fill="#6c6cb6"/><rect y="165.45" width="12.306" height="1.60" fill="#7979bc"/><rect y="166.46" width="12.306" height="1.60" fill="#8686c3"/><rect y="167.46" width="12.306" height="1.60" fill="#8080c0"/><rect y="168.46" width="12.306" height="1.60" fill="#8686c3"/><rect y="169.46" width="12.306" height="1.60" fill="#7979bc"/><rect y="170.46" width="12.306" height="1.60" fill="#7373b9"/><rect y="171.46" width="12.306" height="1.60" fill="#7979bc"/><rect y="172.46" width="12.306" height="1.60" fill="#8686c3"/><rect y="173.46" width="12.306" height="2.60" fill="#8080c0"/><rect y="175.46" width="12.306" height="1.60" fill="#8686c3"/><rect y="176.46" width="12.306" height="1.60" fill="#7373b9"/><rect y="177.47" width="12.306" height="2.60" fill="#8080c0"/><rect y="179.47" width="12.306" height="1.60" fill="#7979bc"/><rect y="180.47" width="12.306" height="2.60" fill="#7373b9"/><rect y="182.47" width="12.306" height="1.60" fill="#7979bc"/><rect y="183.47" width="12.306" height="1.60" fill="#8080c0"/><rect y="184.47" width="12.306" height="1.60" fill="#7373b9"/><rect y="185.47" width="12.306" height="1.60" fill="#8080c0"/><rect y="186.47" width="12.306" height="1.60" fill="#8686c3"/><rect y="187.47" width="12.306" height="1.60" fill="#7979bc"/><rect y="188.48" width="12.306" height="1.60" fill="#8080c0"/><rect y="189.48" width="12.306" height="1.60" fill="#7979bc"/><rect y="190.48" width="12.306" height="1.60" fill="#8080c0"/><rect y="191.48" width="12.306" height="1.60" fill="#6c6cb6"/><rect y="192.48" width="12.306" height="3.60" fill="#7373b9"/><rect y="195.48" width="12.306" height="1.60" fill="#7979bc"/><rect y="196.48" width="12.306" height="2.60" fill="#7373b9"/><rect y="198.48" width="12.306" height="2.60" fill="#8080c0"/><rect y="200.49" width="12.306" height="1.60" fill="#6c6cb6"/><rect y="201.49" width="12.306" height="2.60" fill="#7373b9"/><rect y="203.49" width="12.306" height="1.60" fill="#8080c0"/><rect y="204.49" width="12.306" height="2.60" fill="#7979bc"/><rect y="206.49" width="12.306" height="2.60" fill="#7373b9"/><rect y="208.49" width="12.306" height="1.60" fill="#6c6cb6"/><rect y="209.49" width="12.306" height="1.60" fill="#6666b3"/><rect y="210.50" width="12.306" height="1.60" fill="#6060b0"/><rect y="211.50" width="12.306" height="2.60" fill="#6c6cb6"/><rect y="213.50" width="12.306" height="2.60" fill="#6666b3"/><rect y="215.50" width="12.306" height="2.60" fill="#6c6cb6"/><rect y="217.50" width="12.306" height="1.60" fill="#6666b3"/><rect y="218.50" width="12.306" height="1.60" fill="#6060b0"/><rect y="219.50" width="12.306" height="2.60" fill="#6666b3"/><rect y="221.50" width="12.306" height="2.60" fill="#5959ac"/><rect y="223.51" width="12.306" height="2.60" fill="#6c6cb6"/><rect y="225.51" width="12.306" height="1.60" fill="#6666b3"/><rect y="226.51" width="12.306" height="2.60" fill="#7373b9"/><rect y="228.51" width="12.306" height="3.60" fill="#6666b3"/><rect y="231.51" width="12.306" height="2.60" fill="#5353a9"/><rect y="233.52" width="12.306" height="1.60" fill="#5959ac"/><rect y="234.52" width="12.306" height="3.60" fill="#5353a9"/><rect y="237.52" width="12.306" height="2.60" fill="#5959ac"/><rect y="239.52" width="12.306" height="1.60" fill="#6666b3"/><rect y="240.52" width="12.306" height="2.60" fill="#6060b0"/><rect y="242.52" width="12.306" height="1.60" fill="#5353a9"/><rect y="243.52" width="12.306" height="2.60" fill="#5959ac"/><rect y="245.53" width="12.306" height="1.60" fill="#5353a9"/><rect y="246.53" width="12.306" height="1.60" fill="#4646a3"/><rect y="247.53" width="12.306" height="1.60" fill="#4c4ca6"/><rect y="248.53" width="12.306" height="1.60" fill="#5959ac"/><rect y="249.53" width="12.306" height="1.60" fill="#6060b0"/><rect y="250.53" width="12.306" height="3.60" fill="#5959ac"/><rect y="253.53" width="12.306" height="1.60" fill="#5353a9"/><rect y="254.53" width="12.306" height="1.60" fill="#6060b0"/><rect y="255.54" width="12.306" height="1.60" fill="#6666b3"/><rect y="256.54" width="12.306" height="1.60" fill="#6060b0"/><rect y="257.54" width="12.306" height="2.60" fill="#6666b3"/><rect y="259.54" width="12.306" height="1.60" fill="#5959ac"/><rect y="260.54" width="12.306" height="1.60" fill="#6060b0"/><rect y="261.54" width="12.306" height="1.60" fill="#7979bc"/><rect y="262.54" width="12.306" height="1.60" fill="#7373b9"/><rect y="263.54" width="12.306" height="3.60" fill="#8080c0"/><rect y="266.55" width="12.306" height="1.60" fill="#8c8cc6"/><rect y="267.55" width="12.306" height="2.60" fill="#8686c3"/><rect y="269.55" width="12.306" height="1.60" fill="#7373b9"/><rect y="270.55" width="12.306" height="1.60" fill="#6666b3"/><rect y="271.55" width="12.306" height="3.60" fill="#7373b9"/><rect y="274.55" width="12.306" height="1.60" fill="#6666b3"/><rect y="275.55" width="12.306" height="1.60" fill="#6060b0"/><rect y="276.55" width="12.306" height="1.60" fill="#6c6cb6"/><rect y="277.56" width="12.306" height="2.60" fill="#7373b9"/><rect y="279.56" width="12.306" height="1.60" fill="#7979bc"/><rect y="280.56" width="12.306" height="1.60" fill="#7373b9"/><rect y="281.56" width="12.306" height="1.60" fill="#6666b3"/><rect y="282.56" width="12.306" height="2.60" fill="#6c6cb6"/><rect y="284.56" width="12.306" height="1.60" fill="#8080c0"/><rect y="285.56" width="12.306" height="1.60" fill="#8686c3"/><rect y="286.56" width="12.306" height="3.60" fill="#7373b9"/><rect y="289.57" width="12.306" height="2.60" fill="#6c6cb6"/><rect y="291.57" width="12.306" height="2.60" fill="#7373b9"/><rect y="293.57" width="12.306" height="1.60" fill="#6c6cb6"/><rect y="294.57" width="12.306" height="1.60" fill="#7373b9"/><rect y="295.57" width="12.306" height="1.60" fill="#6c6cb6"/><rect y="296.57" width="12.306" height="1.60" fill="#6666b3"/><rect y="297.57" width="12.306" height="2.60" fill="#6060b0"/><rect y="299.57" width="12.306" height="2.60" fill="#6666b3"/><rect y="301.58" width="12.306" height="1.60" fill="#6060b0"/><rect y="302.58" width="12.306" height="2.60" fill="#7373b9"/><rect y="304.58" width="12.306" height="1.60" fill="#7979bc"/><rect y="305.58" width="12.306" height="1.60" fill="#8080c0"/><rect y="306.58" width="12.306" height="1.60" fill="#8686c3"/><rect y="307.58" width="12.306" height="3.60" fill="#7373b9"/><rect y="310.58" width="12.306" height="1.60" fill="#6c6cb6"/><rect y="311.59" width="12.306" height="2.60" fill="#7373b9"/><rect y="313.59" width="12.306" height="1.60" fill="#7979bc"/><rect y="314.59" width="12.306" height="2.60" fill="#6060b0"/><rect y="316.59" width="12.306" height="1.60" fill="#2d2d96"/><rect y="317.59" width="12.306" height="2.60" fill="#5353a9"/><rect y="319.59" width="12.306" height="1.60" fill="#4c4ca6"/><rect y="320.59" width="12.306" height="1.60" fill="#5959ac"/><rect y="321.59" width="12.306" height="1.60" fill="#6060b0"/><rect y="322.60" width="12.306" height="1.60" fill="#6666b3"/><rect y="323.60" width="12.306" height="1.60" fill="#6060b0"/><rect y="324.60" width="12.306" height="1.60" fill="#7373b9"/><rect y="325.60" width="12.306" height="2.00" fill="#7979bc"/></g>
<g transform="translate(466.18,0)" shape-rendering="crispEdges">
<rect y="104.40" width="12.306" height="2.60" fill="#fae9e9"/><rect y="106.40" width="12.306" height="1.60" fill="#ffffff"/><rect y="107.40" width="12.306" height="1.60" fill="#fefafa"/><rect y="108.40" width="12.306" height="1.60" fill="#f9f9fc"/><rect y="109.40" width="12.306" height="2.60" fill="#ffffff"/><rect y="111.41" width="12.306" height="1.60" fill="#fcf4f4"/><rect y="112.41" width="12.306" height="1.60" fill="#fbefef"/><rect y="113.41" width="12.306" height="1.60" fill="#fae9e9"/><rect y="114.41" width="12.306" height="1.60" fill="#f9e4e4"/><rect y="115.41" width="12.306" height="2.60" fill="#fefafa"/><rect y="117.41" width="12.306" height="1.60" fill="#fcf4f4"/><rect y="118.41" width="12.306" height="1.60" fill="#fbefef"/><rect y="119.41" width="12.306" height="3.60" fill="#fae9e9"/><rect y="122.42" width="12.306" height="1.60" fill="#f6d9d9"/><rect y="123.42" width="12.306" height="1.60" fill="#f8dede"/><rect y="124.42" width="12.306" height="1.60" fill="#f9e4e4"/><rect y="125.42" width="12.306" height="1.60" fill="#f8dede"/><rect y="126.42" width="12.306" height="2.60" fill="#fae9e9"/><rect y="128.42" width="12.306" height="1.60" fill="#fefafa"/><rect y="129.42" width="12.306" height="2.60" fill="#fae9e9"/><rect y="131.42" width="12.306" height="2.60" fill="#f9e4e4"/><rect y="133.43" width="12.306" height="1.60" fill="#f2c9c9"/><rect y="134.43" width="12.306" height="1.60" fill="#f6d9d9"/><rect y="135.43" width="12.306" height="1.60" fill="#f8dede"/><rect y="136.43" width="12.306" height="1.60" fill="#f5d4d4"/><rect y="137.43" width="12.306" height="1.60" fill="#f6d9d9"/><rect y="138.43" width="12.306" height="1.60" fill="#f9e4e4"/><rect y="139.43" width="12.306" height="1.60" fill="#fae9e9"/><rect y="140.43" width="12.306" height="1.60" fill="#f8dede"/><rect y="141.43" width="12.306" height="1.60" fill="#fefafa"/><rect y="142.43" width="12.306" height="1.60" fill="#ffffff"/><rect y="143.43" width="12.306" height="1.60" fill="#f8dede"/><rect y="144.44" width="12.306" height="2.60" fill="#fae9e9"/><rect y="146.44" width="12.306" height="1.60" fill="#f8dede"/><rect y="147.44" width="12.306" height="1.60" fill="#f9e4e4"/><rect y="148.44" width="12.306" height="1.60" fill="#fae9e9"/><rect y="149.44" width="12.306" height="1.60" fill="#f9e4e4"/><rect y="150.44" width="12.306" height="1.60" fill="#fae9e9"/><rect y="151.44" width="12.306" height="2.60" fill="#f6d9d9"/><rect y="153.44" width="12.306" height="1.60" fill="#fae9e9"/><rect y="154.44" width="12.306" height="1.60" fill="#fcf4f4"/><rect y="155.45" width="12.306" height="1.60" fill="#f9e4e4"/><rect y="156.45" width="12.306" height="1.60" fill="#fbefef"/><rect y="157.45" width="12.306" height="1.60" fill="#fae9e9"/><rect y="158.45" width="12.306" height="2.60" fill="#fbefef"/><rect y="160.45" width="12.306" height="3.60" fill="#fae9e9"/><rect y="163.45" width="12.306" height="1.60" fill="#fbefef"/><rect y="164.45" width="12.306" height="1.60" fill="#fefafa"/><rect y="165.45" width="12.306" height="1.60" fill="#fae9e9"/><rect y="166.46" width="12.306" height="1.60" fill="#f8dede"/><rect y="167.46" width="12.306" height="1.60" fill="#fae9e9"/><rect y="168.46" width="12.306" height="1.60" fill="#f8dede"/><rect y="169.46" width="12.306" height="1.60" fill="#f9e4e4"/><rect y="170.46" width="12.306" height="1.60" fill="#f4cece"/><rect y="171.46" width="12.306" height="1.60" fill="#f8dede"/><rect y="172.46" width="12.306" height="1.60" fill="#f4cece"/><rect y="173.46" width="12.306" height="1.60" fill="#f9e4e4"/><rect y="174.46" width="12.306" height="1.60" fill="#f8dede"/><rect y="175.46" width="12.306" height="1.60" fill="#f2c9c9"/><rect y="176.46" width="12.306" height="1.60" fill="#fae9e9"/><rect y="177.47" width="12.306" height="1.60" fill="#f9e4e4"/><rect y="178.47" width="12.306" height="1.60" fill="#fae9e9"/><rect y="179.47" width="12.306" height="1.60" fill="#fbefef"/><rect y="180.47" width="12.306" height="1.60" fill="#fcf4f4"/><rect y="181.47" width="12.306" height="1.60" fill="#fbefef"/><rect y="182.47" width="12.306" height="1.60" fill="#fae9e9"/><rect y="183.47" width="12.306" height="1.60" fill="#f8dede"/><rect y="184.47" width="12.306" height="1.60" fill="#fcf4f4"/><rect y="185.47" width="12.306" height="2.60" fill="#f6d9d9"/><rect y="187.47" width="12.306" height="1.60" fill="#f9e4e4"/><rect y="188.48" width="12.306" height="1.60" fill="#f5d4d4"/><rect y="189.48" width="12.306" height="1.60" fill="#fbefef"/><rect y="190.48" width="12.306" height="1.60" fill="#fefafa"/><rect y="191.48" width="12.306" height="1.60" fill="#fbefef"/><rect y="192.48" width="12.306" height="1.60" fill="#f6d9d9"/><rect y="193.48" width="12.306" height="1.60" fill="#f9e4e4"/><rect y="194.48" width="12.306" height="1.60" fill="#f8dede"/><rect y="195.48" width="12.306" height="1.60" fill="#f9e4e4"/><rect y="196.48" width="12.306" height="1.60" fill="#fae9e9"/><rect y="197.48" width="12.306" height="1.60" fill="#fbefef"/><rect y="198.48" width="12.306" height="2.60" fill="#fae9e9"/><rect y="200.49" width="12.306" height="1.60" fill="#f9f9fc"/><rect y="201.49" width="12.306" height="2.60" fill="#ffffff"/><rect y="203.49" width="12.306" height="1.60" fill="#fcf4f4"/><rect y="204.49" width="12.306" height="1.60" fill="#fefafa"/><rect y="205.49" width="12.306" height="1.60" fill="#dfdfef"/><rect y="206.49" width="12.306" height="1.60" fill="#e6e6f2"/><rect y="207.49" width="12.306" height="1.60" fill="#f2f2f9"/><rect y="208.49" width="12.306" height="1.60" fill="#f9f9fc"/><rect y="209.49" width="12.306" height="1.60" fill="#e6e6f2"/><rect y="210.50" width="12.306" height="1.60" fill="#dfdfef"/><rect y="211.50" width="12.306" height="1.60" fill="#ececf5"/><rect y="212.50" width="12.306" height="2.60" fill="#dfdfef"/><rect y="214.50" width="12.306" height="1.60" fill="#d2d2e9"/><rect y="215.50" width="12.306" height="1.60" fill="#f5d4d4"/><rect y="216.50" width="12.306" height="1.60" fill="#fae9e9"/><rect y="217.50" width="12.306" height="1.60" fill="#fcf4f4"/><rect y="218.50" width="12.306" height="3.60" fill="#f9f9fc"/><rect y="221.50" width="12.306" height="1.60" fill="#fae9e9"/><rect y="222.51" width="12.306" height="1.60" fill="#f9e4e4"/><rect y="223.51" width="12.306" height="1.60" fill="#fae9e9"/><rect y="224.51" width="12.306" height="1.60" fill="#f6d9d9"/><rect y="225.51" width="12.306" height="1.60" fill="#fbefef"/><rect y="226.51" width="12.306" height="1.60" fill="#f8dede"/><rect y="227.51" width="12.306" height="1.60" fill="#f5d4d4"/><rect y="228.51" width="12.306" height="1.60" fill="#f9e4e4"/><rect y="229.51" width="12.306" height="1.60" fill="#f8dede"/><rect y="230.51" width="12.306" height="1.60" fill="#fae9e9"/><rect y="231.51" width="12.306" height="2.60" fill="#fbefef"/><rect y="233.52" width="12.306" height="1.60" fill="#fae9e9"/><rect y="234.52" width="12.306" height="1.60" fill="#fbefef"/><rect y="235.52" width="12.306" height="1.60" fill="#f9e4e4"/><rect y="236.52" width="12.306" height="1.60" fill="#f5d4d4"/><rect y="237.52" width="12.306" height="1.60" fill="#fae9e9"/><rect y="238.52" width="12.306" height="2.60" fill="#f5d4d4"/><rect y="240.52" width="12.306" height="1.60" fill="#f6d9d9"/><rect y="241.52" width="12.306" height="1.60" fill="#f9e4e4"/><rect y="242.52" width="12.306" height="1.60" fill="#fcf4f4"/><rect y="243.52" width="12.306" height="1.60" fill="#f9e4e4"/><rect y="244.53" width="12.306" height="2.60" fill="#fae9e9"/><rect y="246.53" width="12.306" height="1.60" fill="#fefafa"/><rect y="247.53" width="12.306" height="1.60" fill="#fcf4f4"/><rect y="248.53" width="12.306" height="2.60" fill="#fae9e9"/><rect y="250.53" width="12.306" height="1.60" fill="#fefafa"/><rect y="251.53" width="12.306" height="1.60" fill="#ffffff"/><rect y="252.53" width="12.306" height="1.60" fill="#fefafa"/><rect y="253.53" width="12.306" height="1.60" fill="#f9f9fc"/><rect y="254.53" width="12.306" height="2.60" fill="#fcf4f4"/><rect y="256.54" width="12.306" height="1.60" fill="#fae9e9"/><rect y="257.54" width="12.306" height="1.60" fill="#fbefef"/><rect y="258.54" width="12.306" height="1.60" fill="#ffffff"/><rect y="259.54" width="12.306" height="1.60" fill="#fcf4f4"/><rect y="260.54" width="12.306" height="1.60" fill="#f8dede"/><rect y="261.54" width="12.306" height="1.60" fill="#fbefef"/><rect y="262.54" width="12.306" height="1.60" fill="#ffffff"/><rect y="263.54" width="12.306" height="1.60" fill="#fcf4f4"/><rect y="264.54" width="12.306" height="1.60" fill="#fbefef"/><rect y="265.54" width="12.306" height="1.60" fill="#fcf4f4"/><rect y="266.55" width="12.306" height="1.60" fill="#fbefef"/><rect y="267.55" width="12.306" height="1.60" fill="#ececf5"/><rect y="268.55" width="12.306" height="2.60" fill="#fefafa"/><rect y="270.55" width="12.306" height="1.60" fill="#fcf4f4"/><rect y="271.55" width="12.306" height="1.60" fill="#fbefef"/><rect y="272.55" width="12.306" height="2.60" fill="#f9e4e4"/><rect y="274.55" width="12.306" height="1.60" fill="#fae9e9"/><rect y="275.55" width="12.306" height="1.60" fill="#fbefef"/><rect y="276.55" width="12.306" height="1.60" fill="#f8dede"/><rect y="277.56" width="12.306" height="1.60" fill="#f4cece"/><rect y="278.56" width="12.306" height="1.60" fill="#f9e4e4"/><rect y="279.56" width="12.306" height="2.60" fill="#f8dede"/><rect y="281.56" width="12.306" height="1.60" fill="#fae9e9"/><rect y="282.56" width="12.306" height="1.60" fill="#f6d9d9"/><rect y="283.56" width="12.306" height="1.60" fill="#f5d4d4"/><rect y="284.56" width="12.306" height="1.60" fill="#f6d9d9"/><rect y="285.56" width="12.306" height="1.60" fill="#f5d4d4"/><rect y="286.56" width="12.306" height="1.60" fill="#f6d9d9"/><rect y="287.56" width="12.306" height="1.60" fill="#f5d4d4"/><rect y="288.57" width="12.306" height="1.60" fill="#f8dede"/><rect y="289.57" width="12.306" height="1.60" fill="#f6d9d9"/><rect y="290.57" width="12.306" height="1.60" fill="#f8dede"/><rect y="291.57" width="12.306" height="1.60" fill="#fae9e9"/><rect y="292.57" width="12.306" height="1.60" fill="#fbefef"/><rect y="293.57" width="12.306" height="1.60" fill="#fcf4f4"/><rect y="294.57" width="12.306" height="1.60" fill="#f9e4e4"/><rect y="295.57" width="12.306" height="1.60" fill="#f8dede"/><rect y="296.57" width="12.306" height="1.60" fill="#fbefef"/><rect y="297.57" width="12.306" height="2.60" fill="#f2f2f9"/><rect y="299.57" width="12.306" height="2.60" fill="#fefafa"/><rect y="301.58" width="12.306" height="1.60" fill="#fcf4f4"/><rect y="302.58" width="12.306" height="1.60" fill="#fae9e9"/><rect y="303.58" width="12.306" height="1.60" fill="#f8dede"/><rect y="304.58" width="12.306" height="2.60" fill="#cccce6"/><rect y="306.58" width="12.306" height="1.60" fill="#c6c6e2"/><rect y="307.58" width="12.306" height="1.60" fill="#d2d2e9"/><rect y="308.58" width="12.306" height="1.60" fill="#e6e6f2"/><rect y="309.58" width="12.306" height="1.60" fill="#dfdfef"/><rect y="310.58" width="12.306" height="1.60" fill="#d2d2e9"/><rect y="311.59" width="12.306" height="1.60" fill="#8080c0"/><rect y="312.59" width="12.306" height="1.60" fill="#cccce6"/><rect y="313.59" width="12.306" height="1.60" fill="#d9d9ec"/><rect y="314.59" width="12.306" height="2.60" fill="#f2f2f9"/><rect y="316.59" width="12.306" height="1.60" fill="#cccce6"/><rect y="317.59" width="12.306" height="1.60" fill="#f9f9fc"/><rect y="318.59" width="12.306" height="1.60" fill="#fcf4f4"/><rect y="319.59" width="12.306" height="1.60" fill="#fefafa"/><rect y="320.59" width="12.306" height="1.60" fill="#fae9e9"/><rect y="321.59" width="12.306" height="1.60" fill="#9999cc"/><rect y="322.60" width="12.306" height="1.60" fill="#9393c9"/><rect y="323.60" width="12.306" height="1.60" fill="#8c8cc6"/><rect y="324.60" width="12.306" height="1.60" fill="#9393c9"/><rect y="325.60" width="12.306" height="1.60" fill="#8c8cc6"/><rect y="326.60" width="12.306" height="1.00" fill="#9393c9"/></g>
<g transform="translate(477.88,0)" shape-rendering="crispEdges">
<rect y="104.40" width="12.306" height="1.60" fill="#db6262"/><rect y="105.40" width="12.306" height="1.60" fill="#d85757"/><rect y="106.40" width="12.306" height="2.60" fill="#da5c5c"/><rect y="108.40" width="12.306" height="1.60" fill="#db6262"/><rect y="109.40" width="12.306" height="1.60" fill="#d85757"/><rect y="110.41" width="12.306" height="1.60" fill="#d64c4c"/><rect y="111.41" width="12.306" height="1.60" fill="#d34141"/><rect y="112.41" width="12.306" height="1.60" fill="#d64c4c"/><rect y="113.41" width="12.306" height="2.60" fill="#d44747"/><rect y="115.41" width="12.306" height="1.60" fill="#d75151"/><rect y="116.41" width="12.306" height="1.60" fill="#d44747"/><rect y="117.41" width="12.306" height="2.60" fill="#d85757"/><rect y="119.41" width="12.306" height="1.60" fill="#d64c4c"/><rect y="120.41" width="12.306" height="1.60" fill="#d85757"/><rect y="121.42" width="12.306" height="1.60" fill="#d75151"/><rect y="122.42" width="12.306" height="1.60" fill="#d34141"/><rect y="123.42" width="12.306" height="1.60" fill="#d23c3c"/><rect y="124.42" width="12.306" height="1.60" fill="#d34141"/><rect y="125.42" width="12.306" height="1.60" fill="#d64c4c"/><rect y="126.42" width="12.306" height="2.60" fill="#d85757"/><rect y="128.42" width="12.306" height="1.60" fill="#d44747"/><rect y="129.42" width="12.306" height="1.60" fill="#d13636"/><rect y="130.42" width="12.306" height="2.60" fill="#d34141"/><rect y="132.43" width="12.306" height="1.60" fill="#d23c3c"/><rect y="133.43" width="12.306" height="1.60" fill="#d13636"/><rect y="134.43" width="12.306" height="1.60" fill="#d34141"/><rect y="135.43" width="12.306" height="1.60" fill="#d75151"/><rect y="136.43" width="12.306" height="1.60" fill="#d44747"/><rect y="137.43" width="12.306" height="2.60" fill="#d64c4c"/><rect y="139.43" width="12.306" height="1.60" fill="#d44747"/><rect y="140.43" width="12.306" height="1.60" fill="#d03131"/><rect y="141.43" width="12.306" height="1.60" fill="#d13636"/><rect y="142.43" width="12.306" height="1.60" fill="#da5c5c"/><rect y="143.43" width="12.306" height="2.60" fill="#d75151"/><rect y="145.44" width="12.306" height="1.60" fill="#da5c5c"/><rect y="146.44" width="12.306" height="2.60" fill="#d85757"/><rect y="148.44" width="12.306" height="1.60" fill="#d23c3c"/><rect y="149.44" width="12.306" height="1.60" fill="#d44747"/><rect y="150.44" width="12.306" height="1.60" fill="#d23c3c"/><rect y="151.44" width="12.306" height="1.60" fill="#d34141"/><rect y="152.44" width="12.306" height="1.60" fill="#d75151"/><rect y="153.44" width="12.306" height="1.60" fill="#d44747"/><rect y="154.44" width="12.306" height="2.60" fill="#d34141"/><rect y="156.45" width="12.306" height="1.60" fill="#d75151"/><rect y="157.45" width="12.306" height="1.60" fill="#d64c4c"/><rect y="158.45" width="12.306" height="1.60" fill="#d34141"/><rect y="159.45" width="12.306" height="1.60" fill="#d64c4c"/><rect y="160.45" width="12.306" height="1.60" fill="#d44747"/><rect y="161.45" width="12.306" height="1.60" fill="#d23c3c"/><rect y="162.45" width="12.306" height="1.60" fill="#d44747"/><rect y="163.45" width="12.306" height="1.60" fill="#db6262"/><rect y="164.45" width="12.306" height="1.60" fill="#da5c5c"/><rect y="165.45" width="12.306" height="1.60" fill="#d34141"/><rect y="166.46" width="12.306" height="1.60" fill="#d44747"/><rect y="167.46" width="12.306" height="1.60" fill="#da5c5c"/><rect y="168.46" width="12.306" height="1.60" fill="#d64c4c"/><rect y="169.46" width="12.306" height="1.60" fill="#d34141"/><rect y="170.46" width="12.306" height="1.60" fill="#d23c3c"/><rect y="171.46" width="12.306" height="1.60" fill="#d34141"/><rect y="172.46" width="12.306" height="1.60" fill="#d23c3c"/><rect y="173.46" width="12.306" height="1.60" fill="#d64c4c"/><rect y="174.46" width="12.306" height="1.60" fill="#d44747"/><rect y="175.46" width="12.306" height="1.60" fill="#d34141"/><rect y="176.46" width="12.306" height="1.60" fill="#d75151"/><rect y="177.47" width="12.306" height="1.60" fill="#d44747"/><rect y="178.47" width="12.306" height="1.60" fill="#d64c4c"/><rect y="179.47" width="12.306" height="1.60" fill="#dc6767"/><rect y="180.47" width="12.306" height="1.60" fill="#da5c5c"/><rect y="181.47" width="12.306" height="1.60" fill="#d64c4c"/><rect y="182.47" width="12.306" height="1.60" fill="#d44747"/><rect y="183.47" width="12.306" height="1.60" fill="#d23c3c"/><rect y="184.47" width="12.306" height="1.60" fill="#d64c4c"/><rect y="185.47" width="12.306" height="1.60" fill="#d13636"/><rect y="186.47" width="12.306" height="1.60" fill="#d34141"/><rect y="187.47" width="12.306" height="1.60" fill="#d23c3c"/><rect y="188.48" width="12.306" height="1.60" fill="#d13636"/><rect y="189.48" width="12.306" height="1.60" fill="#d34141"/><rect y="190.48" width="12.306" height="4.60" fill="#d44747"/><rect y="194.48" width="12.306" height="1.60" fill="#d34141"/><rect y="195.48" width="12.306" height="1.60" fill="#d85757"/><rect y="196.48" width="12.306" height="1.60" fill="#d75151"/><rect y="197.48" width="12.306" height="2.60" fill="#d44747"/><rect y="199.49" width="12.306" height="1.60" fill="#d64c4c"/><rect y="200.49" width="12.306" height="1.60" fill="#d75151"/><rect y="201.49" width="12.306" height="1.60" fill="#d64c4c"/><rect y="202.49" width="12.306" height="1.60" fill="#d44747"/><rect y="203.49" width="12.306" height="1.60" fill="#d34141"/><rect y="204.49" width="12.306" height="1.60" fill="#d64c4c"/><rect y="205.49" width="12.306" height="1.60" fill="#d75151"/><rect y="206.49" width="12.306" height="2.60" fill="#d34141"/><rect y="208.49" width="12.306" height="1.60" fill="#d44747"/><rect y="209.49" width="12.306" height="1.60" fill="#d75151"/><rect y="210.50" width="12.306" height="1.60" fill="#d64c4c"/><rect y="211.50" width="12.306" height="2.60" fill="#d13636"/><rect y="213.50" width="12.306" height="1.60" fill="#ce2b2b"/><rect y="214.50" width="12.306" height="1.60" fill="#d13636"/><rect y="215.50" width="12.306" height="1.60" fill="#d75151"/><rect y="216.50" width="12.306" height="1.60" fill="#d44747"/><rect y="217.50" width="12.306" height="1.60" fill="#d64c4c"/><rect y="218.50" width="12.306" height="1.60" fill="#da5c5c"/><rect y="219.50" width="12.306" height="1.60" fill="#db6262"/><rect y="220.50" width="12.306" height="1.60" fill="#dc6767"/><rect y="221.50" width="12.306" height="1.60" fill="#db6262"/><rect y="222.51" width="12.306" height="1.60" fill="#d85757"/><rect y="223.51" width="12.306" height="1.60" fill="#d75151"/><rect y="224.51" width="12.306" height="1.60" fill="#d34141"/><rect y="225.51" width="12.306" height="2.60" fill="#d64c4c"/><rect y="227.51" width="12.306" height="1.60" fill="#d34141"/><rect y="228.51" width="12.306" height="2.60" fill="#d23c3c"/><rect y="230.51" width="12.306" height="1.60" fill="#d34141"/><rect y="231.51" width="12.306" height="3.60" fill="#da5c5c"/><rect y="234.52" width="12.306" height="1.60" fill="#d85757"/><rect y="235.52" width="12.306" height="1.60" fill="#d64c4c"/><rect y="236.52" width="12.306" height="1.60" fill="#d44747"/><rect y="237.52" width="12.306" height="1.60" fill="#d85757"/><rect y="238.52" width="12.306" height="1.60" fill="#d75151"/><rect y="239.52" width="12.306" height="1.60" fill="#d23c3c"/><rect y="240.52" width="12.306" height="1.60" fill="#d34141"/><rect y="241.52" width="12.306" height="1.60" fill="#da5c5c"/><rect y="242.52" width="12.306" height="1.60" fill="#d75151"/><rect y="243.52" width="12.306" height="1.60" fill="#d64c4c"/><rect y="244.53" width="12.306" height="1.60" fill="#d34141"/><rect y="245.53" width="12.306" height="1.60" fill="#d44747"/><rect y="246.53" width="12.306" height="1.60" fill="#d75151"/><rect y="247.53" width="12.306" height="1.60" fill="#db6262"/><rect y="248.53" width="12.306" height="1.60" fill="#d85757"/><rect y="249.53" width="12.306" height="2.60" fill="#d64c4c"/><rect y="251.53" width="12.306" height="4.60" fill="#db6262"/><rect y="255.54" width="12.306" height="1.60" fill="#da5c5c"/><rect y="256.54" width="12.306" height="1.60" fill="#d85757"/><rect y="257.54" width="12.306" height="1.60" fill="#da5c5c"/><rect y="258.54" width="12.306" height="1.60" fill="#dc6767"/><rect y="259.54" width="12.306" height="1.60" fill="#da5c5c"/><rect y="260.54" width="12.306" height="1.60" fill="#d34141"/><rect y="261.54" width="12.306" height="1.60" fill="#d75151"/><rect y="262.54" width="12.306" height="1.60" fill="#d85757"/><rect y="263.54" width="12.306" height="2.60" fill="#d44747"/><rect y="265.54" width="12.306" height="1.60" fill="#d75151"/><rect y="266.55" width="12.306" height="2.60" fill="#d34141"/><rect y="268.55" width="12.306" height="1.60" fill="#d44747"/><rect y="269.55" width="12.306" height="1.60" fill="#d23c3c"/><rect y="270.55" width="12.306" height="1.60" fill="#da5c5c"/><rect y="271.55" width="12.306" height="1.60" fill="#dc6767"/><rect y="272.55" width="12.306" height="1.60" fill="#da5c5c"/><rect y="273.55" width="12.306" height="1.60" fill="#d64c4c"/><rect y="274.55" width="12.306" height="2.60" fill="#d85757"/><rect y="276.55" width="12.306" height="1.60" fill="#d75151"/><rect y="277.56" width="12.306" height="1.60" fill="#d64c4c"/><rect y="278.56" width="12.306" height="1.60" fill="#d85757"/><rect y="279.56" width="12.306" height="1.60" fill="#d23c3c"/><rect y="280.56" width="12.306" height="1.60" fill="#d44747"/><rect y="281.56" width="12.306" height="1.60" fill="#d85757"/><rect y="282.56" width="12.306" height="1.60" fill="#d75151"/><rect y="283.56" width="12.306" height="1.60" fill="#d23c3c"/><rect y="284.56" width="12.306" height="3.60" fill="#d44747"/><rect y="287.56" width="12.306" height="2.60" fill="#d64c4c"/><rect y="289.57" width="12.306" height="1.60" fill="#d85757"/><rect y="290.57" width="12.306" height="1.60" fill="#db6262"/><rect y="291.57" width="12.306" height="1.60" fill="#d75151"/><rect y="292.57" width="12.306" height="2.60" fill="#d85757"/><rect y="294.57" width="12.306" height="1.60" fill="#da5c5c"/><rect y="295.57" width="12.306" height="1.60" fill="#dc6767"/><rect y="296.57" width="12.306" height="1.60" fill="#dd6d6d"/><rect y="297.57" width="12.306" height="1.60" fill="#f1c3c3"/><rect y="298.57" width="12.306" height="1.60" fill="#ecaeae"/><rect y="299.57" width="12.306" height="1.60" fill="#efb8b8"/><rect y="300.58" width="12.306" height="1.60" fill="#eeb3b3"/><rect y="301.58" width="12.306" height="1.60" fill="#efb8b8"/><rect y="302.58" width="12.306" height="1.60" fill="#e79898"/><rect y="303.58" width="12.306" height="1.60" fill="#eba8a8"/><rect y="304.58" width="12.306" height="1.60" fill="#e58d8d"/><rect y="305.58" width="12.306" height="1.60" fill="#e79898"/><rect y="306.58" width="12.306" height="1.60" fill="#efb8b8"/><rect y="307.58" width="12.306" height="2.60" fill="#eaa3a3"/><rect y="309.58" width="12.306" height="1.60" fill="#f0bebe"/><rect y="310.58" width="12.306" height="1.60" fill="#efb8b8"/><rect y="311.59" width="12.306" height="1.60" fill="#e89d9d"/><rect y="312.59" width="12.306" height="1.60" fill="#e69292"/><rect y="313.59" width="12.306" height="1.60" fill="#e79898"/><rect y="314.59" width="12.306" height="1.60" fill="#cd2626"/><rect y="315.59" width="12.306" height="1.60" fill="#d64c4c"/><rect y="316.59" width="12.306" height="1.60" fill="#cd2626"/><rect y="317.59" width="12.306" height="2.60" fill="#db6262"/><rect y="319.59" width="12.306" height="1.60" fill="#d44747"/><rect y="320.59" width="12.306" height="1.60" fill="#d85757"/><rect y="321.59" width="12.306" height="2.60" fill="#d64c4c"/><rect y="323.60" width="12.306" height="1.60" fill="#d85757"/><rect y="324.60" width="12.306" height="1.60" fill="#d34141"/><rect y="325.60" width="12.306" height="1.60" fill="#d13636"/><rect y="326.60" width="12.306" height="1.00" fill="#d44747"/></g>
<g transform="translate(489.59,0)" shape-rendering="crispEdges">
<rect y="104.40" width="12.306" height="1.60" fill="#d9d9ec"/><rect y="105.40" width="12.306" height="1.60" fill="#e6e6f2"/><rect y="106.40" width="12.306" height="1.60" fill="#d9d9ec"/><rect y="107.40" width="12.306" height="1.60" fill="#e6e6f2"/><rect y="108.40" width="12.306" height="1.60" fill="#d9d9ec"/><rect y="109.40" width="12.306" height="1.60" fill="#e6e6f2"/><rect y="110.41" width="12.306" height="1.60" fill="#d2d2e9"/><rect y="111.41" width="12.306" height="1.60" fill="#e6e6f2"/><rect y="112.41" width="12.306" height="2.60" fill="#ececf5"/><rect y="114.41" width="12.306" height="1.60" fill="#e6e6f2"/><rect y="115.41" width="12.306" height="2.60" fill="#dfdfef"/><rect y="117.41" width="12.306" height="1.60" fill="#d9d9ec"/><rect y="118.41" width="12.306" height="1.60" fill="#c6c6e2"/><rect y="119.41" width="12.306" height="1.60" fill="#cccce6"/><rect y="120.41" width="12.306" height="1.60" fill="#d2d2e9"/><rect y="121.42" width="12.306" height="1.60" fill="#dfdfef"/><rect y="122.42" width="12.306" height="1.60" fill="#e6e6f2"/><rect y="123.42" width="12.306" height="1.60" fill="#f2f2f9"/><rect y="124.42" width="12.306" height="1.60" fill="#e6e6f2"/><rect y="125.42" width="12.306" height="2.60" fill="#dfdfef"/><rect y="127.42" width="12.306" height="1.60" fill="#e6e6f2"/><rect y="128.42" width="12.306" height="1.60" fill="#d9d9ec"/><rect y="129.42" width="12.306" height="1.60" fill="#ececf5"/><rect y="130.42" width="12.306" height="1.60" fill="#f2f2f9"/><rect y="131.42" width="12.306" height="1.60" fill="#ececf5"/><rect y="132.43" width="12.306" height="1.60" fill="#f2f2f9"/><rect y="133.43" width="12.306" height="1.60" fill="#f9f9fc"/><rect y="134.43" width="12.306" height="1.60" fill="#f2f2f9"/><rect y="135.43" width="12.306" height="1.60" fill="#dfdfef"/><rect y="136.43" width="12.306" height="1.60" fill="#f2f2f9"/><rect y="137.43" width="12.306" height="1.60" fill="#dfdfef"/><rect y="138.43" width="12.306" height="1.60" fill="#d2d2e9"/><rect y="139.43" width="12.306" height="1.60" fill="#e6e6f2"/><rect y="140.43" width="12.306" height="1.60" fill="#ececf5"/><rect y="141.43" width="12.306" height="1.60" fill="#e6e6f2"/><rect y="142.43" width="12.306" height="2.60" fill="#dfdfef"/><rect y="144.44" width="12.306" height="1.60" fill="#d9d9ec"/><rect y="145.44" width="12.306" height="1.60" fill="#ececf5"/><rect y="146.44" width="12.306" height="1.60" fill="#e6e6f2"/><rect y="147.44" width="12.306" height="1.60" fill="#ececf5"/><rect y="148.44" width="12.306" height="1.60" fill="#f9f9fc"/><rect y="149.44" width="12.306" height="3.60" fill="#f2f2f9"/><rect y="152.44" width="12.306" height="1.60" fill="#ececf5"/><rect y="153.44" width="12.306" height="1.60" fill="#f2f2f9"/><rect y="154.44" width="12.306" height="1.60" fill="#f9f9fc"/><rect y="155.45" width="12.306" height="1.60" fill="#ececf5"/><rect y="156.45" width="12.306" height="2.60" fill="#dfdfef"/><rect y="158.45" width="12.306" height="2.60" fill="#e6e6f2"/><rect y="160.45" width="12.306" height="1.60" fill="#d9d9ec"/><rect y="161.45" width="12.306" height="2.60" fill="#ececf5"/><rect y="163.45" width="12.306" height="1.60" fill="#e6e6f2"/><rect y="164.45" width="12.306" height="1.60" fill="#d9d9ec"/><rect y="165.45" width="12.306" height="2.60" fill="#dfdfef"/><rect y="167.46" width="12.306" height="1.60" fill="#d2d2e9"/><rect y="168.46" width="12.306" height="3.60" fill="#d9d9ec"/><rect y="171.46" width="12.306" height="1.60" fill="#d2d2e9"/><rect y="172.46" width="12.306" height="1.60" fill="#e6e6f2"/><rect y="173.46" width="12.306" height="1.60" fill="#ececf5"/><rect y="174.46" width="12.306" height="2.60" fill="#f9f9fc"/><rect y="176.46" width="12.306" height="1.60" fill="#ececf5"/><rect y="177.47" width="12.306" height="1.60" fill="#dfdfef"/><rect y="178.47" width="12.306" height="1.60" fill="#f2f2f9"/><rect y="179.47" width="12.306" height="1.60" fill="#e6e6f2"/><rect y="180.47" width="12.306" height="1.60" fill="#dfdfef"/><rect y="181.47" width="12.306" height="1.60" fill="#d2d2e9"/><rect y="182.47" width="12.306" height="1.60" fill="#e6e6f2"/><rect y="183.47" width="12.306" height="1.60" fill="#f2f2f9"/><rect y="184.47" width="12.306" height="1.60" fill="#dfdfef"/><rect y="185.47" width="12.306" height="1.60" fill="#e6e6f2"/><rect y="186.47" width="12.306" height="2.60" fill="#f2f2f9"/><rect y="188.48" width="12.306" height="2.60" fill="#e6e6f2"/><rect y="190.48" width="12.306" height="2.60" fill="#dfdfef"/><rect y="192.48" width="12.306" height="2.60" fill="#e6e6f2"/><rect y="194.48" width="12.306" height="1.60" fill="#dfdfef"/><rect y="195.48" width="12.306" height="2.60" fill="#d9d9ec"/><rect y="197.48" width="12.306" height="1.60" fill="#dfdfef"/><rect y="198.48" width="12.306" height="1.60" fill="#d9d9ec"/><rect y="199.49" width="12.306" height="1.60" fill="#d2d2e9"/><rect y="200.49" width="12.306" height="1.60" fill="#bfbfdf"/><rect y="201.49" width="12.306" height="1.60" fill="#cccce6"/><rect y="202.49" width="12.306" height="2.60" fill="#dfdfef"/><rect y="204.49" width="12.306" height="1.60" fill="#d9d9ec"/><rect y="205.49" width="12.306" height="1.60" fill="#c6c6e2"/><rect y="206.49" width="12.306" height="2.60" fill="#b9b9dc"/><rect y="208.49" width="12.306" height="1.60" fill="#cccce6"/><rect y="209.49" width="12.306" height="1.60" fill="#bfbfdf"/><rect y="210.50" width="12.306" height="1.60" fill="#cccce6"/><rect y="211.50" width="12.306" height="1.60" fill="#c6c6e2"/><rect y="212.50" width="12.306" height="1.60" fill="#cccce6"/><rect y="213.50" width="12.306" height="2.60" fill="#c6c6e2"/><rect y="215.50" width="12.306" height="1.60" fill="#b9b9dc"/><rect y="216.50" width="12.306" height="1.60" fill="#c6c6e2"/><rect y="217.50" width="12.306" height="1.60" fill="#d2d2e9"/><rect y="218.50" width="12.306" height="1.60" fill="#cccce6"/><rect y="219.50" width="12.306" height="2.60" fill="#dfdfef"/><rect y="221.50" width="12.306" height="1.60" fill="#d9d9ec"/><rect y="222.51" width="12.306" height="1.60" fill="#dfdfef"/><rect y="223.51" width="12.306" height="1.60" fill="#ececf5"/><rect y="224.51" width="12.306" height="1.60" fill="#f2f2f9"/><rect y="225.51" width="12.306" height="1.60" fill="#d9d9ec"/><rect y="226.51" width="12.306" height="1.60" fill="#dfdfef"/><rect y="227.51" width="12.306" height="1.60" fill="#8686c3"/><rect y="228.51" width="12.306" height="1.60" fill="#8c8cc6"/><rect y="229.51" width="12.306" height="1.60" fill="#ececf5"/><rect y="230.51" width="12.306" height="1.60" fill="#e6e6f2"/><rect y="231.51" width="12.306" height="2.60" fill="#dfdfef"/><rect y="233.52" width="12.306" height="1.60" fill="#d9d9ec"/><rect y="234.52" width="12.306" height="1.60" fill="#dfdfef"/><rect y="235.52" width="12.306" height="1.60" fill="#d9d9ec"/><rect y="236.52" width="12.306" height="1.60" fill="#d2d2e9"/><rect y="237.52" width="12.306" height="1.60" fill="#cccce6"/><rect y="238.52" width="12.306" height="1.60" fill="#d9d9ec"/><rect y="239.52" width="12.306" height="1.60" fill="#e6e6f2"/><rect y="240.52" width="12.306" height="2.60" fill="#dfdfef"/><rect y="242.52" width="12.306" height="1.60" fill="#d9d9ec"/><rect y="243.52" width="12.306" height="1.60" fill="#e6e6f2"/><rect y="244.53" width="12.306" height="1.60" fill="#dfdfef"/><rect y="245.53" width="12.306" height="1.60" fill="#ececf5"/><rect y="246.53" width="12.306" height="2.60" fill="#d2d2e9"/><rect y="248.53" width="12.306" height="2.60" fill="#dfdfef"/><rect y="250.53" width="12.306" height="1.60" fill="#d9d9ec"/><rect y="251.53" width="12.306" height="1.60" fill="#d2d2e9"/><rect y="252.53" width="12.306" height="2.60" fill="#cccce6"/><rect y="254.53" width="12.306" height="2.60" fill="#d2d2e9"/><rect y="256.54" width="12.306" height="1.60" fill="#d9d9ec"/><rect y="257.54" width="12.306" height="1.60" fill="#d2d2e9"/><rect y="258.54" width="12.306" height="1.60" fill="#cccce6"/><rect y="259.54" width="12.306" height="1.60" fill="#d2d2e9"/><rect y="260.54" width="12.306" height="1.60" fill="#e6e6f2"/><rect y="261.54" width="12.306" height="1.60" fill="#dfdfef"/><rect y="262.54" width="12.306" height="1.60" fill="#d2d2e9"/><rect y="263.54" width="12.306" height="2.60" fill="#dfdfef"/><rect y="265.54" width="12.306" height="1.60" fill="#d9d9ec"/><rect y="266.55" width="12.306" height="1.60" fill="#ececf5"/><rect y="267.55" width="12.306" height="2.60" fill="#dfdfef"/><rect y="269.55" width="12.306" height="2.60" fill="#d9d9ec"/><rect y="271.55" width="12.306" height="1.60" fill="#d2d2e9"/><rect y="272.55" width="12.306" height="1.60" fill="#d9d9ec"/><rect y="273.55" width="12.306" height="1.60" fill="#e6e6f2"/><rect y="274.55" width="12.306" height="2.60" fill="#d9d9ec"/><rect y="276.55" width="12.306" height="1.60" fill="#dfdfef"/><rect y="277.56" width="12.306" height="2.60" fill="#d9d9ec"/><rect y="279.56" width="12.306" height="1.60" fill="#ffffff"/><rect y="280.56" width="12.306" height="1.60" fill="#ececf5"/><rect y="281.56" width="12.306" height="1.60" fill="#dfdfef"/><rect y="282.56" width="12.306" height="1.60" fill="#d9d9ec"/><rect y="283.56" width="12.306" height="1.60" fill="#dfdfef"/><rect y="284.56" width="12.306" height="1.60" fill="#ececf5"/><rect y="285.56" width="12.306" height="1.60" fill="#f2f2f9"/><rect y="286.56" width="12.306" height="2.60" fill="#dfdfef"/><rect y="288.57" width="12.306" height="1.60" fill="#d2d2e9"/><rect y="289.57" width="12.306" height="1.60" fill="#d9d9ec"/><rect y="290.57" width="12.306" height="1.60" fill="#ececf5"/><rect y="291.57" width="12.306" height="1.60" fill="#e6e6f2"/><rect y="292.57" width="12.306" height="1.60" fill="#dfdfef"/><rect y="293.57" width="12.306" height="1.60" fill="#d2d2e9"/><rect y="294.57" width="12.306" height="1.60" fill="#d9d9ec"/><rect y="295.57" width="12.306" height="1.60" fill="#dfdfef"/><rect y="296.57" width="12.306" height="2.60" fill="#d9d9ec"/><rect y="298.57" width="12.306" height="2.60" fill="#d2d2e9"/><rect y="300.58" width="12.306" height="2.60" fill="#d9d9ec"/><rect y="302.58" width="12.306" height="2.60" fill="#e6e6f2"/><rect y="304.58" width="12.306" height="1.60" fill="#acacd6"/><rect y="305.58" width="12.306" height="1.60" fill="#b9b9dc"/><rect y="306.58" width="12.306" height="1.60" fill="#b2b2d9"/><rect y="307.58" width="12.306" height="2.60" fill="#a6a6d3"/><rect y="309.58" width="12.306" height="2.60" fill="#b9b9dc"/><rect y="311.59" width="12.306" height="1.60" fill="#8080c0"/><rect y="312.59" width="12.306" height="1.60" fill="#b9b9dc"/><rect y="313.59" width="12.306" height="1.60" fill="#a6a6d3"/><rect y="314.59" width="12.306" height="1.60" fill="#bfbfdf"/><rect y="315.59" width="12.306" height="1.60" fill="#a6a6d3"/><rect y="316.59" width="12.306" height="1.60" fill="#8c8cc6"/><rect y="317.59" width="12.306" height="1.60" fill="#a6a6d3"/><rect y="318.59" width="12.306" height="1.60" fill="#9f9fcf"/><rect y="319.59" width="12.306" height="1.60" fill="#9999cc"/><rect y="320.59" width="12.306" height="1.60" fill="#a6a6d3"/><rect y="321.59" width="12.306" height="1.60" fill="#acacd6"/><rect y="322.60" width="12.306" height="1.60" fill="#b9b9dc"/><rect y="323.60" width="12.306" height="1.60" fill="#b2b2d9"/><rect y="324.60" width="12.306" height="1.60" fill="#b9b9dc"/><rect y="325.60" width="12.306" height="1.60" fill="#a6a6d3"/><rect y="326.60" width="12.306" height="1.00" fill="#c6c6e2"/></g>
<g transform="translate(501.29,0)" shape-rendering="crispEdges">
<rect y="104.40" width="11.706" height="1.60" fill="#f1c3c3"/><rect y="105.40" width="11.706" height="1.60" fill="#ecaeae"/><rect y="106.40" width="11.706" height="1.60" fill="#f2c9c9"/><rect y="107.40" width="11.706" height="1.60" fill="#f4cece"/><rect y="108.40" width="11.706" height="1.60" fill="#f5d4d4"/><rect y="109.40" width="11.706" height="1.60" fill="#f4cece"/><rect y="110.41" width="11.706" height="1.60" fill="#f2c9c9"/><rect y="111.41" width="11.706" height="1.60" fill="#f0bebe"/><rect y="112.41" width="11.706" height="1.60" fill="#f1c3c3"/><rect y="113.41" width="11.706" height="3.60" fill="#f0bebe"/><rect y="116.41" width="11.706" height="1.60" fill="#efb8b8"/><rect y="117.41" width="11.706" height="3.60" fill="#f4cece"/><rect y="120.41" width="11.706" height="1.60" fill="#f0bebe"/><rect y="121.42" width="11.706" height="1.60" fill="#f5d4d4"/><rect y="122.42" width="11.706" height="2.60" fill="#f0bebe"/><rect y="124.42" width="11.706" height="1.60" fill="#efb8b8"/><rect y="125.42" width="11.706" height="1.60" fill="#eeb3b3"/><rect y="126.42" width="11.706" height="1.60" fill="#ecaeae"/><rect y="127.42" width="11.706" height="1.60" fill="#f2c9c9"/><rect y="128.42" width="11.706" height="1.60" fill="#f4cece"/><rect y="129.42" width="11.706" height="1.60" fill="#f2c9c9"/><rect y="130.42" width="11.706" height="1.60" fill="#f1c3c3"/><rect y="131.42" width="11.706" height="1.60" fill="#eeb3b3"/><rect y="132.43" width="11.706" height="1.60" fill="#eaa3a3"/><rect y="133.43" width="11.706" height="1.60" fill="#e79898"/><rect y="134.43" width="11.706" height="1.60" fill="#eaa3a3"/><rect y="135.43" width="11.706" height="1.60" fill="#ecaeae"/><rect y="136.43" width="11.706" height="1.60" fill="#eaa3a3"/><rect y="137.43" width="11.706" height="1.60" fill="#e79898"/><rect y="138.43" width="11.706" height="1.60" fill="#ecaeae"/><rect y="139.43" width="11.706" height="1.60" fill="#eba8a8"/><rect y="140.43" width="11.706" height="1.60" fill="#e89d9d"/><rect y="141.43" width="11.706" height="1.60" fill="#eba8a8"/><rect y="142.43" width="11.706" height="1.60" fill="#f5d4d4"/><rect y="143.43" width="11.706" height="1.60" fill="#f6d9d9"/><rect y="144.44" width="11.706" height="1.60" fill="#f5d4d4"/><rect y="145.44" width="11.706" height="1.60" fill="#f6d9d9"/><rect y="146.44" width="11.706" height="1.60" fill="#f2c9c9"/><rect y="147.44" width="11.706" height="1.60" fill="#efb8b8"/><rect y="148.44" width="11.706" height="2.60" fill="#eeb3b3"/><rect y="150.44" width="11.706" height="2.60" fill="#e79898"/><rect y="152.44" width="11.706" height="1.60" fill="#e89d9d"/><rect y="153.44" width="11.706" height="1.60" fill="#ecaeae"/><rect y="154.44" width="11.706" height="2.60" fill="#eba8a8"/><rect y="156.45" width="11.706" height="1.60" fill="#eeb3b3"/><rect y="157.45" width="11.706" height="1.60" fill="#efb8b8"/><rect y="158.45" width="11.706" height="1.60" fill="#ecaeae"/><rect y="159.45" width="11.706" height="1.60" fill="#efb8b8"/><rect y="160.45" width="11.706" height="2.60" fill="#ecaeae"/><rect y="162.45" width="11.706" height="1.60" fill="#efb8b8"/><rect y="163.45" width="11.706" height="1.60" fill="#f0bebe"/><rect y="164.45" width="11.706" height="1.60" fill="#f1c3c3"/><rect y="165.45" width="11.706" height="3.60" fill="#f0bebe"/><rect y="168.46" width="11.706" height="2.60" fill="#ecaeae"/><rect y="170.46" width="11.706" height="1.60" fill="#eeb3b3"/><rect y="171.46" width="11.706" height="1.60" fill="#ecaeae"/><rect y="172.46" width="11.706" height="1.60" fill="#eba8a8"/><rect y="173.46" width="11.706" height="1.60" fill="#e89d9d"/><rect y="174.46" width="11.706" height="1.60" fill="#e69292"/><rect y="175.46" width="11.706" height="1.60" fill="#e17d7d"/><rect y="176.46" width="11.706" height="1.60" fill="#e89d9d"/><rect y="177.47" width="11.706" height="1.60" fill="#eeb3b3"/><rect y="178.47" width="11.706" height="1.60" fill="#f1c3c3"/><rect y="179.47" width="11.706" height="2.60" fill="#efb8b8"/><rect y="181.47" width="11.706" height="2.60" fill="#eba8a8"/><rect y="183.47" width="11.706" height="1.60" fill="#eaa3a3"/><rect y="184.47" width="11.706" height="1.60" fill="#efb8b8"/><rect y="185.47" width="11.706" height="1.60" fill="#e69292"/><rect y="186.47" width="11.706" height="1.60" fill="#e89d9d"/><rect y="187.47" width="11.706" height="1.60" fill="#e79898"/><rect y="188.48" width="11.706" height="1.60" fill="#ecaeae"/><rect y="189.48" width="11.706" height="1.60" fill="#f0bebe"/><rect y="190.48" width="11.706" height="1.60" fill="#f4cece"/><rect y="191.48" width="11.706" height="1.60" fill="#f1c3c3"/><rect y="192.48" width="11.706" height="1.60" fill="#eba8a8"/><rect y="193.48" width="11.706" height="3.60" fill="#eaa3a3"/><rect y="196.48" width="11.706" height="1.60" fill="#efb8b8"/><rect y="197.48" width="11.706" height="2.60" fill="#eeb3b3"/><rect y="199.49" width="11.706" height="1.60" fill="#f1c3c3"/><rect y="200.49" width="11.706" height="1.60" fill="#f9e4e4"/><rect y="201.49" width="11.706" height="3.60" fill="#f4cece"/><rect y="204.49" width="11.706" height="2.60" fill="#f0bebe"/><rect y="206.49" width="11.706" height="1.60" fill="#f2c9c9"/><rect y="207.49" width="11.706" height="1.60" fill="#f5d4d4"/><rect y="208.49" width="11.706" height="1.60" fill="#f4cece"/><rect y="209.49" width="11.706" height="1.60" fill="#f5d4d4"/><rect y="210.50" width="11.706" height="1.60" fill="#f4cece"/><rect y="211.50" width="11.706" height="1.60" fill="#efb8b8"/><rect y="212.50" width="11.706" height="1.60" fill="#eeb3b3"/><rect y="213.50" width="11.706" height="1.60" fill="#ecaeae"/><rect y="214.50" width="11.706" height="2.60" fill="#eeb3b3"/><rect y="216.50" width="11.706" height="1.60" fill="#f1c3c3"/><rect y="217.50" width="11.706" height="1.60" fill="#efb8b8"/><rect y="218.50" width="11.706" height="1.60" fill="#f0bebe"/><rect y="219.50" width="11.706" height="1.60" fill="#f2c9c9"/><rect y="220.50" width="11.706" height="1.60" fill="#f5d4d4"/><rect y="221.50" width="11.706" height="2.60" fill="#f2c9c9"/><rect y="223.51" width="11.706" height="1.60" fill="#ecaeae"/><rect y="224.51" width="11.706" height="1.60" fill="#eeb3b3"/><rect y="225.51" width="11.706" height="2.60" fill="#f1c3c3"/><rect y="227.51" width="11.706" height="1.60" fill="#eba8a8"/><rect y="228.51" width="11.706" height="1.60" fill="#eaa3a3"/><rect y="229.51" width="11.706" height="1.60" fill="#eba8a8"/><rect y="230.51" width="11.706" height="1.60" fill="#efb8b8"/><rect y="231.51" width="11.706" height="1.60" fill="#f2c9c9"/><rect y="232.51" width="11.706" height="1.60" fill="#f1c3c3"/><rect y="233.52" width="11.706" height="1.60" fill="#f2c9c9"/><rect y="234.52" width="11.706" height="1.60" fill="#ecaeae"/><rect y="235.52" width="11.706" height="1.60" fill="#efb8b8"/><rect y="236.52" width="11.706" height="1.60" fill="#f0bebe"/><rect y="237.52" width="11.706" height="1.60" fill="#f4cece"/><rect y="238.52" width="11.706" height="1.60" fill="#f0bebe"/><rect y="239.52" width="11.706" height="1.60" fill="#ecaeae"/><rect y="240.52" width="11.706" height="1.60" fill="#eaa3a3"/><rect y="241.52" width="11.706" height="1.60" fill="#eba8a8"/><rect y="242.52" width="11.706" height="1.60" fill="#eeb3b3"/><rect y="243.52" width="11.706" height="1.60" fill="#eba8a8"/><rect y="244.53" width="11.706" height="2.60" fill="#eaa3a3"/><rect y="246.53" width="11.706" height="1.60" fill="#ecaeae"/><rect y="247.53" width="11.706" height="1.60" fill="#efb8b8"/><rect y="248.53" width="11.706" height="1.60" fill="#eeb3b3"/><rect y="249.53" width="11.706" height="1.60" fill="#eba8a8"/><rect y="250.53" width="11.706" height="1.60" fill="#eaa3a3"/><rect y="251.53" width="11.706" height="1.60" fill="#f0bebe"/><rect y="252.53" width="11.706" height="2.60" fill="#f2c9c9"/><rect y="254.53" width="11.706" height="1.60" fill="#efb8b8"/><rect y="255.54" width="11.706" height="1.60" fill="#eaa3a3"/><rect y="256.54" width="11.706" height="1.60" fill="#e79898"/><rect y="257.54" width="11.706" height="1.60" fill="#e89d9d"/><rect y="258.54" width="11.706" height="1.60" fill="#ecaeae"/><rect y="259.54" width="11.706" height="1.60" fill="#efb8b8"/><rect y="260.54" width="11.706" height="2.60" fill="#eba8a8"/><rect y="262.54" width="11.706" height="1.60" fill="#ecaeae"/><rect y="263.54" width="11.706" height="1.60" fill="#eba8a8"/><rect y="264.54" width="11.706" height="2.60" fill="#ecaeae"/><rect y="266.55" width="11.706" height="1.60" fill="#e89d9d"/><rect y="267.55" width="11.706" height="1.60" fill="#f0bebe"/><rect y="268.55" width="11.706" height="1.60" fill="#eeb3b3"/><rect y="269.55" width="11.706" height="1.60" fill="#f1c3c3"/><rect y="270.55" width="11.706" height="1.60" fill="#f4cece"/><rect y="271.55" width="11.706" height="1.60" fill="#f1c3c3"/><rect y="272.55" width="11.706" height="1.60" fill="#efb8b8"/><rect y="273.55" width="11.706" height="1.60" fill="#eba8a8"/><rect y="274.55" width="11.706" height="1.60" fill="#ecaeae"/><rect y="275.55" width="11.706" height="1.60" fill="#f0bebe"/><rect y="276.55" width="11.706" height="1.60" fill="#ecaeae"/><rect y="277.56" width="11.706" height="1.60" fill="#eaa3a3"/><rect y="278.56" width="11.706" height="1.60" fill="#eeb3b3"/><rect y="279.56" width="11.706" height="2.60" fill="#ecaeae"/><rect y="281.56" width="11.706" height="2.60" fill="#eeb3b3"/><rect y="283.56" width="11.706" height="1.60" fill="#ecaeae"/><rect y="284.56" width="11.706" height="1.60" fill="#e58d8d"/><rect y="285.56" width="11.706" height="1.60" fill="#e79898"/><rect y="286.56" width="11.706" height="2.60" fill="#eaa3a3"/><rect y="288.57" width="11.706" height="1.60" fill="#eeb3b3"/><rect y="289.57" width="11.706" height="1.60" fill="#f0bebe"/><rect y="290.57" width="11.706" height="2.60" fill="#f2c9c9"/><rect y="292.57" width="11.706" height="1.60" fill="#f5d4d4"/><rect y="293.57" width="11.706" height="1.60" fill="#f1c3c3"/><rect y="294.57" width="11.706" height="1.60" fill="#f2c9c9"/><rect y="295.57" width="11.706" height="1.60" fill="#f5d4d4"/><rect y="296.57" width="11.706" height="2.60" fill="#f6d9d9"/><rect y="298.57" width="11.706" height="1.60" fill="#f5d4d4"/><rect y="299.57" width="11.706" height="1.60" fill="#f6d9d9"/><rect y="300.58" width="11.706" height="2.60" fill="#f8dede"/><rect y="302.58" width="11.706" height="1.60" fill="#f9e4e4"/><rect y="303.58" width="11.706" height="1.60" fill="#f5d4d4"/><rect y="304.58" width="11.706" height="1.60" fill="#f6d9d9"/><rect y="305.58" width="11.706" height="1.60" fill="#f4cece"/><rect y="306.58" width="11.706" height="2.60" fill="#f2c9c9"/><rect y="308.58" width="11.706" height="1.60" fill="#f1c3c3"/><rect y="309.58" width="11.706" height="1.60" fill="#efb8b8"/><rect y="310.58" width="11.706" height="1.60" fill="#f1c3c3"/><rect y="311.59" width="11.706" height="1.60" fill="#ffffff"/><rect y="312.59" width="11.706" height="2.60" fill="#f4cece"/><rect y="314.59" width="11.706" height="3.60" fill="#f5d4d4"/><rect y="317.59" width="11.706" height="1.60" fill="#f1c3c3"/><rect y="318.59" width="11.706" height="2.60" fill="#f8dede"/><rect y="320.59" width="11.706" height="1.60" fill="#f4cece"/><rect y="321.59" width="11.706" height="1.60" fill="#f5d4d4"/><rect y="322.60" width="11.706" height="1.60" fill="#f4cece"/><rect y="323.60" width="11.706" height="1.60" fill="#f6d9d9"/><rect y="324.60" width="11.706" height="1.60" fill="#f5d4d4"/><rect y="325.60" width="11.706" height="1.60" fill="#f6d9d9"/><rect y="326.60" width="11.706" height="1.00" fill="#f1c3c3"/></g>
<path d="M312.9,104.7H312.6V105.1H312.9M312.9,105.5H312.6V105.9H312.9M312.6,104.9H312.4V105.7H312.6M312.9,106.9H312.6V107.3H312.9M312.9,106.4H312.4V107.1H312.6M312.9,108.2H312.6V108.6H312.9M312.9,107.8H312.4V108.4H312.6M312.9,109.1H312.5V109.6H312.9M312.4,108.1H312.2V109.3H312.5M312.4,106.8H312.0V108.7H312.2M312.4,105.3H311.8V107.7H312.0M312.9,110.0H312.6V110.4H312.9M312.9,111.4H312.6V111.8H312.9M312.6,111.6H312.4V112.2H312.9M312.9,110.9H312.2V111.9H312.4M312.6,110.2H312.0V111.4H312.2M312.9,113.3H312.5V113.8H312.9M312.9,112.7H312.3V113.5H312.5M312.0,110.8H311.8V113.1H312.3M312.9,114.3H312.5V114.8H312.9M312.9,115.4H312.5V115.9H312.9M312.5,114.5H312.3V115.7H312.5M311.8,112.0H311.6V115.1H312.3M311.8,106.5H311.4V113.5H311.6M312.9,116.7H312.5V117.1H312.9M312.9,116.3H312.3V116.9H312.5M312.9,117.5H312.5V118.0H312.9M312.3,116.6H312.1V117.8H312.5M312.9,118.5H312.4V119.0H312.9M312.1,117.2H311.9V118.8H312.4M312.9,119.5H312.5V119.9H312.9M312.9,120.3H312.5V120.8H312.9M312.5,120.6H312.2V121.3H312.9M312.5,119.7H312.0V120.9H312.2M312.9,121.9H312.4V122.4H312.9M312.0,120.3H311.8V122.2H312.4M311.9,118.0H311.6V121.2H311.8M312.9,123.0H312.4V123.5H312.9M312.9,123.9H312.4V124.4H312.9M312.4,123.2H312.1V124.2H312.4M312.9,125.5H312.6V125.9H312.9M312.9,125.0H312.3V125.7H312.6M312.1,123.7H311.9V125.4H312.3M312.9,126.3H312.4V126.9H312.9M312.9,127.5H312.5V128.0H312.9M312.5,127.7H312.3V128.4H312.9M312.9,128.9H312.5V129.4H312.9M312.3,128.1H312.0V129.1H312.5M312.4,126.6H311.8V128.6H312.0M312.9,130.0H312.5V130.5H312.9M312.9,131.0H312.5V131.4H312.9M312.5,130.2H312.2V131.2H312.5M311.8,127.6H311.6V130.7H312.2M311.9,124.5H311.4V129.2H311.6M311.6,119.6H311.2V126.9H311.4M312.9,131.8H312.4V132.3H312.9M312.9,132.9H312.2V133.6H312.9M312.4,132.1H312.0V133.2H312.2M312.9,134.0H312.4V134.5H312.9M312.0,132.6H311.8V134.3H312.4M312.9,135.1H312.4V135.5H312.9M312.4,135.3H312.2V136.1H312.9M312.9,136.6H312.5V137.0H312.9M312.5,136.8H312.3V137.5H312.9M312.2,135.7H311.9V137.1H312.3M312.9,138.1H312.2V138.7H312.9M312.9,139.2H312.4V139.7H312.9M312.2,138.4H312.0V139.5H312.4M311.9,136.4H311.6V138.9H312.0M311.8,133.5H311.3V137.7H311.6M312.9,140.3H312.3V140.8H312.9M312.9,141.8H312.4V142.2H312.9M312.9,141.4H312.2V142.0H312.4M312.9,142.6H312.5V143.0H312.9M312.2,141.7H312.0V142.8H312.5M312.3,140.6H311.8V142.2H312.0M312.9,143.4H312.4V143.8H312.9M312.9,144.3H312.3V144.9H312.9M312.4,143.6H312.0V144.6H312.3M312.9,145.4H312.3V146.0H312.9M312.0,144.1H311.7V145.7H312.3M311.8,141.4H311.4V144.9H311.7M312.9,146.6H312.2V147.1H312.9M312.9,147.5H312.4V147.9H312.9M312.4,147.7H312.1V148.5H312.9M312.2,146.9H311.9V148.1H312.1M312.9,149.1H312.4V149.6H312.9M312.9,149.9H312.3V150.5H312.9M312.4,149.4H311.9V150.2H312.3M311.9,147.5H311.5V149.8H311.9M312.9,151.1H312.3V151.6H312.9M312.9,152.0H312.4V152.4H312.9M312.4,152.2H312.1V153.0H312.9M312.3,151.4H311.8V152.6H312.1M311.5,148.6H311.2V152.0H311.8M312.9,153.6H312.4V154.0H312.9M312.4,153.8H312.2V154.3H312.9M312.9,154.8H312.3V155.2H312.9M312.9,155.5H312.3V155.9H312.9M312.3,155.0H312.0V155.7H312.3M312.9,156.4H312.2V156.9H312.9M312.0,155.4H311.7V156.7H312.2M312.2,154.1H311.5V156.0H311.7M312.9,157.5H312.2V158.0H312.9M312.9,158.6H312.3V159.0H312.9M312.3,158.8H312.1V159.5H312.9M312.2,157.7H311.8V159.2H312.1M312.9,160.9H312.3V161.4H312.9M312.3,161.2H312.0V161.9H312.9M312.9,160.2H311.8V161.5H312.0M311.8,158.5H311.3V160.8H311.8M311.5,155.0H310.9V159.6H311.3M312.9,163.8H312.3V164.2H312.9M312.9,163.2H312.1V164.0H312.3M312.9,162.5H311.9V163.6H312.1M312.9,164.6H312.1V165.2H312.9M312.9,166.2H312.3V166.7H312.9M312.9,165.8H312.0V166.5H312.3M312.9,167.2H312.3V167.7H312.9M312.0,166.1H311.8V167.4H312.3M312.1,164.9H311.6V166.8H311.8M311.9,163.1H311.2V165.9H311.6M310.9,157.3H310.3V164.5H311.2M312.9,168.8H312.3V169.3H312.9M312.9,168.3H311.9V169.1H312.3M312.9,169.8H312.2V170.3H312.9M312.2,170.0H312.0V170.8H312.9M312.9,171.4H312.4V171.8H312.9M312.4,171.6H312.0V172.3H312.9M312.0,172.0H311.8V172.9H312.9M312.0,170.4H311.4V172.4H311.8M311.9,168.7H311.0V171.4H311.4M312.9,174.0H312.3V174.4H312.9M312.9,173.4H312.1V174.2H312.3M312.1,173.8H311.9V174.9H312.9M312.9,176.1H312.2V176.6H312.9M312.9,175.5H311.9V176.4H312.2M311.9,174.3H311.5V175.9H311.9M312.9,177.1H312.3V177.5H312.9M312.9,177.8H312.3V178.3H312.9M312.3,177.3H311.9V178.1H312.3M311.5,175.1H311.2V177.7H311.9M312.9,179.4H312.1V180.0H312.9M312.9,178.8H311.9V179.7H312.1M312.9,181.0H312.3V181.4H312.9M312.9,180.5H312.1V181.2H312.3M311.9,179.3H311.6V180.8H312.1M312.9,181.8H312.2V182.4H312.9M312.2,182.1H311.8V183.1H312.9M311.6,180.0H311.2V182.6H311.8M311.2,176.4H310.5V181.3H311.2M311.0,170.1H310.0V178.9H310.5M312.9,184.2H312.3V184.6H312.9M312.9,183.7H311.9V184.4H312.3M312.9,185.7H312.3V186.1H312.9M312.9,185.1H312.0V185.9H312.3M311.9,184.1H311.5V185.5H312.0M312.9,187.2H312.2V187.6H312.9M312.9,186.6H311.8V187.4H312.2M311.8,187.0H311.6V188.2H312.9M312.9,188.8H312.1V189.4H312.9M312.9,189.8H312.1V190.3H312.9M312.1,189.1H311.8V190.0H312.1M311.6,187.6H311.1V189.6H311.8M311.5,184.8H310.5V188.6H311.1M312.9,190.8H312.2V191.3H312.9M312.9,191.9H312.1V192.4H312.9M312.2,191.0H311.8V192.1H312.1M312.9,193.3H312.3V193.7H312.9M312.9,192.8H312.0V193.5H312.3M312.9,194.1H312.1V194.7H312.9M312.1,194.4H311.8V195.2H312.9M312.0,193.2H311.5V194.8H311.8M311.8,191.6H311.0V194.0H311.5M312.9,195.6H312.3V196.0H312.9M312.9,196.4H312.3V196.8H312.9M312.3,196.6H311.9V197.5H312.9M312.3,195.8H311.6V197.0H311.9M311.0,192.8H310.7V196.4H311.6M310.5,186.7H310.0V194.6H310.7M312.9,198.1H312.2V198.6H312.9M312.9,199.0H312.1V199.5H312.9M312.2,198.3H311.7V199.3H312.1M312.9,200.1H312.1V200.6H312.9M312.9,201.2H312.1V201.6H312.9M312.9,202.5H312.1V203.0H312.9M312.9,202.1H311.8V202.7H312.1M312.1,201.4H311.6V202.4H311.8M312.1,200.3H311.1V201.9H311.6M311.7,198.8H310.7V201.1H311.1M312.9,203.4H312.2V203.8H312.9M312.9,204.4H312.1V204.9H312.9M312.2,203.6H311.7V204.6H312.1M312.9,205.3H312.1V205.8H312.9M311.7,204.1H311.4V205.6H312.1M310.7,200.0H310.4V204.9H311.4M312.9,206.7H312.2V207.1H312.9M312.9,206.3H311.9V206.9H312.2M312.9,207.5H312.0V208.0H312.9M312.9,208.6H312.1V209.0H312.9M312.0,207.7H311.6V208.8H312.1M312.9,209.4H312.1V209.9H312.9M311.6,208.3H311.4V209.6H312.1M311.9,206.6H310.9V209.0H311.4M312.9,210.8H312.2V211.2H312.9M312.9,210.4H311.9V211.0H312.2M312.9,211.6H312.2V212.0H312.9M312.2,211.8H312.0V212.4H312.9M311.9,210.7H311.3V212.1H312.0M310.9,207.8H310.5V211.4H311.3M312.9,212.9H312.2V213.4H312.9M312.2,213.2H311.9V213.7H312.9M312.9,214.3H312.1V214.8H312.9M312.1,214.5H311.6V215.4H312.9M311.9,213.4H311.1V214.9H311.6M312.9,216.0H311.9V216.6H312.9M312.9,217.2H312.1V217.6H312.9M312.9,217.9H312.2V218.3H312.9M312.1,217.4H311.8V218.1H312.2M311.9,216.3H311.2V217.8H311.8M312.9,218.8H311.9V219.5H312.9M312.9,220.1H312.1V220.5H312.9M311.9,219.2H311.5V220.3H312.1M311.2,217.0H310.6V219.7H311.5M311.1,214.2H310.4V218.4H310.6M310.5,209.6H309.4V216.3H310.4M312.9,220.8H312.0V221.4H312.9M312.9,222.6H312.0V223.1H312.9M312.9,222.0H311.7V222.8H312.0M311.7,222.4H311.3V223.7H312.9M312.0,221.1H311.0V223.1H311.3M312.9,224.3H312.1V224.7H312.9M312.1,224.5H311.8V225.3H312.9M312.9,225.8H312.0V226.3H312.9M311.8,224.9H311.3V226.1H312.0M312.9,226.8H312.1V227.3H312.9M312.9,227.7H312.0V228.2H312.9M312.1,227.1H311.5V227.9H312.0M311.3,225.5H310.7V227.5H311.5M311.0,222.1H310.3V226.5H310.7M312.9,228.8H312.1V229.2H312.9M312.9,229.7H311.9V230.3H312.9M311.9,230.0H311.7V230.7H312.9M312.1,229.0H311.4V230.4H311.7M312.9,231.2H312.1V231.7H312.9M312.1,231.4H311.7V232.2H312.9M312.9,232.8H312.2V233.1H312.9M312.9,233.9H312.1V234.4H312.9M312.9,233.5H311.8V234.1H312.1M312.2,232.9H311.6V233.8H311.8M311.7,231.8H311.1V233.4H311.6M311.4,229.7H310.4V232.6H311.1M312.9,235.2H311.9V235.8H312.9M312.9,234.8H311.7V235.5H311.9M312.9,236.4H311.9V237.0H312.9M311.7,235.2H311.2V236.7H311.9M312.9,238.2H311.9V238.8H312.9M312.9,237.6H311.6V238.5H311.9M312.9,239.2H311.8V239.8H312.9M311.8,239.5H311.5V240.5H312.9M311.6,238.0H310.9V240.0H311.5M311.2,235.9H310.4V239.0H310.9M312.9,241.6H312.0V242.0H312.9M312.9,241.1H311.7V241.8H312.0M312.9,242.6H311.8V243.2H312.9M311.8,242.9H311.4V243.8H312.9M311.7,241.4H310.8V243.4H311.4M310.4,237.5H309.5V242.4H310.8M312.9,244.3H312.0V244.8H312.9M312.9,246.0H311.9V246.6H312.9M312.9,245.5H311.6V246.3H311.9M312.0,244.6H311.1V245.9H311.6M312.9,247.0H312.1V247.4H312.9M312.1,247.2H311.7V247.9H312.9M311.1,245.2H310.5V247.6H311.7M312.9,248.5H311.6V249.2H312.9M312.9,249.7H312.0V250.2H312.9M312.0,250.0H311.6V250.8H312.9M311.6,248.8H311.0V250.4H311.6M312.9,252.0H312.2V252.3H312.9M312.9,251.4H311.6V252.2H312.2M312.9,252.7H312.1V253.0H312.9M312.1,252.9H311.8V253.5H312.9M311.8,253.2H311.5V254.1H312.9M312.9,254.7H311.9V255.3H312.9M311.5,253.6H310.8V255.0H311.9M311.6,251.8H310.5V254.3H310.8M311.0,249.6H309.9V253.0H310.5M310.5,246.4H309.6V251.3H309.9M312.9,255.9H311.9V256.3H312.9M311.9,256.1H311.5V256.7H312.9M312.9,257.8H311.8V258.3H312.9M312.9,257.2H311.6V258.1H311.8M311.5,256.4H310.9V257.6H311.6M312.9,259.5H311.7V260.0H312.9M312.9,258.9H311.2V259.8H311.7M310.9,257.0H310.3V259.3H311.2M312.9,261.0H312.0V261.4H312.9M312.9,260.5H311.6V261.2H312.0M312.9,261.8H311.9V262.2H312.9M312.9,262.7H312.0V263.1H312.9M311.9,262.0H311.4V262.9H312.0M312.9,263.6H312.0V264.0H312.9M311.4,262.4H311.1V263.8H312.0M311.6,260.9H310.5V263.1H311.1M312.9,264.8H312.0V265.2H312.9M312.9,264.4H311.8V265.0H312.0M312.9,265.6H311.7V266.2H312.9M311.8,264.7H311.2V265.9H311.7M312.9,266.8H311.9V267.3H312.9M312.9,267.8H311.8V268.4H312.9M311.9,267.0H311.2V268.1H311.8M312.9,268.8H312.0V269.2H312.9M312.9,269.7H312.0V270.2H312.9M312.0,269.0H311.3V270.0H312.0M311.2,267.6H310.5V269.5H311.3M311.2,265.3H310.0V268.5H310.5M310.5,262.0H309.2V266.9H310.0M310.3,258.2H308.6V264.4H309.2M312.9,270.6H311.7V271.1H312.9M312.9,271.7H311.6V272.3H312.9M311.7,270.9H311.0V272.0H311.6M312.9,272.8H311.7V273.3H312.9M311.0,271.4H310.4V273.1H311.7M312.9,273.8H311.9V274.3H312.9M311.9,274.1H311.6V274.7H312.9M312.9,275.0H311.9V275.4H312.9M311.6,274.4H311.2V275.2H311.9M310.4,272.2H310.1V274.8H311.2M312.9,275.9H311.7V276.5H312.9M312.9,277.1H311.8V277.6H312.9M311.8,277.3H311.5V278.1H312.9M311.7,276.2H310.9V277.7H311.5M310.1,273.5H309.4V277.0H310.9M312.9,278.6H312.0V279.0H312.9M312.0,278.8H311.7V279.3H312.9M312.9,279.7H311.6V280.3H312.9M311.7,279.1H310.9V280.0H311.6M312.9,281.4H311.9V281.8H312.9M312.9,280.9H311.4V281.6H311.9M310.9,279.5H310.5V281.2H311.4M312.9,282.9H311.8V283.4H312.9M312.9,282.3H311.3V283.1H311.8M310.5,280.4H309.9V282.7H311.3M312.9,284.5H311.9V285.0H312.9M312.9,284.0H311.3V284.7H311.9M312.9,285.5H311.8V286.0H312.9M311.3,284.4H310.9V285.7H311.8M309.9,281.5H309.2V285.1H310.9M312.9,286.3H312.0V286.7H312.9M312.9,287.2H311.9V287.6H312.9M311.9,287.4H311.5V288.2H312.9M312.0,286.5H310.9V287.8H311.5M312.9,288.8H311.5V289.4H312.9M310.9,287.2H310.3V289.1H311.5M309.2,283.3H308.7V288.1H310.3M312.9,290.0H311.7V290.5H312.9M312.9,290.9H311.7V291.3H312.9M311.7,291.1H311.4V291.8H312.9M311.7,290.3H310.9V291.5H311.4M312.9,292.8H312.0V293.2H312.9M312.0,293.0H311.5V293.6H312.9M312.9,292.4H311.0V293.3H311.5M312.9,294.6H311.9V295.0H312.9M312.9,294.1H311.4V294.8H311.9M312.9,295.5H311.6V296.1H312.9M312.9,296.7H311.5V297.3H312.9M311.6,295.8H310.9V297.0H311.5M311.4,294.5H310.1V296.4H310.9M311.0,292.8H309.5V295.4H310.1M310.9,290.9H309.3V294.1H309.5M312.9,297.7H311.8V298.2H312.9M312.9,298.6H311.8V299.0H312.9M311.8,297.9H311.1V298.8H311.8M312.9,299.5H311.9V299.8H312.9M311.1,298.4H310.6V299.7H311.9M312.9,300.4H310.1V300.8H312.9M310.1,300.6H309.5V301.3H312.9M312.9,301.7H309.9V302.2H312.9M312.9,303.2H310.4V303.6H312.9M312.9,302.7H309.5V303.4H310.4M309.9,302.0H308.3V303.1H309.5M309.5,300.9H306.3V302.5H308.3M312.9,304.0H310.5V304.4H312.9M310.5,304.2H309.0V304.8H312.9M312.9,305.4H310.1V305.9H312.9M312.9,306.3H309.5V306.9H312.9M310.1,305.6H308.3V306.6H309.5M309.0,304.5H306.6V306.1H308.3M306.3,301.7H303.4V305.3H306.6M312.9,307.5H309.8V308.0H312.9M312.9,308.7H310.3V309.1H312.9M312.9,309.5H310.3V310.0H312.9M310.3,308.9H308.8V309.7H310.3M309.8,307.8H307.3V309.3H308.8M312.9,311.1H310.2V311.5H312.9M310.2,311.3H309.5V311.9H312.9M312.9,310.5H308.2V311.6H309.5M312.9,312.4H310.0V312.8H312.9M310.0,312.6H308.7V313.4H312.9M308.2,311.0H306.3V313.0H308.7M307.3,308.5H304.4V312.0H306.3M312.9,314.7H309.5V315.3H312.9M312.9,314.0H308.5V315.0H309.5M312.9,315.9H310.1V316.3H312.9M308.5,314.5H307.6V316.1H310.1M304.4,310.3H302.3V315.3H307.6M303.4,303.5H301.6V312.8H302.3M312.9,317.1H307.8V317.7H312.9M312.9,318.9H308.5V319.5H312.9M312.9,318.4H307.0V319.2H308.5M307.8,317.4H303.7V318.8H307.0M312.9,321.0H309.4V321.4H312.9M312.9,320.6H308.1V321.2H309.4M312.9,320.1H307.1V320.9H308.1M312.9,321.8H308.9V322.3H312.9M307.1,320.5H304.6V322.0H308.9M303.7,318.1H300.9V321.3H304.6M312.9,323.3H309.0V323.8H312.9M312.9,322.8H307.5V323.5H309.0M307.5,323.2H305.9V324.3H312.9M312.9,324.9H308.8V325.4H312.9M308.8,325.1H306.4V326.0H312.9M312.9,326.7H307.5V327.3H312.9M306.4,325.6H303.7V327.0H307.5M305.9,323.7H302.1V326.3H303.7M300.9,319.7H297.7V325.0H302.1" fill="none" stroke="#111" stroke-width="0.55"/>
<path d="M311.4,110.0H310.0V123.2H311.2M310.0,116.6H309.6V135.6H311.3M309.6,126.1H309.2V143.1H311.4M309.2,134.6H308.7V150.3H311.2M308.7,142.5H307.6V160.9H310.3M307.6,151.7H306.1V174.5H310.0M306.1,163.1H304.4V190.6H310.0M304.4,176.9H303.6V202.4H310.4M303.6,189.6H303.1V212.9H309.4M303.1,201.3H302.8V224.3H310.3M302.8,212.8H302.5V231.1H310.4M302.5,222.0H302.2V239.9H309.5M302.2,231.0H301.9V248.9H309.6M308.6,261.3H301.7V275.2H309.4M301.7,268.3H300.4V285.7H308.7M300.4,277.0H299.6V292.5H309.3M299.6,284.7H298.8V299.0H310.6M301.9,239.9H296.7V291.9H298.8M296.7,265.9H291.1V308.2H301.6M291.1,287.0H283.5V322.3H297.7" fill="none" stroke="#222" stroke-width="0.5"/>
<text transform="translate(321.95,351.2) rotate(-90)" font-size="6.1" fill="#231f20" stroke="#231f20" style="stroke-width:0" textLength="20.5" lengthAdjust="spacingAndGlyphs">UPN03</text>
<text transform="translate(333.66,351.2) rotate(-90)" font-size="6.1" fill="#231f20" stroke="#231f20" style="stroke-width:0" textLength="20.5" lengthAdjust="spacingAndGlyphs">UPN01</text>
<text transform="translate(345.36,351.2) rotate(-90)" font-size="6.1" fill="#231f20" stroke="#231f20" style="stroke-width:0" textLength="20.5" lengthAdjust="spacingAndGlyphs">UPN11</text>
<text transform="translate(357.07,351.2) rotate(-90)" font-size="6.1" fill="#231f20" stroke="#231f20" style="stroke-width:0" textLength="20.5" lengthAdjust="spacingAndGlyphs">UPN08</text>
<text transform="translate(368.78,351.2) rotate(-90)" font-size="6.1" fill="#231f20" stroke="#231f20" style="stroke-width:0" textLength="20.5" lengthAdjust="spacingAndGlyphs">UPN02</text>
<text transform="translate(380.48,351.2) rotate(-90)" font-size="6.1" fill="#231f20" stroke="#231f20" style="stroke-width:0" textLength="20.5" lengthAdjust="spacingAndGlyphs">UPN13</text>
<text transform="translate(392.19,351.2) rotate(-90)" font-size="6.1" fill="#231f20" stroke="#231f20" style="stroke-width:0" textLength="17.5" lengthAdjust="spacingAndGlyphs">NBM2</text>
<text transform="translate(403.89,351.2) rotate(-90)" font-size="6.1" fill="#231f20" stroke="#231f20" style="stroke-width:0" textLength="17.5" lengthAdjust="spacingAndGlyphs">NBM3</text>
<text transform="translate(415.60,351.2) rotate(-90)" font-size="6.1" fill="#231f20" stroke="#231f20" style="stroke-width:0" textLength="17.5" lengthAdjust="spacingAndGlyphs">NBM4</text>
<text transform="translate(427.31,351.2) rotate(-90)" font-size="6.1" fill="#231f20" stroke="#231f20" style="stroke-width:0" textLength="17.5" lengthAdjust="spacingAndGlyphs">NBM1</text>
<text transform="translate(439.01,351.2) rotate(-90)" font-size="6.1" fill="#231f20" stroke="#231f20" style="stroke-width:0" textLength="17.5" lengthAdjust="spacingAndGlyphs">NBM5</text>
<text transform="translate(450.72,351.2) rotate(-90)" font-size="6.1" fill="#231f20" stroke="#231f20" style="stroke-width:0" textLength="20.5" lengthAdjust="spacingAndGlyphs">UPN09</text>
<text transform="translate(462.42,351.2) rotate(-90)" font-size="6.1" fill="#231f20" stroke="#231f20" style="stroke-width:0" textLength="20.5" lengthAdjust="spacingAndGlyphs">UPN20</text>
<text transform="translate(474.13,351.2) rotate(-90)" font-size="6.1" fill="#231f20" stroke="#231f20" style="stroke-width:0" textLength="20.5" lengthAdjust="spacingAndGlyphs">UPN17</text>
<text transform="translate(485.84,351.2) rotate(-90)" font-size="6.1" fill="#231f20" stroke="#231f20" style="stroke-width:0" textLength="20.5" lengthAdjust="spacingAndGlyphs">UPN18</text>
<text transform="translate(497.54,351.2) rotate(-90)" font-size="6.1" fill="#231f20" stroke="#231f20" style="stroke-width:0" textLength="20.5" lengthAdjust="spacingAndGlyphs">UPN16</text>
<text transform="translate(509.25,351.2) rotate(-90)" font-size="6.1" fill="#231f20" stroke="#231f20" style="stroke-width:0" textLength="20.5" lengthAdjust="spacingAndGlyphs">UPN19</text>
<rect x="0" y="0" width="520" height="1" fill="#000"/><rect x="0" y="0" width="1" height="432" fill="#000"/>
<rect x="518.6" y="0" width="1.4" height="432" fill="#000"/><rect x="0" y="430.5" width="520" height="1.5" fill="#000"/>
</svg></div></body></html>
